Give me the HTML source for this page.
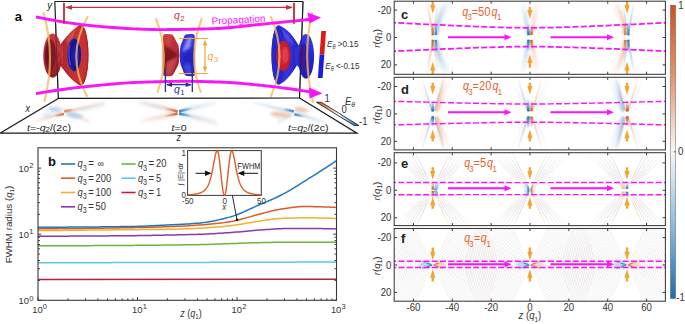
<!DOCTYPE html><html><head><meta charset="utf-8"><style>html,body{margin:0;padding:0;background:#fff;width:685px;height:324px;overflow:hidden;}svg{display:block;}</style></head><body>
<svg width="685" height="324" viewBox="0 0 685 324" font-family='"Liberation Sans", sans-serif'>
<rect width="685" height="324" fill="#fff"/>
<defs><filter id="fb0" x="-50%" y="-50%" width="200%" height="200%"><feGaussianBlur stdDeviation="0.6"/></filter><filter id="fb1" x="-50%" y="-50%" width="200%" height="200%"><feGaussianBlur stdDeviation="0.9"/></filter><filter id="fb2" x="-50%" y="-50%" width="200%" height="200%"><feGaussianBlur stdDeviation="1.6"/></filter><clipPath id="flc"><path d="M58.3,98.9 L0,133 L357,133 L299.8,98.4 Z"/></clipPath></defs>
<g clip-path="url(#flc)">
<defs><linearGradient id="fg1" gradientUnits="userSpaceOnUse" x1="174.3" y1="110.68" x2="140.3" y2="102.52"><stop offset="0" stop-color="#eeb49a" stop-opacity="0.8"/><stop offset="1" stop-color="#eeb49a" stop-opacity="0.15"/></linearGradient></defs><path d="M174.63,109.32 L140.72,100.77 L139.88,104.27 L173.97,112.04 Z" fill="url(#fg1)" filter="url(#fb2)"/>
<defs><linearGradient id="fg2" gradientUnits="userSpaceOnUse" x1="177.5" y1="111.3" x2="164.3" y2="108.18"><stop offset="0" stop-color="#d2602a" stop-opacity="1.0"/><stop offset="1" stop-color="#d2602a" stop-opacity="0.0"/></linearGradient></defs><path d="M177.82,109.94 L164.58,107.01 L164.02,109.35 L177.18,112.66 Z" fill="url(#fg2)" filter="url(#fb0)"/>
<defs><linearGradient id="fg3" gradientUnits="userSpaceOnUse" x1="174.3" y1="114.23" x2="140.3" y2="121.37"><stop offset="0" stop-color="#eeb49a" stop-opacity="0.8"/><stop offset="1" stop-color="#eeb49a" stop-opacity="0.15"/></linearGradient></defs><path d="M174.01,112.86 L139.93,119.61 L140.67,123.13 L174.59,115.6 Z" fill="url(#fg3)" filter="url(#fb2)"/>
<defs><linearGradient id="fg4" gradientUnits="userSpaceOnUse" x1="177.5" y1="113.7" x2="164.3" y2="116.43"><stop offset="0" stop-color="#d2602a" stop-opacity="1.0"/><stop offset="1" stop-color="#d2602a" stop-opacity="0.0"/></linearGradient></defs><path d="M177.22,112.33 L164.06,115.25 L164.54,117.61 L177.78,115.07 Z" fill="url(#fg4)" filter="url(#fb0)"/>
<defs><linearGradient id="fg5" gradientUnits="userSpaceOnUse" x1="182.3" y1="110.68" x2="216.3" y2="102.52"><stop offset="0" stop-color="#a6cae8" stop-opacity="0.8"/><stop offset="1" stop-color="#a6cae8" stop-opacity="0.15"/></linearGradient></defs><path d="M182.63,112.04 L216.72,104.27 L215.88,100.77 L181.97,109.32 Z" fill="url(#fg5)" filter="url(#fb2)"/>
<defs><linearGradient id="fg6" gradientUnits="userSpaceOnUse" x1="179.1" y1="111.3" x2="192.3" y2="108.18"><stop offset="0" stop-color="#2a7cc4" stop-opacity="1.0"/><stop offset="1" stop-color="#2a7cc4" stop-opacity="0.0"/></linearGradient></defs><path d="M179.42,112.66 L192.58,109.35 L192.02,107.01 L178.78,109.94 Z" fill="url(#fg6)" filter="url(#fb0)"/>
<defs><linearGradient id="fg7" gradientUnits="userSpaceOnUse" x1="182.3" y1="114.23" x2="216.3" y2="121.37"><stop offset="0" stop-color="#a6cae8" stop-opacity="0.8"/><stop offset="1" stop-color="#a6cae8" stop-opacity="0.15"/></linearGradient></defs><path d="M182.01,115.6 L215.93,123.13 L216.67,119.61 L182.59,112.86 Z" fill="url(#fg7)" filter="url(#fb2)"/>
<defs><linearGradient id="fg8" gradientUnits="userSpaceOnUse" x1="179.1" y1="113.7" x2="192.3" y2="116.43"><stop offset="0" stop-color="#2a7cc4" stop-opacity="1.0"/><stop offset="1" stop-color="#2a7cc4" stop-opacity="0.0"/></linearGradient></defs><path d="M178.82,115.07 L192.06,117.61 L192.54,115.25 L179.38,112.33 Z" fill="url(#fg8)" filter="url(#fb0)"/>
<path d="M138.07,102.47 L166.07,108.97 L166.53,107.03 L138.53,100.53 Z" fill="#a6cae8" fill-opacity="0.35" filter="url(#fb2)"/>
<path d="M218.54,123.53 L190.54,116.53 L190.06,118.47 L218.06,125.47 Z" fill="#eeb49a" fill-opacity="0.35" filter="url(#fb2)"/>
<defs><linearGradient id="fg9" gradientUnits="userSpaceOnUse" x1="61.1" y1="113.8" x2="34.1" y2="121.8"><stop offset="0" stop-color="#eeb49a" stop-opacity="0.9"/><stop offset="1" stop-color="#eeb49a" stop-opacity="0.2"/></linearGradient></defs><path d="M60.73,112.55 L33.76,120.65 L34.44,122.95 L61.47,115.05 Z" fill="url(#fg9)" filter="url(#fb1)"/>
<defs><linearGradient id="fg10" gradientUnits="userSpaceOnUse" x1="67.1" y1="111.8" x2="105.1" y2="102.3"><stop offset="0" stop-color="#eeb49a" stop-opacity="0.9"/><stop offset="1" stop-color="#eeb49a" stop-opacity="0.25"/></linearGradient></defs><path d="M67.42,113.06 L105.39,103.46 L104.81,101.14 L66.78,110.54 Z" fill="url(#fg10)" filter="url(#fb1)"/>
<defs><linearGradient id="fg11" gradientUnits="userSpaceOnUse" x1="63.8" y1="114" x2="55.1" y2="116"><stop offset="0" stop-color="#d2602a" stop-opacity="1.0"/><stop offset="1" stop-color="#d2602a" stop-opacity="0.1"/></linearGradient></defs><path d="M63.51,112.73 L54.83,114.83 L55.37,117.17 L64.09,115.27 Z" fill="url(#fg11)" filter="url(#fb0)"/>
<defs><linearGradient id="fg12" gradientUnits="userSpaceOnUse" x1="64.4" y1="111.4" x2="73.1" y2="109.4"><stop offset="0" stop-color="#d2602a" stop-opacity="1.0"/><stop offset="1" stop-color="#d2602a" stop-opacity="0.1"/></linearGradient></defs><path d="M64.69,112.67 L73.37,110.57 L72.83,108.23 L64.11,110.13 Z" fill="url(#fg12)" filter="url(#fb0)"/>
<path d="M54.63,106.8 L88.57,122.93 L89.63,120.67 L55.57,104.8 Z" fill="#eeb49a" fill-opacity="0.45" filter="url(#fb2)"/>
<ellipse cx="54.6" cy="109.6" rx="7" ry="2.4" fill="#a6cae8" fill-opacity="0.85" filter="url(#fb2)" transform="rotate(12 54.6 109.6)"/>
<ellipse cx="74.1" cy="115.3" rx="9" ry="2.6" fill="#a6cae8" fill-opacity="0.85" filter="url(#fb2)" transform="rotate(10 74.1 115.3)"/>
<ellipse cx="47.1" cy="114.8" rx="6" ry="2" fill="#a6cae8" fill-opacity="0.45" filter="url(#fb2)" transform="rotate(-10 47.1 114.8)"/>
<path d="M80.37,111.87 L104.34,105.77 L103.86,103.83 L79.83,109.73 Z" fill="#a6cae8" fill-opacity="0.45" filter="url(#fb2)"/>
<defs><linearGradient id="fg13" gradientUnits="userSpaceOnUse" x1="291.3" y1="111.8" x2="254.3" y2="102.8"><stop offset="0" stop-color="#a6cae8" stop-opacity="0.9"/><stop offset="1" stop-color="#a6cae8" stop-opacity="0.25"/></linearGradient></defs><path d="M291.61,110.54 L254.58,101.63 L254.02,103.97 L290.99,113.06 Z" fill="url(#fg13)" filter="url(#fb1)"/>
<defs><linearGradient id="fg14" gradientUnits="userSpaceOnUse" x1="297.3" y1="113.8" x2="325.3" y2="122.3"><stop offset="0" stop-color="#a6cae8" stop-opacity="0.9"/><stop offset="1" stop-color="#a6cae8" stop-opacity="0.2"/></linearGradient></defs><path d="M296.92,115.04 L324.95,123.45 L325.65,121.15 L297.68,112.56 Z" fill="url(#fg14)" filter="url(#fb1)"/>
<defs><linearGradient id="fg15" gradientUnits="userSpaceOnUse" x1="293.8" y1="111.4" x2="283.8" y2="108.9"><stop offset="0" stop-color="#2a7cc4" stop-opacity="1.0"/><stop offset="1" stop-color="#2a7cc4" stop-opacity="0.1"/></linearGradient></defs><path d="M294.12,110.14 L284.09,107.74 L283.51,110.06 L293.48,112.66 Z" fill="url(#fg15)" filter="url(#fb0)"/>
<defs><linearGradient id="fg16" gradientUnits="userSpaceOnUse" x1="294.5" y1="114.3" x2="303.3" y2="116.6"><stop offset="0" stop-color="#2a7cc4" stop-opacity="1.0"/><stop offset="1" stop-color="#2a7cc4" stop-opacity="0.1"/></linearGradient></defs><path d="M294.17,115.56 L303,117.76 L303.6,115.44 L294.83,113.04 Z" fill="url(#fg16)" filter="url(#fb0)"/>
<path d="M277.89,124.23 L300.89,109.73 L299.71,107.87 L276.71,122.37 Z" fill="#a6cae8" fill-opacity="0.4" filter="url(#fb2)"/>
<ellipse cx="280.8" cy="114.8" rx="11" ry="2.8" fill="#eeb49a" fill-opacity="0.8" filter="url(#fb2)" transform="rotate(6 280.8 114.8)"/>
<ellipse cx="301.3" cy="109.7" rx="7" ry="2.4" fill="#eeb49a" fill-opacity="0.8" filter="url(#fb2)" transform="rotate(10 301.3 109.7)"/>
</g>
<defs><linearGradient id="fcb" gradientUnits="userSpaceOnUse" x1="318" y1="102.2" x2="357" y2="125.6"><stop offset="0" stop-color="#c8501e"/><stop offset="0.22" stop-color="#e8946a"/><stop offset="0.5" stop-color="#f6f4f4"/><stop offset="0.75" stop-color="#88bce2"/><stop offset="1" stop-color="#1a6cb0"/></linearGradient></defs>
<path d="M316.4,102.2 L321.2,102.2 L359,125.6 L354.2,125.6 Z" fill="url(#fcb)" stroke="#1a1a1a" stroke-width="0.8" stroke-linejoin="round"/>
<text transform="translate(324.6,101.8) scale(1,1.18)" font-size="9.5" fill="#333" font-family='"Liberation Sans", sans-serif'>1</text>
<text transform="translate(341.4,113.4) scale(1,1.18)" font-size="9.5" fill="#333" font-family='"Liberation Sans", sans-serif'>0</text>
<text transform="translate(359,125.2) scale(1,1.18)" font-size="9.5" fill="#333" font-family='"Liberation Sans", sans-serif'>-1</text>
<text transform="translate(345,104.5) scale(1,1.18)" font-size="9.5" font-style="italic" fill="#333" font-family='"Liberation Sans", sans-serif'>E<tspan font-size="6.8" dy="2.2">θ</tspan></text>
<g stroke="#1a1a1a" stroke-width="1.2" fill="none">
<path d="M54.8,1.5 L303,1.5"/>
<path d="M54.8,1.5 L58.3,98.4 L299.5,98 L303,1.5"/>
<path d="M58.3,98.4 L0,133.2 L357,133.2 L299.5,98"/>
</g>
<defs><linearGradient id="rc" x1="0" y1="0" x2="1" y2="0"><stop offset="0" stop-color="#a8222a"/><stop offset="0.6" stop-color="#cc3838"/><stop offset="1" stop-color="#b82c2e"/></linearGradient><linearGradient id="rv" x1="0" y1="0" x2="0" y2="1"><stop offset="0" stop-color="#c83c3e"/><stop offset="0.5" stop-color="#b42a30"/><stop offset="1" stop-color="#901c24"/></linearGradient><radialGradient id="bi" cx="0.6" cy="0.5" r="0.6"><stop offset="0" stop-color="#2424c0"/><stop offset="0.7" stop-color="#121296"/><stop offset="1" stop-color="#3030b0"/></radialGradient><linearGradient id="bc" x1="0" y1="0" x2="1" y2="0"><stop offset="0" stop-color="#2a2ad8"/><stop offset="0.6" stop-color="#3434e0"/><stop offset="1" stop-color="#2020b8"/></linearGradient><linearGradient id="bv" x1="0" y1="0" x2="0" y2="1"><stop offset="0" stop-color="#3c3ce4"/><stop offset="0.5" stop-color="#2828cc"/><stop offset="1" stop-color="#1c1cb0"/></linearGradient><radialGradient id="ri" cx="0.45" cy="0.5" r="0.6"><stop offset="0" stop-color="#e02a3a"/><stop offset="0.7" stop-color="#c81c2c"/><stop offset="1" stop-color="#b0182a"/></radialGradient><linearGradient id="rm" x1="0" y1="0" x2="0.3" y2="1"><stop offset="0" stop-color="#cc4040"/><stop offset="0.5" stop-color="#b82e34"/><stop offset="1" stop-color="#a0222a"/></linearGradient><linearGradient id="bm" x1="0" y1="0" x2="-0.3" y2="1"><stop offset="0" stop-color="#3434dc"/><stop offset="0.5" stop-color="#2a2ad0"/><stop offset="1" stop-color="#2020b8"/></linearGradient><filter id="sh1" x="-50%" y="-50%" width="200%" height="200%"><feGaussianBlur stdDeviation="1.1"/></filter></defs>
<path d="M60,45 C65,38 72,29.5 80.5,24.6 A8,30.6 0 0 1 80.5,85.8 C72,81.5 65,72 60,65 Z" fill="url(#rc)"/>
<path d="M66,40 C70,34 75,29 80,26 L78,34 C74,37 70,40 67,44 Z" fill="#e87878" opacity="0.45" filter="url(#sh1)"/>
<ellipse cx="81" cy="55.2" rx="7.4" ry="30.4" fill="#b02428"/>
<ellipse cx="79.2" cy="55.2" rx="8" ry="28.6" fill="#c43234"/>
<ellipse cx="74.2" cy="55" rx="6.9" ry="16.4" fill="url(#bi)"/>
<path d="M69.5,45 Q68,55 70.5,65" stroke="#6a6ae8" stroke-width="1.3" fill="none" opacity="0.55"/>
<path d="M55,39 C58,42 60,44 63,47 L63,63 C60,66 58,68 55,71 Z" fill="#c4343a"/>
<ellipse cx="52.6" cy="55.6" rx="9.3" ry="22.2" fill="url(#rv)"/>
<ellipse cx="50.3" cy="55.2" rx="5.6" ry="15.8" fill="#7c1a2a"/>
<ellipse cx="48.6" cy="55" rx="2.4" ry="10" fill="#5a1020" opacity="0.7"/>
<path d="M57,47 L63,54 L57,63" stroke="#e85050" stroke-width="1" fill="none" opacity="0.5"/>
<path d="M55.6,24 L57.9,88" stroke="#1a1a1a" stroke-width="1" opacity="0.45"/>
<path d="M163,36.5 Q163,34 165.5,34 L171,34.3 Q172.5,34.5 173.5,36 L178,44.5 Q179.2,47 179.4,55 Q179.2,63 178,65.5 L173.5,74 Q172.5,75.8 171,75.9 L165.5,76.2 Q163,76.2 162.9,73.5 Z" fill="url(#rm)"/>
<path d="M163,44 L178.5,55 L170,60 L163,72 Z" fill="#701018" opacity="0.75" filter="url(#sh1)"/>
<path d="M166,62 L177,58 L172,74 L166,76 Z" fill="#e07070" opacity="0.45" filter="url(#sh1)"/>
<path d="M166,36 L171,36 L170,48 L166,46 Z" fill="#d85858" opacity="0.4" filter="url(#sh1)"/>
<path d="M194.8,36.5 Q194.8,34 192.3,34 L186.8,34.3 Q185.3,34.5 184.3,36 L181,44.5 Q179.9,47 179.8,55 Q179.9,63 181,65.5 L184.3,74 Q185.3,75.8 186.8,75.9 L192.3,76.2 Q194.8,76.2 194.9,73.5 Z" fill="url(#bm)"/>
<path d="M182,52 L187,39 L192,36.5 L190,48 Z" fill="#a8a8f6" opacity="0.75" filter="url(#sh1)"/>
<path d="M183,57 L194,46 L194.5,70 Z" fill="#1414a0" opacity="0.45" filter="url(#sh1)"/>
<path d="M183,66 L190,62 L192,74 L187,75 Z" fill="#6a6ae8" opacity="0.4" filter="url(#sh1)"/>
<path d="M299,46 C294,37 288,28.5 278.8,25.2 A7.2,29.8 0 0 0 278.8,84.8 C288,81 294,70 299,62 Z" fill="url(#bc)"/>
<path d="M294,44 C291,38 286,32 280,28 L282,35 C286,38 289,41 292,46 Z" fill="#7a7af0" opacity="0.4" filter="url(#sh1)"/>
<ellipse cx="278.4" cy="55" rx="7" ry="29.6" fill="#2626cc"/>
<ellipse cx="283.6" cy="56" rx="7.2" ry="15.3" fill="url(#ri)"/>
<ellipse cx="285.5" cy="55" rx="3" ry="8" fill="#f05a6a" opacity="0.45"/>
<path d="M295,48 L301,43 L301,70 L295,63 Z" fill="#3030d0"/>
<ellipse cx="306" cy="56.3" rx="8.1" ry="22.4" fill="url(#bv)"/>
<ellipse cx="303.6" cy="57" rx="4.2" ry="13.5" fill="#3a1a9c"/>
<ellipse cx="302.5" cy="57" rx="1.8" ry="8" fill="#52108a" opacity="0.6"/>
<path d="M303,1.5 L299.5,98" stroke="#1a1a1a" stroke-width="0.9" opacity="0.55"/>
<path d="M43.5,13 Q56,56 44.5,101" stroke="#f8b85a" stroke-width="2.1" stroke-opacity="0.8" fill="none" stroke-linecap="round"/>
<path d="M87.5,17 Q65.35,56 87,96" stroke="#f8b85a" stroke-width="2.1" stroke-opacity="0.8" fill="none" stroke-linecap="round"/>
<path d="M156,19 Q170.8,56 157.6,92" stroke="#f8b85a" stroke-width="2.1" stroke-opacity="0.8" fill="none" stroke-linecap="round"/>
<path d="M201.6,19 Q187.3,56 200.6,92" stroke="#f8b85a" stroke-width="2.1" stroke-opacity="0.8" fill="none" stroke-linecap="round"/>
<path d="M271,17 Q288,56 271,96" stroke="#f8b85a" stroke-width="2.1" stroke-opacity="0.8" fill="none" stroke-linecap="round"/>
<path d="M312,13 Q301.9,56 313,102" stroke="#f8b85a" stroke-width="2.1" stroke-opacity="0.8" fill="none" stroke-linecap="round"/>
<path d="M36,17 L39.49,17.69 L42.99,18.36 L46.48,19.03 L49.97,19.67 L53.47,20.3 L56.96,20.92 L60.46,21.51 L63.95,22.09 L67.44,22.64 L70.94,23.17 L74.43,23.68 L77.92,24.16 L81.42,24.61 L84.91,25.03 L88.41,25.43 L91.9,25.79 L95.39,26.12 L98.89,26.41 L102.38,26.68 L105.87,26.95 L109.37,27.21 L112.86,27.47 L116.35,27.73 L119.85,27.97 L123.34,28.21 L126.84,28.43 L130.33,28.64 L133.82,28.84 L137.32,29.01 L140.81,29.17 L144.3,29.31 L147.8,29.42 L151.29,29.51 L154.78,29.57 L158.28,29.6 L161.77,29.6 L165.27,29.59 L168.76,29.57 L172.25,29.54 L175.75,29.5 L179.24,29.45 L182.73,29.4 L186.23,29.34 L189.72,29.27 L193.22,29.19 L196.71,29.11 L200.2,29.02 L203.7,28.93 L207.19,28.83 L210.68,28.73 L214.18,28.63 L217.67,28.5 L221.16,28.31 L224.66,28.07 L228.15,27.79 L231.65,27.47 L235.14,27.12 L238.63,26.75 L242.13,26.36 L245.62,25.96 L249.11,25.56 L252.61,25.17 L256.1,24.79 L259.59,24.44 L263.09,24.1 L266.58,23.76 L270.08,23.41 L273.57,23.06 L277.06,22.71 L280.56,22.36 L284.05,22.01 L287.54,21.65 L291.04,21.3 L294.53,20.95 L298.03,20.6 L301.52,20.25 L305.01,19.9 L308.51,19.55 L312,19.2" stroke="#fa14fa" stroke-width="2.9" fill="none"/>
<path d="M36,93.6 L39.52,93.01 L43.04,92.43 L46.56,91.86 L50.08,91.3 L53.59,90.76 L57.11,90.23 L60.63,89.72 L64.15,89.24 L67.67,88.78 L71.19,88.34 L74.71,87.93 L78.23,87.54 L81.75,87.15 L85.27,86.77 L88.78,86.38 L92.3,86 L95.82,85.63 L99.34,85.27 L102.86,84.92 L106.38,84.58 L109.9,84.26 L113.42,83.95 L116.94,83.66 L120.46,83.39 L123.97,83.13 L127.49,82.91 L131.01,82.7 L134.53,82.52 L138.05,82.37 L141.57,82.25 L145.09,82.13 L148.61,82.01 L152.13,81.9 L155.65,81.79 L159.16,81.69 L162.68,81.6 L166.2,81.52 L169.72,81.45 L173.24,81.39 L176.76,81.35 L180.28,81.32 L183.8,81.3 L187.32,81.3 L190.84,81.33 L194.35,81.37 L197.87,81.43 L201.39,81.51 L204.91,81.6 L208.43,81.71 L211.95,81.82 L215.47,81.94 L218.99,82.07 L222.51,82.2 L226.03,82.34 L229.54,82.52 L233.06,82.73 L236.58,82.99 L240.1,83.27 L243.62,83.58 L247.14,83.91 L250.66,84.26 L254.18,84.61 L257.7,84.97 L261.22,85.32 L264.73,85.69 L268.25,86.09 L271.77,86.5 L275.29,86.93 L278.81,87.38 L282.33,87.84 L285.85,88.31 L289.37,88.8 L292.89,89.29 L296.41,89.79 L299.92,90.29 L303.44,90.81 L306.96,91.36 L310.48,91.92 L314,92.5" stroke="#fa14fa" stroke-width="2.9" fill="none"/>
<path d="M307.5,12.5 L321,17.6 L309.5,23.5 Z" fill="#fa14fa"/>
<path d="M309,87.5 L322.5,93.3 L309.5,98.5 Z" fill="#fa14fa"/>
<text transform="translate(238.7,23.2) scale(1,1.0) rotate(-3)" font-size="10" fill="#fa14fa" text-anchor="middle" font-family='"Liberation Sans", sans-serif'>Propagation</text>
<g stroke="#c8323c" stroke-width="1.2" fill="none">
<path d="M64,2.8 L64,23.7 M294,2.8 L294,23.7" stroke-width="1.9"/>
<path d="M66,7.4 L292,7.4"/>
</g>
<path d="M65,7.4 L72,5 L72,9.8 Z M293,7.4 L286,5 L286,9.8 Z" fill="#c8323c"/>
<text transform="translate(174,18.5) scale(1,1.0)" font-size="10.5" font-style="italic" fill="#c8323c" font-family='"Liberation Sans", sans-serif'>q<tspan font-size="7.8" dx="0.4" dy="2.6" font-style="normal">2</tspan></text>
<g stroke="#f6a53c" stroke-width="1.2" fill="none">
<path d="M178.7,38.5 L208.3,38.5 M178.7,73.5 L208.3,73.5 M205,41 L205,71"/>
</g>
<path d="M205,39.5 L202.8,45.5 L207.2,45.5 Z M205,72.5 L202.8,66.5 L207.2,66.5 Z" fill="#f6a53c"/>
<text transform="translate(207.5,59.5) scale(1,1.0)" font-size="10.5" font-style="italic" fill="#f6a53c" font-family='"Liberation Sans", sans-serif'>q<tspan font-size="7.8" dx="0.4" dy="2.6" font-style="normal">3</tspan></text>
<g stroke="#2c2c9c" stroke-width="1.3" fill="none">
<path d="M165.4,68 L165.4,92 M192.3,68 L192.3,92 M167,84.7 L190.7,84.7"/>
</g>
<path d="M166,84.7 L172,82.5 L172,86.9 Z M191.7,84.7 L185.7,82.5 L185.7,86.9 Z" fill="#2c2c9c"/>
<text transform="translate(174,92.8) scale(1,1.0)" font-size="10.5" font-style="italic" fill="#2c2c9c" font-family='"Liberation Sans", sans-serif'>q<tspan font-size="7.8" dx="0.4" dy="2.6" font-style="normal">1</tspan></text>
<path d="M321.3,31 L326,31 L324.3,54.6 L319.6,54.6 Z" fill="#e01818"/>
<path d="M319.6,54.6 L324.3,54.6 L322.6,78 L317.9,78 Z" fill="#1c1ce0"/>
<text transform="translate(327,46.5) scale(1,1.18)" font-size="8.2" fill="#333" font-family='"Liberation Sans", sans-serif'><tspan font-style="italic">E</tspan><tspan font-size="5.5" dy="2" font-style="italic">θ</tspan><tspan dy="-2"> &gt;0.15</tspan></text>
<text transform="translate(325.3,68.5) scale(1,1.18)" font-size="8.2" fill="#333" font-family='"Liberation Sans", sans-serif'><tspan font-style="italic">E</tspan><tspan font-size="5.5" dy="2" font-style="italic">θ</tspan><tspan dy="-2"> &lt;-0.15</tspan></text>
<text transform="translate(14.8,20.9) scale(1,1.0)" font-size="13" font-weight="bold" fill="#111" font-family='"Liberation Sans", sans-serif'>a</text>
<text transform="translate(47.3,8.6) scale(1,1.18)" font-size="9.5" font-style="italic" fill="#222" font-family='"Liberation Sans", sans-serif'>y</text>
<text transform="translate(25.4,111.6) scale(1,1.18)" font-size="9" font-style="italic" fill="#222" font-family='"Liberation Sans", sans-serif'>x</text>
<text transform="translate(176.5,141) scale(1,1.18)" font-size="9" font-style="italic" fill="#222" font-family='"Liberation Sans", sans-serif'>z</text>
<text transform="translate(27,130.6) scale(1,0.92)" font-size="10.6" fill="#222" font-family='"Liberation Sans", sans-serif'><tspan font-style="italic">t</tspan>=-<tspan font-style="italic">q</tspan><tspan font-size="7.8" dy="1.8">2</tspan><tspan dy="-1.8">/(2c)</tspan></text>
<text transform="translate(171.6,130.8) scale(1,0.92)" font-size="10.6" fill="#222" font-family='"Liberation Sans", sans-serif'><tspan font-style="italic">t</tspan>=0</text>
<text transform="translate(288,130.6) scale(1,0.92)" font-size="10.6" fill="#222" font-family='"Liberation Sans", sans-serif'><tspan font-style="italic">t</tspan>=<tspan font-style="italic">q</tspan><tspan font-size="7.8" dy="1.8">2</tspan><tspan dy="-1.8">/(2c)</tspan></text>
<path d="M38,279.4 L336.5,279.3" stroke="#b8203c" stroke-width="1.5" fill="none"/>
<path d="M38,262.8 L40.51,262.79 L43.02,262.79 L45.53,262.78 L48.03,262.78 L50.54,262.77 L53.05,262.77 L55.56,262.76 L58.07,262.75 L60.58,262.75 L63.08,262.74 L65.59,262.74 L68.1,262.73 L70.61,262.73 L73.12,262.72 L75.63,262.71 L78.13,262.71 L80.64,262.7 L83.15,262.7 L85.66,262.69 L88.17,262.68 L90.68,262.68 L93.18,262.67 L95.69,262.67 L98.2,262.66 L100.71,262.65 L103.22,262.65 L105.73,262.64 L108.24,262.64 L110.74,262.63 L113.25,262.62 L115.76,262.62 L118.27,262.61 L120.78,262.61 L123.29,262.6 L125.79,262.59 L128.3,262.59 L130.81,262.58 L133.32,262.57 L135.83,262.57 L138.34,262.56 L140.84,262.55 L143.35,262.55 L145.86,262.54 L148.37,262.54 L150.88,262.53 L153.39,262.52 L155.89,262.52 L158.4,262.51 L160.91,262.5 L163.42,262.5 L165.93,262.49 L168.44,262.48 L170.95,262.48 L173.45,262.47 L175.96,262.46 L178.47,262.46 L180.98,262.45 L183.49,262.44 L186,262.44 L188.5,262.43 L191.01,262.42 L193.52,262.42 L196.03,262.41 L198.54,262.4 L201.05,262.4 L203.55,262.39 L206.06,262.38 L208.57,262.38 L211.08,262.37 L213.59,262.36 L216.1,262.36 L218.61,262.35 L221.11,262.34 L223.62,262.34 L226.13,262.33 L228.64,262.32 L231.15,262.31 L233.66,262.31 L236.16,262.3 L238.67,262.29 L241.18,262.29 L243.69,262.28 L246.2,262.27 L248.71,262.26 L251.21,262.26 L253.72,262.25 L256.23,262.24 L258.74,262.24 L261.25,262.23 L263.76,262.22 L266.26,262.21 L268.77,262.21 L271.28,262.2 L273.79,262.19 L276.3,262.18 L278.81,262.18 L281.32,262.17 L283.82,262.16 L286.33,262.15 L288.84,262.15 L291.35,262.14 L293.86,262.13 L296.37,262.12 L298.87,262.12 L301.38,262.11 L303.89,262.1 L306.4,262.09 L308.91,262.09 L311.42,262.08 L313.92,262.07 L316.43,262.06 L318.94,262.05 L321.45,262.05 L323.96,262.04 L326.47,262.03 L328.97,262.02 L331.48,262.02 L333.99,262.01 L336.5,262" stroke="#5ac8ec" stroke-width="1.5" fill="none"/>
<path d="M38,245.8 L40.51,245.8 L43.02,245.8 L45.53,245.79 L48.03,245.79 L50.54,245.79 L53.05,245.78 L55.56,245.78 L58.07,245.77 L60.58,245.76 L63.08,245.75 L65.59,245.75 L68.1,245.74 L70.61,245.73 L73.12,245.72 L75.63,245.71 L78.13,245.7 L80.64,245.69 L83.15,245.67 L85.66,245.66 L88.17,245.65 L90.68,245.64 L93.18,245.62 L95.69,245.61 L98.2,245.6 L100.71,245.58 L103.22,245.57 L105.73,245.55 L108.24,245.54 L110.74,245.52 L113.25,245.51 L115.76,245.49 L118.27,245.47 L120.78,245.46 L123.29,245.44 L125.79,245.43 L128.3,245.41 L130.81,245.39 L133.32,245.38 L135.83,245.36 L138.34,245.34 L140.84,245.32 L143.35,245.31 L145.86,245.29 L148.37,245.26 L150.88,245.24 L153.39,245.22 L155.89,245.2 L158.4,245.17 L160.91,245.15 L163.42,245.12 L165.93,245.09 L168.44,245.06 L170.95,245.03 L173.45,245 L175.96,244.97 L178.47,244.94 L180.98,244.9 L183.49,244.87 L186,244.83 L188.5,244.79 L191.01,244.75 L193.52,244.71 L196.03,244.67 L198.54,244.63 L201.05,244.58 L203.55,244.52 L206.06,244.46 L208.57,244.38 L211.08,244.3 L213.59,244.21 L216.1,244.12 L218.61,244.02 L221.11,243.92 L223.62,243.83 L226.13,243.74 L228.64,243.65 L231.15,243.56 L233.66,243.47 L236.16,243.38 L238.67,243.29 L241.18,243.19 L243.69,243.1 L246.2,243 L248.71,242.91 L251.21,242.83 L253.72,242.75 L256.23,242.68 L258.74,242.63 L261.25,242.58 L263.76,242.53 L266.26,242.48 L268.77,242.43 L271.28,242.39 L273.79,242.35 L276.3,242.31 L278.81,242.28 L281.32,242.25 L283.82,242.22 L286.33,242.21 L288.84,242.2 L291.35,242.2 L293.86,242.2 L296.37,242.2 L298.87,242.2 L301.38,242.2 L303.89,242.2 L306.4,242.2 L308.91,242.2 L311.42,242.2 L313.92,242.2 L316.43,242.2 L318.94,242.2 L321.45,242.2 L323.96,242.2 L326.47,242.2 L328.97,242.2 L331.48,242.2 L333.99,242.2 L336.5,242.2" stroke="#72b43a" stroke-width="1.5" fill="none"/>
<path d="M38,236.2 L40.51,236.2 L43.02,236.2 L45.53,236.2 L48.03,236.19 L50.54,236.19 L53.05,236.18 L55.56,236.18 L58.07,236.17 L60.58,236.16 L63.08,236.15 L65.59,236.14 L68.1,236.13 L70.61,236.12 L73.12,236.11 L75.63,236.1 L78.13,236.09 L80.64,236.07 L83.15,236.06 L85.66,236.04 L88.17,236.03 L90.68,236.01 L93.18,235.99 L95.69,235.98 L98.2,235.96 L100.71,235.94 L103.22,235.92 L105.73,235.9 L108.24,235.88 L110.74,235.86 L113.25,235.84 L115.76,235.82 L118.27,235.8 L120.78,235.78 L123.29,235.76 L125.79,235.74 L128.3,235.72 L130.81,235.69 L133.32,235.67 L135.83,235.64 L138.34,235.6 L140.84,235.57 L143.35,235.53 L145.86,235.48 L148.37,235.44 L150.88,235.39 L153.39,235.34 L155.89,235.29 L158.4,235.24 L160.91,235.19 L163.42,235.14 L165.93,235.08 L168.44,235.03 L170.95,234.98 L173.45,234.93 L175.96,234.88 L178.47,234.83 L180.98,234.78 L183.49,234.73 L186,234.68 L188.5,234.62 L191.01,234.56 L193.52,234.49 L196.03,234.42 L198.54,234.35 L201.05,234.26 L203.55,234.17 L206.06,234.06 L208.57,233.94 L211.08,233.81 L213.59,233.67 L216.1,233.52 L218.61,233.36 L221.11,233.2 L223.62,233.03 L226.13,232.86 L228.64,232.69 L231.15,232.52 L233.66,232.33 L236.16,232.11 L238.67,231.89 L241.18,231.65 L243.69,231.41 L246.2,231.16 L248.71,230.92 L251.21,230.69 L253.72,230.47 L256.23,230.27 L258.74,230.08 L261.25,229.92 L263.76,229.75 L266.26,229.58 L268.77,229.41 L271.28,229.24 L273.79,229.09 L276.3,228.94 L278.81,228.8 L281.32,228.69 L283.82,228.6 L286.33,228.54 L288.84,228.5 L291.35,228.5 L293.86,228.5 L296.37,228.5 L298.87,228.5 L301.38,228.51 L303.89,228.51 L306.4,228.52 L308.91,228.53 L311.42,228.54 L313.92,228.55 L316.43,228.57 L318.94,228.6 L321.45,228.62 L323.96,228.66 L326.47,228.69 L328.97,228.74 L331.48,228.78 L333.99,228.84 L336.5,228.9" stroke="#8a3ab0" stroke-width="1.5" fill="none"/>
<path d="M38,230.6 L40.51,230.58 L43.02,230.55 L45.53,230.53 L48.03,230.5 L50.54,230.48 L53.05,230.45 L55.56,230.43 L58.07,230.41 L60.58,230.38 L63.08,230.36 L65.59,230.33 L68.1,230.31 L70.61,230.28 L73.12,230.26 L75.63,230.24 L78.13,230.21 L80.64,230.19 L83.15,230.16 L85.66,230.14 L88.17,230.11 L90.68,230.09 L93.18,230.06 L95.69,230.04 L98.2,230.01 L100.71,229.99 L103.22,229.96 L105.73,229.94 L108.24,229.92 L110.74,229.89 L113.25,229.87 L115.76,229.84 L118.27,229.82 L120.78,229.79 L123.29,229.77 L125.79,229.74 L128.3,229.72 L130.81,229.69 L133.32,229.67 L135.83,229.65 L138.34,229.63 L140.84,229.61 L143.35,229.59 L145.86,229.57 L148.37,229.54 L150.88,229.52 L153.39,229.5 L155.89,229.48 L158.4,229.45 L160.91,229.42 L163.42,229.39 L165.93,229.36 L168.44,229.32 L170.95,229.28 L173.45,229.23 L175.96,229.17 L178.47,229.1 L180.98,229.02 L183.49,228.93 L186,228.84 L188.5,228.74 L191.01,228.63 L193.52,228.51 L196.03,228.4 L198.54,228.27 L201.05,228.15 L203.55,228.01 L206.06,227.86 L208.57,227.69 L211.08,227.51 L213.59,227.32 L216.1,227.12 L218.61,226.91 L221.11,226.68 L223.62,226.45 L226.13,226.2 L228.64,225.94 L231.15,225.67 L233.66,225.36 L236.16,225 L238.67,224.61 L241.18,224.19 L243.69,223.75 L246.2,223.31 L248.71,222.86 L251.21,222.41 L253.72,221.98 L256.23,221.57 L258.74,221.18 L261.25,220.82 L263.76,220.45 L266.26,220.07 L268.77,219.7 L271.28,219.34 L273.79,219.03 L276.3,218.76 L278.81,218.57 L281.32,218.44 L283.82,218.33 L286.33,218.22 L288.84,218.13 L291.35,218.04 L293.86,217.96 L296.37,217.9 L298.87,217.85 L301.38,217.82 L303.89,217.8 L306.4,217.8 L308.91,217.81 L311.42,217.82 L313.92,217.85 L316.43,217.88 L318.94,217.92 L321.45,217.97 L323.96,218.03 L326.47,218.1 L328.97,218.18 L331.48,218.27 L333.99,218.38 L336.5,218.5" stroke="#f0b030" stroke-width="1.5" fill="none"/>
<path d="M38,228.7 L40.51,228.7 L43.02,228.7 L45.53,228.69 L48.03,228.68 L50.54,228.67 L53.05,228.66 L55.56,228.65 L58.07,228.63 L60.58,228.62 L63.08,228.6 L65.59,228.58 L68.1,228.56 L70.61,228.54 L73.12,228.51 L75.63,228.49 L78.13,228.46 L80.64,228.43 L83.15,228.4 L85.66,228.37 L88.17,228.34 L90.68,228.3 L93.18,228.27 L95.69,228.24 L98.2,228.2 L100.71,228.16 L103.22,228.13 L105.73,228.09 L108.24,228.05 L110.74,228.01 L113.25,227.97 L115.76,227.93 L118.27,227.89 L120.78,227.85 L123.29,227.81 L125.79,227.77 L128.3,227.73 L130.81,227.69 L133.32,227.64 L135.83,227.59 L138.34,227.54 L140.84,227.49 L143.35,227.43 L145.86,227.36 L148.37,227.3 L150.88,227.23 L153.39,227.15 L155.89,227.08 L158.4,227 L160.91,226.92 L163.42,226.83 L165.93,226.75 L168.44,226.66 L170.95,226.56 L173.45,226.47 L175.96,226.36 L178.47,226.25 L180.98,226.13 L183.49,226.01 L186,225.88 L188.5,225.74 L191.01,225.59 L193.52,225.44 L196.03,225.27 L198.54,225.1 L201.05,224.92 L203.55,224.73 L206.06,224.52 L208.57,224.3 L211.08,224.06 L213.59,223.81 L216.1,223.54 L218.61,223.25 L221.11,222.94 L223.62,222.62 L226.13,222.27 L228.64,221.91 L231.15,221.51 L233.66,221.05 L236.16,220.51 L238.67,219.9 L241.18,219.25 L243.69,218.56 L246.2,217.85 L248.71,217.12 L251.21,216.39 L253.72,215.67 L256.23,214.98 L258.74,214.31 L261.25,213.69 L263.76,213.05 L266.26,212.39 L268.77,211.74 L271.28,211.1 L273.79,210.51 L276.3,209.96 L278.81,209.49 L281.32,209.1 L283.82,208.7 L286.33,208.31 L288.84,207.93 L291.35,207.57 L293.86,207.25 L296.37,206.97 L298.87,206.75 L301.38,206.59 L303.89,206.51 L306.4,206.5 L308.91,206.53 L311.42,206.58 L313.92,206.64 L316.43,206.7 L318.94,206.77 L321.45,206.84 L323.96,206.91 L326.47,207 L328.97,207.09 L331.48,207.19 L333.99,207.29 L336.5,207.4" stroke="#e05a26" stroke-width="1.5" fill="none"/>
<path d="M38,227.2 L40.51,227.2 L43.02,227.2 L45.53,227.19 L48.03,227.19 L50.54,227.19 L53.05,227.18 L55.56,227.17 L58.07,227.16 L60.58,227.15 L63.08,227.14 L65.59,227.13 L68.1,227.12 L70.61,227.1 L73.12,227.09 L75.63,227.07 L78.13,227.06 L80.64,227.04 L83.15,227.02 L85.66,227 L88.17,226.98 L90.68,226.96 L93.18,226.93 L95.69,226.91 L98.2,226.88 L100.71,226.86 L103.22,226.83 L105.73,226.81 L108.24,226.78 L110.74,226.75 L113.25,226.72 L115.76,226.69 L118.27,226.66 L120.78,226.62 L123.29,226.59 L125.79,226.56 L128.3,226.52 L130.81,226.49 L133.32,226.44 L135.83,226.38 L138.34,226.32 L140.84,226.24 L143.35,226.15 L145.86,226.05 L148.37,225.95 L150.88,225.84 L153.39,225.72 L155.89,225.6 L158.4,225.48 L160.91,225.36 L163.42,225.23 L165.93,225.1 L168.44,224.98 L170.95,224.85 L173.45,224.73 L175.96,224.61 L178.47,224.48 L180.98,224.35 L183.49,224.21 L186,224.07 L188.5,223.91 L191.01,223.74 L193.52,223.56 L196.03,223.36 L198.54,223.14 L201.05,222.89 L203.55,222.6 L206.06,222.26 L208.57,221.86 L211.08,221.42 L213.59,220.94 L216.1,220.42 L218.61,219.87 L221.11,219.28 L223.62,218.66 L226.13,218.03 L228.64,217.37 L231.15,216.68 L233.66,215.89 L236.16,215.01 L238.67,214.05 L241.18,213.02 L243.69,211.93 L246.2,210.8 L248.71,209.65 L251.21,208.48 L253.72,207.32 L256.23,206.17 L258.74,205.05 L261.25,203.97 L263.76,202.91 L266.26,201.86 L268.77,200.8 L271.28,199.73 L273.79,198.63 L276.3,197.49 L278.81,196.29 L281.32,195.03 L283.82,193.71 L286.33,192.32 L288.84,190.89 L291.35,189.41 L293.86,187.9 L296.37,186.35 L298.87,184.79 L301.38,183.21 L303.89,181.63 L306.4,180.05 L308.91,178.48 L311.42,176.92 L313.92,175.35 L316.43,173.77 L318.94,172.17 L321.45,170.57 L323.96,168.95 L326.47,167.32 L328.97,165.68 L331.48,164.03 L333.99,162.37 L336.5,160.7" stroke="#1f77c4" stroke-width="1.5" fill="none"/>
<rect x="38" y="147.8" width="298.5" height="152.5" fill="none" stroke="#3a3a3a" stroke-width="1.1"/>
<path d="M38,300.3 L41.2,300.3 M336.5,300.3 L333.3,300.3 M38,280.4 L40,280.4 M336.5,280.4 L334.5,280.4 M38,268.76 L40,268.76 M336.5,268.76 L334.5,268.76 M38,260.5 L40,260.5 M336.5,260.5 L334.5,260.5 M38,254.1 L40,254.1 M336.5,254.1 L334.5,254.1 M38,248.86 L40,248.86 M336.5,248.86 L334.5,248.86 M38,244.44 L40,244.44 M336.5,244.44 L334.5,244.44 M38,240.61 L40,240.61 M336.5,240.61 L334.5,240.61 M38,237.22 L40,237.22 M336.5,237.22 L334.5,237.22 M38,234.2 L41.2,234.2 M336.5,234.2 L333.3,234.2 M38,214.3 L40,214.3 M336.5,214.3 L334.5,214.3 M38,202.66 L40,202.66 M336.5,202.66 L334.5,202.66 M38,194.4 L40,194.4 M336.5,194.4 L334.5,194.4 M38,188 L40,188 M336.5,188 L334.5,188 M38,182.76 L40,182.76 M336.5,182.76 L334.5,182.76 M38,178.34 L40,178.34 M336.5,178.34 L334.5,178.34 M38,174.51 L40,174.51 M336.5,174.51 L334.5,174.51 M38,171.12 L40,171.12 M336.5,171.12 L334.5,171.12 M38,168.1 L41.2,168.1 M336.5,168.1 L333.3,168.1 M38,300.3 L38,297.1 M67.95,300.3 L67.95,298.3 M85.47,300.3 L85.47,298.3 M97.9,300.3 L97.9,298.3 M107.55,300.3 L107.55,298.3 M115.43,300.3 L115.43,298.3 M122.09,300.3 L122.09,298.3 M127.86,300.3 L127.86,298.3 M132.95,300.3 L132.95,298.3 M137.5,300.3 L137.5,297.1 M167.45,300.3 L167.45,298.3 M184.97,300.3 L184.97,298.3 M197.4,300.3 L197.4,298.3 M207.05,300.3 L207.05,298.3 M214.93,300.3 L214.93,298.3 M221.59,300.3 L221.59,298.3 M227.36,300.3 L227.36,298.3 M232.45,300.3 L232.45,298.3 M237,300.3 L237,297.1 M266.95,300.3 L266.95,298.3 M284.47,300.3 L284.47,298.3 M296.9,300.3 L296.9,298.3 M306.55,300.3 L306.55,298.3 M314.43,300.3 L314.43,298.3 M321.09,300.3 L321.09,298.3 M326.86,300.3 L326.86,298.3 M331.95,300.3 L331.95,298.3 M336.5,300.3 L336.5,297.1" stroke="#3a3a3a" stroke-width="1" fill="none"/>
<text transform="translate(18.6,171.6) scale(1,1.06)" font-size="9.4" fill="#333" font-family='"Liberation Sans", sans-serif'>10<tspan font-size="7.6" dx="0.2" dy="-3.3">2</tspan></text>
<text transform="translate(18.6,237.8) scale(1,1.06)" font-size="9.4" fill="#333" font-family='"Liberation Sans", sans-serif'>10<tspan font-size="7.6" dx="0.2" dy="-3.3">1</tspan></text>
<text transform="translate(18.6,304) scale(1,1.06)" font-size="9.4" fill="#333" font-family='"Liberation Sans", sans-serif'>10<tspan font-size="7.6" dx="0.2" dy="-3.3">0</tspan></text>
<text transform="translate(32.2,312.9) scale(1,1.06)" font-size="9.4" fill="#333" font-family='"Liberation Sans", sans-serif'>10<tspan font-size="7.6" dx="0.2" dy="-3.3">0</tspan></text>
<text transform="translate(132,312.9) scale(1,1.06)" font-size="9.4" fill="#333" font-family='"Liberation Sans", sans-serif'>10<tspan font-size="7.6" dx="0.2" dy="-3.3">1</tspan></text>
<text transform="translate(231.6,312.9) scale(1,1.06)" font-size="9.4" fill="#333" font-family='"Liberation Sans", sans-serif'>10<tspan font-size="7.6" dx="0.2" dy="-3.3">2</tspan></text>
<text transform="translate(330.9,312.9) scale(1,1.06)" font-size="9.4" fill="#333" font-family='"Liberation Sans", sans-serif'>10<tspan font-size="7.6" dx="0.2" dy="-3.3">3</tspan></text>
<text transform="translate(180.3,316.7) scale(1,1.18)" font-size="9" fill="#333" font-family='"Liberation Sans", sans-serif'><tspan font-style="italic">z</tspan> (<tspan font-style="italic">q</tspan><tspan font-size="6" dy="2">1</tspan><tspan dy="-2">)</tspan></text>
<text transform="translate(12.3,224.5) scale(1,1.06) rotate(-90)" text-anchor="middle" font-size="9.2" fill="#333" font-family='"Liberation Sans", sans-serif'>FWHM radius (<tspan font-style="italic">q</tspan><tspan font-size="6" dy="2">1</tspan><tspan dy="-2">)</tspan></text>
<text transform="translate(47.9,165.6) scale(1,1.0)" font-size="13" font-weight="bold" fill="#111" font-family='"Liberation Sans", sans-serif'>b</text>
<path d="M61,164 L75.2,164" stroke="#1f77c4" stroke-width="1.6"/>
<text transform="translate(77.6,167.3) scale(1,1.18)" font-size="9.3" font-style="italic" fill="#333" font-family='"Liberation Sans", sans-serif'>q</text>
<text transform="translate(82.7,170.5) scale(1,1.18)" font-size="7.2" fill="#333" font-family='"Liberation Sans", sans-serif'>3</text>
<text transform="translate(88.2,167.3) scale(1,1.18)" font-size="9.6" fill="#333" font-family='"Liberation Sans", sans-serif'>=</text>
<text transform="translate(97.8,167.1) scale(1,1.18)" font-size="8.6" fill="#333" font-family='"Liberation Sans", sans-serif'>∞</text>
<path d="M61,178.2 L75.2,178.2" stroke="#e05a26" stroke-width="1.6"/>
<text transform="translate(77.6,181.5) scale(1,1.18)" font-size="9.3" font-style="italic" fill="#333" font-family='"Liberation Sans", sans-serif'>q</text>
<text transform="translate(82.7,184.7) scale(1,1.18)" font-size="7.2" fill="#333" font-family='"Liberation Sans", sans-serif'>3</text>
<text transform="translate(88.2,181.5) scale(1,1.18)" font-size="9.6" fill="#333" font-family='"Liberation Sans", sans-serif'>=</text>
<text transform="translate(95.6,181.5) scale(1,1.18)" font-size="9.3" fill="#333" font-family='"Liberation Sans", sans-serif'>200</text>
<path d="M61,192.5 L75.2,192.5" stroke="#f0b030" stroke-width="1.6"/>
<text transform="translate(77.6,195.8) scale(1,1.18)" font-size="9.3" font-style="italic" fill="#333" font-family='"Liberation Sans", sans-serif'>q</text>
<text transform="translate(82.7,199) scale(1,1.18)" font-size="7.2" fill="#333" font-family='"Liberation Sans", sans-serif'>3</text>
<text transform="translate(88.2,195.8) scale(1,1.18)" font-size="9.6" fill="#333" font-family='"Liberation Sans", sans-serif'>=</text>
<text transform="translate(95.6,195.8) scale(1,1.18)" font-size="9.3" fill="#333" font-family='"Liberation Sans", sans-serif'>100</text>
<path d="M61,206.8 L75.2,206.8" stroke="#8a3ab0" stroke-width="1.6"/>
<text transform="translate(77.6,210.1) scale(1,1.18)" font-size="9.3" font-style="italic" fill="#333" font-family='"Liberation Sans", sans-serif'>q</text>
<text transform="translate(82.7,213.3) scale(1,1.18)" font-size="7.2" fill="#333" font-family='"Liberation Sans", sans-serif'>3</text>
<text transform="translate(88.2,210.1) scale(1,1.18)" font-size="9.6" fill="#333" font-family='"Liberation Sans", sans-serif'>=</text>
<text transform="translate(95.6,210.1) scale(1,1.18)" font-size="9.3" fill="#333" font-family='"Liberation Sans", sans-serif'>50</text>
<path d="M121.4,164 L135.6,164" stroke="#72b43a" stroke-width="1.6"/>
<text transform="translate(138,167.3) scale(1,1.18)" font-size="9.3" font-style="italic" fill="#333" font-family='"Liberation Sans", sans-serif'>q</text>
<text transform="translate(143.1,170.5) scale(1,1.18)" font-size="7.2" fill="#333" font-family='"Liberation Sans", sans-serif'>3</text>
<text transform="translate(148.6,167.3) scale(1,1.18)" font-size="9.6" fill="#333" font-family='"Liberation Sans", sans-serif'>=</text>
<text transform="translate(156,167.3) scale(1,1.18)" font-size="9.3" fill="#333" font-family='"Liberation Sans", sans-serif'>20</text>
<path d="M121.4,178.2 L135.6,178.2" stroke="#5ac8ec" stroke-width="1.6"/>
<text transform="translate(138,181.5) scale(1,1.18)" font-size="9.3" font-style="italic" fill="#333" font-family='"Liberation Sans", sans-serif'>q</text>
<text transform="translate(143.1,184.7) scale(1,1.18)" font-size="7.2" fill="#333" font-family='"Liberation Sans", sans-serif'>3</text>
<text transform="translate(148.6,181.5) scale(1,1.18)" font-size="9.6" fill="#333" font-family='"Liberation Sans", sans-serif'>=</text>
<text transform="translate(156,181.5) scale(1,1.18)" font-size="9.3" fill="#333" font-family='"Liberation Sans", sans-serif'>5</text>
<path d="M121.4,192.5 L135.6,192.5" stroke="#b8203c" stroke-width="1.6"/>
<text transform="translate(138,195.8) scale(1,1.18)" font-size="9.3" font-style="italic" fill="#333" font-family='"Liberation Sans", sans-serif'>q</text>
<text transform="translate(143.1,199) scale(1,1.18)" font-size="7.2" fill="#333" font-family='"Liberation Sans", sans-serif'>3</text>
<text transform="translate(148.6,195.8) scale(1,1.18)" font-size="9.6" fill="#333" font-family='"Liberation Sans", sans-serif'>=</text>
<text transform="translate(156,195.8) scale(1,1.18)" font-size="9.3" fill="#333" font-family='"Liberation Sans", sans-serif'>1</text>
<rect x="187.6" y="150.6" width="73.70000000000002" height="44.80000000000001" fill="#fff" stroke="#3a3a3a" stroke-width="1"/>
<path d="M187.6,194.86 L187.78,194.85 L187.97,194.84 L188.15,194.83 L188.34,194.82 L188.52,194.81 L188.71,194.8 L188.89,194.78 L189.08,194.77 L189.26,194.76 L189.45,194.75 L189.63,194.74 L189.82,194.72 L190,194.71 L190.19,194.7 L190.37,194.68 L190.56,194.67 L190.74,194.66 L190.92,194.64 L191.11,194.63 L191.29,194.61 L191.48,194.59 L191.66,194.58 L191.85,194.56 L192.03,194.54 L192.22,194.53 L192.4,194.51 L192.59,194.49 L192.77,194.47 L192.96,194.45 L193.14,194.43 L193.33,194.41 L193.51,194.39 L193.7,194.37 L193.88,194.34 L194.06,194.32 L194.25,194.3 L194.43,194.27 L194.62,194.25 L194.8,194.22 L194.99,194.19 L195.17,194.16 L195.36,194.14 L195.54,194.11 L195.73,194.08 L195.91,194.04 L196.1,194.01 L196.28,193.98 L196.47,193.94 L196.65,193.91 L196.84,193.87 L197.02,193.83 L197.21,193.8 L197.39,193.76 L197.57,193.71 L197.76,193.67 L197.94,193.63 L198.13,193.58 L198.31,193.53 L198.5,193.49 L198.68,193.43 L198.87,193.38 L199.05,193.33 L199.24,193.27 L199.42,193.21 L199.61,193.15 L199.79,193.09 L199.98,193.03 L200.16,192.96 L200.35,192.89 L200.53,192.82 L200.71,192.75 L200.9,192.67 L201.08,192.59 L201.27,192.51 L201.45,192.42 L201.64,192.33 L201.82,192.24 L202.01,192.14 L202.19,192.04 L202.38,191.94 L202.56,191.83 L202.75,191.72 L202.93,191.61 L203.12,191.48 L203.3,191.36 L203.49,191.23 L203.67,191.09 L203.85,190.95 L204.04,190.8 L204.22,190.65 L204.41,190.49 L204.59,190.32 L204.78,190.15 L204.96,189.97 L205.15,189.78 L205.33,189.58 L205.52,189.37 L205.7,189.16 L205.89,188.93 L206.07,188.7 L206.26,188.46 L206.44,188.2 L206.63,187.94 L206.81,187.66 L206.99,187.37 L207.18,187.07 L207.36,186.75 L207.55,186.42 L207.73,186.07 L207.92,185.71 L208.1,185.34 L208.29,184.94 L208.47,184.53 L208.66,184.11 L208.84,183.66 L209.03,183.19 L209.21,182.7 L209.4,182.2 L209.58,181.66 L209.77,181.11 L209.95,180.54 L210.13,179.94 L210.32,179.31 L210.5,178.66 L210.69,177.99 L210.87,177.29 L211.06,176.56 L211.24,175.81 L211.43,175.03 L211.61,174.22 L211.8,173.39 L211.98,172.54 L212.17,171.66 L212.35,170.75 L212.54,169.83 L212.72,168.88 L212.91,167.92 L213.09,166.94 L213.27,165.95 L213.46,164.95 L213.64,163.94 L213.83,162.93 L214.01,161.92 L214.2,160.92 L214.38,159.93 L214.57,158.96 L214.75,158.02 L214.94,157.11 L215.12,156.23 L215.31,155.4 L215.49,154.62 L215.68,153.89 L215.86,153.23 L216.05,152.64 L216.23,152.12 L216.42,151.69 L216.6,151.33 L216.78,151.07 L216.97,150.89 L217.15,150.81 L217.34,150.83 L217.52,150.98 L217.71,151.29 L217.89,151.73 L218.08,152.31 L218.26,153.02 L218.45,153.86 L218.63,154.83 L218.82,155.92 L219,157.11 L219.19,158.41 L219.37,159.81 L219.56,161.29 L219.74,162.84 L219.92,164.46 L220.11,166.14 L220.29,167.87 L220.48,169.62 L220.66,171.4 L220.85,173.19 L221.03,174.98 L221.22,176.76 L221.4,178.51 L221.59,180.23 L221.77,181.9 L221.96,183.52 L222.14,185.07 L222.33,186.54 L222.51,187.92 L222.7,189.21 L222.88,190.4 L223.06,191.47 L223.25,192.43 L223.43,193.26 L223.62,193.96 L223.8,194.52 L223.99,194.95 L224.17,195.24 L224.36,195.38 L224.54,195.38 L224.73,195.24 L224.91,194.95 L225.1,194.52 L225.28,193.96 L225.47,193.26 L225.65,192.43 L225.84,191.47 L226.02,190.4 L226.2,189.21 L226.39,187.92 L226.57,186.54 L226.76,185.07 L226.94,183.52 L227.13,181.9 L227.31,180.23 L227.5,178.51 L227.68,176.76 L227.87,174.98 L228.05,173.19 L228.24,171.4 L228.42,169.62 L228.61,167.87 L228.79,166.14 L228.98,164.46 L229.16,162.84 L229.34,161.29 L229.53,159.81 L229.71,158.41 L229.9,157.11 L230.08,155.92 L230.27,154.83 L230.45,153.86 L230.64,153.02 L230.82,152.31 L231.01,151.73 L231.19,151.29 L231.38,150.98 L231.56,150.83 L231.75,150.81 L231.93,150.89 L232.12,151.07 L232.3,151.33 L232.48,151.69 L232.67,152.12 L232.85,152.64 L233.04,153.23 L233.22,153.89 L233.41,154.62 L233.59,155.4 L233.78,156.23 L233.96,157.11 L234.15,158.02 L234.33,158.96 L234.52,159.93 L234.7,160.92 L234.89,161.92 L235.07,162.93 L235.26,163.94 L235.44,164.95 L235.63,165.95 L235.81,166.94 L235.99,167.92 L236.18,168.88 L236.36,169.83 L236.55,170.75 L236.73,171.66 L236.92,172.54 L237.1,173.39 L237.29,174.22 L237.47,175.03 L237.66,175.81 L237.84,176.56 L238.03,177.29 L238.21,177.99 L238.4,178.66 L238.58,179.31 L238.77,179.94 L238.95,180.54 L239.13,181.11 L239.32,181.66 L239.5,182.2 L239.69,182.7 L239.87,183.19 L240.06,183.66 L240.24,184.11 L240.43,184.53 L240.61,184.94 L240.8,185.34 L240.98,185.71 L241.17,186.07 L241.35,186.42 L241.54,186.75 L241.72,187.07 L241.91,187.37 L242.09,187.66 L242.27,187.94 L242.46,188.2 L242.64,188.46 L242.83,188.7 L243.01,188.93 L243.2,189.16 L243.38,189.37 L243.57,189.58 L243.75,189.78 L243.94,189.97 L244.12,190.15 L244.31,190.32 L244.49,190.49 L244.68,190.65 L244.86,190.8 L245.05,190.95 L245.23,191.09 L245.41,191.23 L245.6,191.36 L245.78,191.48 L245.97,191.61 L246.15,191.72 L246.34,191.83 L246.52,191.94 L246.71,192.04 L246.89,192.14 L247.08,192.24 L247.26,192.33 L247.45,192.42 L247.63,192.51 L247.82,192.59 L248,192.67 L248.19,192.75 L248.37,192.82 L248.55,192.89 L248.74,192.96 L248.92,193.03 L249.11,193.09 L249.29,193.15 L249.48,193.21 L249.66,193.27 L249.85,193.33 L250.03,193.38 L250.22,193.43 L250.4,193.49 L250.59,193.53 L250.77,193.58 L250.96,193.63 L251.14,193.67 L251.33,193.71 L251.51,193.76 L251.69,193.8 L251.88,193.83 L252.06,193.87 L252.25,193.91 L252.43,193.94 L252.62,193.98 L252.8,194.01 L252.99,194.04 L253.17,194.08 L253.36,194.11 L253.54,194.14 L253.73,194.16 L253.91,194.19 L254.1,194.22 L254.28,194.25 L254.47,194.27 L254.65,194.3 L254.84,194.32 L255.02,194.34 L255.2,194.37 L255.39,194.39 L255.57,194.41 L255.76,194.43 L255.94,194.45 L256.13,194.47 L256.31,194.49 L256.5,194.51 L256.68,194.53 L256.87,194.54 L257.05,194.56 L257.24,194.58 L257.42,194.59 L257.61,194.61 L257.79,194.63 L257.98,194.64 L258.16,194.66 L258.34,194.67 L258.53,194.68 L258.71,194.7 L258.9,194.71 L259.08,194.72 L259.27,194.74 L259.45,194.75 L259.64,194.76 L259.82,194.77 L260.01,194.78 L260.19,194.8 L260.38,194.81 L260.56,194.82 L260.75,194.83 L260.93,194.84 L261.12,194.85 L261.3,194.86" stroke="#e05a26" stroke-width="1.4" fill="none"/>
<path d="M195.6,173.3 L206,173.3 M258,173.3 L243.5,173.3" stroke="#111" stroke-width="1"/>
<path d="M211.7,173.3 L205,170.6 L205,176 Z M237.6,173.3 L244.3,170.6 L244.3,176 Z" fill="#111"/>
<text transform="translate(237.6,169.3) scale(1,1.15)" font-size="7.3" fill="#222" font-family='"Liberation Sans", sans-serif'>FWHM</text>
<text transform="translate(181.5,156) scale(1,1.18)" font-size="8" fill="#333" font-family='"Liberation Sans", sans-serif'>1</text>
<text transform="translate(181.5,198) scale(1,1.18)" font-size="8" fill="#333" font-family='"Liberation Sans", sans-serif'>0</text>
<text transform="translate(182,203.5) scale(1,1.18)" font-size="8" fill="#333" font-family='"Liberation Sans", sans-serif'>-50</text>
<text transform="translate(222.5,203.5) scale(1,1.18)" font-size="8" fill="#333" font-family='"Liberation Sans", sans-serif'>0</text>
<text transform="translate(257,203.5) scale(1,1.18)" font-size="8" fill="#333" font-family='"Liberation Sans", sans-serif'>50</text>
<text transform="translate(222.3,209.5) scale(1,1.18)" font-size="8" font-style="italic" fill="#333" font-family='"Liberation Sans", sans-serif'>x</text>
<text transform="translate(183.3,174) scale(1,1.18) rotate(-90)" text-anchor="middle" font-size="6.5" fill="#333" font-family='"Liberation Sans", sans-serif'>∫ |E|²dr</text>
<path d="M232.4,195.5 L237,219.8" stroke="#111" stroke-width="0.9"/>
<circle cx="237" cy="219.8" r="1.3" fill="#111"/>
<defs><linearGradient id="uO" x1="0" y1="1" x2="0" y2="0"><stop offset="0" stop-color="#c4501c"/><stop offset="1" stop-color="#c4501c" stop-opacity="0"/></linearGradient><linearGradient id="dO" x1="0" y1="0" x2="0" y2="1"><stop offset="0" stop-color="#c4501c"/><stop offset="1" stop-color="#c4501c" stop-opacity="0"/></linearGradient><linearGradient id="UO" x1="0" y1="1" x2="0" y2="0"><stop offset="0" stop-color="#c4501c"/><stop offset="0.45" stop-color="#c4501c" stop-opacity="0.55"/><stop offset="1" stop-color="#c4501c" stop-opacity="0"/></linearGradient><linearGradient id="DO" x1="0" y1="0" x2="0" y2="1"><stop offset="0" stop-color="#c4501c"/><stop offset="0.45" stop-color="#c4501c" stop-opacity="0.55"/><stop offset="1" stop-color="#c4501c" stop-opacity="0"/></linearGradient><linearGradient id="MuO" x1="0" y1="1" x2="0" y2="0"><stop offset="0" stop-color="#c4501c" stop-opacity="0.15"/><stop offset="0.35" stop-color="#c4501c"/><stop offset="1" stop-color="#c4501c" stop-opacity="0.1"/></linearGradient><linearGradient id="MdO" x1="0" y1="0" x2="0" y2="1"><stop offset="0" stop-color="#c4501c" stop-opacity="0.15"/><stop offset="0.35" stop-color="#c4501c"/><stop offset="1" stop-color="#c4501c" stop-opacity="0.1"/></linearGradient><linearGradient id="uo" x1="0" y1="1" x2="0" y2="0"><stop offset="0" stop-color="#e58a5c"/><stop offset="1" stop-color="#e58a5c" stop-opacity="0"/></linearGradient><linearGradient id="do" x1="0" y1="0" x2="0" y2="1"><stop offset="0" stop-color="#e58a5c"/><stop offset="1" stop-color="#e58a5c" stop-opacity="0"/></linearGradient><linearGradient id="Uo" x1="0" y1="1" x2="0" y2="0"><stop offset="0" stop-color="#e58a5c"/><stop offset="0.45" stop-color="#e58a5c" stop-opacity="0.55"/><stop offset="1" stop-color="#e58a5c" stop-opacity="0"/></linearGradient><linearGradient id="Do" x1="0" y1="0" x2="0" y2="1"><stop offset="0" stop-color="#e58a5c"/><stop offset="0.45" stop-color="#e58a5c" stop-opacity="0.55"/><stop offset="1" stop-color="#e58a5c" stop-opacity="0"/></linearGradient><linearGradient id="Muo" x1="0" y1="1" x2="0" y2="0"><stop offset="0" stop-color="#e58a5c" stop-opacity="0.15"/><stop offset="0.35" stop-color="#e58a5c"/><stop offset="1" stop-color="#e58a5c" stop-opacity="0.1"/></linearGradient><linearGradient id="Mdo" x1="0" y1="0" x2="0" y2="1"><stop offset="0" stop-color="#e58a5c" stop-opacity="0.15"/><stop offset="0.35" stop-color="#e58a5c"/><stop offset="1" stop-color="#e58a5c" stop-opacity="0.1"/></linearGradient><linearGradient id="ul" x1="0" y1="1" x2="0" y2="0"><stop offset="0" stop-color="#f2bfa4"/><stop offset="1" stop-color="#f2bfa4" stop-opacity="0"/></linearGradient><linearGradient id="dl" x1="0" y1="0" x2="0" y2="1"><stop offset="0" stop-color="#f2bfa4"/><stop offset="1" stop-color="#f2bfa4" stop-opacity="0"/></linearGradient><linearGradient id="Ul" x1="0" y1="1" x2="0" y2="0"><stop offset="0" stop-color="#f2bfa4"/><stop offset="0.45" stop-color="#f2bfa4" stop-opacity="0.55"/><stop offset="1" stop-color="#f2bfa4" stop-opacity="0"/></linearGradient><linearGradient id="Dl" x1="0" y1="0" x2="0" y2="1"><stop offset="0" stop-color="#f2bfa4"/><stop offset="0.45" stop-color="#f2bfa4" stop-opacity="0.55"/><stop offset="1" stop-color="#f2bfa4" stop-opacity="0"/></linearGradient><linearGradient id="Mul" x1="0" y1="1" x2="0" y2="0"><stop offset="0" stop-color="#f2bfa4" stop-opacity="0.15"/><stop offset="0.35" stop-color="#f2bfa4"/><stop offset="1" stop-color="#f2bfa4" stop-opacity="0.1"/></linearGradient><linearGradient id="Mdl" x1="0" y1="0" x2="0" y2="1"><stop offset="0" stop-color="#f2bfa4" stop-opacity="0.15"/><stop offset="0.35" stop-color="#f2bfa4"/><stop offset="1" stop-color="#f2bfa4" stop-opacity="0.1"/></linearGradient><linearGradient id="uB" x1="0" y1="1" x2="0" y2="0"><stop offset="0" stop-color="#1c6cb0"/><stop offset="1" stop-color="#1c6cb0" stop-opacity="0"/></linearGradient><linearGradient id="dB" x1="0" y1="0" x2="0" y2="1"><stop offset="0" stop-color="#1c6cb0"/><stop offset="1" stop-color="#1c6cb0" stop-opacity="0"/></linearGradient><linearGradient id="UB" x1="0" y1="1" x2="0" y2="0"><stop offset="0" stop-color="#1c6cb0"/><stop offset="0.45" stop-color="#1c6cb0" stop-opacity="0.55"/><stop offset="1" stop-color="#1c6cb0" stop-opacity="0"/></linearGradient><linearGradient id="DB" x1="0" y1="0" x2="0" y2="1"><stop offset="0" stop-color="#1c6cb0"/><stop offset="0.45" stop-color="#1c6cb0" stop-opacity="0.55"/><stop offset="1" stop-color="#1c6cb0" stop-opacity="0"/></linearGradient><linearGradient id="MuB" x1="0" y1="1" x2="0" y2="0"><stop offset="0" stop-color="#1c6cb0" stop-opacity="0.15"/><stop offset="0.35" stop-color="#1c6cb0"/><stop offset="1" stop-color="#1c6cb0" stop-opacity="0.1"/></linearGradient><linearGradient id="MdB" x1="0" y1="0" x2="0" y2="1"><stop offset="0" stop-color="#1c6cb0" stop-opacity="0.15"/><stop offset="0.35" stop-color="#1c6cb0"/><stop offset="1" stop-color="#1c6cb0" stop-opacity="0.1"/></linearGradient><linearGradient id="ub" x1="0" y1="1" x2="0" y2="0"><stop offset="0" stop-color="#5a9ad0"/><stop offset="1" stop-color="#5a9ad0" stop-opacity="0"/></linearGradient><linearGradient id="db" x1="0" y1="0" x2="0" y2="1"><stop offset="0" stop-color="#5a9ad0"/><stop offset="1" stop-color="#5a9ad0" stop-opacity="0"/></linearGradient><linearGradient id="Ub" x1="0" y1="1" x2="0" y2="0"><stop offset="0" stop-color="#5a9ad0"/><stop offset="0.45" stop-color="#5a9ad0" stop-opacity="0.55"/><stop offset="1" stop-color="#5a9ad0" stop-opacity="0"/></linearGradient><linearGradient id="Db" x1="0" y1="0" x2="0" y2="1"><stop offset="0" stop-color="#5a9ad0"/><stop offset="0.45" stop-color="#5a9ad0" stop-opacity="0.55"/><stop offset="1" stop-color="#5a9ad0" stop-opacity="0"/></linearGradient><linearGradient id="Mub" x1="0" y1="1" x2="0" y2="0"><stop offset="0" stop-color="#5a9ad0" stop-opacity="0.15"/><stop offset="0.35" stop-color="#5a9ad0"/><stop offset="1" stop-color="#5a9ad0" stop-opacity="0.1"/></linearGradient><linearGradient id="Mdb" x1="0" y1="0" x2="0" y2="1"><stop offset="0" stop-color="#5a9ad0" stop-opacity="0.15"/><stop offset="0.35" stop-color="#5a9ad0"/><stop offset="1" stop-color="#5a9ad0" stop-opacity="0.1"/></linearGradient><linearGradient id="uk" x1="0" y1="1" x2="0" y2="0"><stop offset="0" stop-color="#a9cde9"/><stop offset="1" stop-color="#a9cde9" stop-opacity="0"/></linearGradient><linearGradient id="dk" x1="0" y1="0" x2="0" y2="1"><stop offset="0" stop-color="#a9cde9"/><stop offset="1" stop-color="#a9cde9" stop-opacity="0"/></linearGradient><linearGradient id="Uk" x1="0" y1="1" x2="0" y2="0"><stop offset="0" stop-color="#a9cde9"/><stop offset="0.45" stop-color="#a9cde9" stop-opacity="0.55"/><stop offset="1" stop-color="#a9cde9" stop-opacity="0"/></linearGradient><linearGradient id="Dk" x1="0" y1="0" x2="0" y2="1"><stop offset="0" stop-color="#a9cde9"/><stop offset="0.45" stop-color="#a9cde9" stop-opacity="0.55"/><stop offset="1" stop-color="#a9cde9" stop-opacity="0"/></linearGradient><linearGradient id="Muk" x1="0" y1="1" x2="0" y2="0"><stop offset="0" stop-color="#a9cde9" stop-opacity="0.15"/><stop offset="0.35" stop-color="#a9cde9"/><stop offset="1" stop-color="#a9cde9" stop-opacity="0.1"/></linearGradient><linearGradient id="Mdk" x1="0" y1="0" x2="0" y2="1"><stop offset="0" stop-color="#a9cde9" stop-opacity="0.15"/><stop offset="0.35" stop-color="#a9cde9"/><stop offset="1" stop-color="#a9cde9" stop-opacity="0.1"/></linearGradient><filter id="b03" x="-50%" y="-50%" width="200%" height="200%"><feGaussianBlur stdDeviation="0.35"/></filter><filter id="b05" x="-50%" y="-50%" width="200%" height="200%"><feGaussianBlur stdDeviation="0.5"/></filter><filter id="b08" x="-50%" y="-50%" width="200%" height="200%"><feGaussianBlur stdDeviation="0.8"/></filter><filter id="b12" x="-50%" y="-50%" width="200%" height="200%"><feGaussianBlur stdDeviation="1.2"/></filter><filter id="b18" x="-50%" y="-50%" width="200%" height="200%"><feGaussianBlur stdDeviation="1.8"/></filter></defs>
<clipPath id="pc0"><rect x="394.2" y="1.2" width="271.6" height="73.1"/></clipPath>
<g clip-path="url(#pc0)">
<path d="M431.41,31.5 L430.67,27.59 L429.92,23.68 L429.18,19.76 L428.44,15.85 L427.69,11.94 L426.95,8.03 L426.21,4.11 L425.46,0.2 L427.66,0.2 L428.41,4.11 L429.15,8.03 L429.89,11.94 L430.64,15.85 L431.38,19.76 L432.12,23.68 L432.87,27.59 L433.61,31.5Z" fill="url(#Ul)" fill-opacity="1" filter="url(#b05)"/><path d="M433.39,29.5 L433.87,25.84 L434.34,22.18 L434.82,18.51 L435.29,14.85 L435.77,11.19 L436.25,7.53 L436.72,3.86 L437.2,0.2 L439.2,0.2 L438.72,3.86 L438.25,7.53 L437.77,11.19 L437.29,14.85 L436.82,18.51 L436.34,22.18 L435.87,25.84 L435.39,29.5Z" fill="url(#Ul)" fill-opacity="0.7" filter="url(#b05)"/><path d="M434.53,34.9 L434.57,33.35 L434.62,31.8 L434.67,30.25 L434.71,28.7 L434.76,27.15 L434.81,25.6 L434.85,24.05 L434.9,22.5 L437.5,22.5 L437.42,24.05 L437.35,25.6 L437.27,27.15 L437.19,28.7 L437.11,30.25 L437.04,31.8 L436.96,33.35 L436.88,34.9Z" fill="url(#UB)" fill-opacity="0.95" filter="url(#b05)"/><path d="M434.79,35 L435.03,30.65 L435.5,26.3 L436.2,21.95 L437.13,17.6 L438.28,13.25 L439.66,8.9 L441.26,4.55 L443.1,0.2 L450.97,0.2 L448.06,4.55 L445.52,8.9 L443.34,13.25 L441.51,17.6 L440.05,21.95 L438.94,26.3 L438.2,30.65 L437.81,35Z" fill="url(#Ub)" fill-opacity="0.7" filter="url(#b08)"/><path d="M436.89,33.5 L437.32,29.34 L438.04,25.18 L439.06,21.01 L440.37,16.85 L441.98,12.69 L443.89,8.53 L446.08,4.36 L448.58,0.2 L456.35,0.2 L452.83,4.36 L449.72,8.53 L447.04,12.69 L444.77,16.85 L442.91,21.01 L441.47,25.18 L440.45,29.34 L439.84,33.5Z" fill="url(#Uk)" fill-opacity="0.45" filter="url(#b12)"/><path d="M431.55,35.3 L431.55,33.64 L431.55,31.98 L431.55,30.31 L431.55,28.65 L431.55,26.99 L431.55,25.32 L431.55,23.66 L431.55,22 L433.85,22 L433.85,23.66 L433.85,25.32 L433.85,26.99 L433.85,28.65 L433.85,30.31 L433.85,31.98 L433.85,33.64 L433.85,35.3Z" fill="url(#UO)" fill-opacity="1" filter="url(#b03)"/><path d="M431.41,43.5 L430.67,47.41 L429.92,51.33 L429.18,55.24 L428.44,59.15 L427.69,63.06 L426.95,66.97 L426.21,70.89 L425.46,74.8 L427.66,74.8 L428.41,70.89 L429.15,66.97 L429.89,63.06 L430.64,59.15 L431.38,55.24 L432.12,51.33 L432.87,47.41 L433.61,43.5Z" fill="url(#Dl)" fill-opacity="1" filter="url(#b05)"/><path d="M433.39,45.5 L433.87,49.16 L434.34,52.83 L434.82,56.49 L435.29,60.15 L435.77,63.81 L436.25,67.47 L436.72,71.14 L437.2,74.8 L439.2,74.8 L438.72,71.14 L438.25,67.47 L437.77,63.81 L437.29,60.15 L436.82,56.49 L436.34,52.83 L435.87,49.16 L435.39,45.5Z" fill="url(#Dl)" fill-opacity="0.7" filter="url(#b05)"/><path d="M434.53,40.1 L434.57,41.65 L434.62,43.2 L434.67,44.75 L434.71,46.3 L434.76,47.85 L434.81,49.4 L434.85,50.95 L434.9,52.5 L437.5,52.5 L437.42,50.95 L437.35,49.4 L437.27,47.85 L437.19,46.3 L437.11,44.75 L437.04,43.2 L436.96,41.65 L436.88,40.1Z" fill="url(#DB)" fill-opacity="0.95" filter="url(#b05)"/><path d="M434.79,40 L435.03,44.35 L435.5,48.7 L436.2,53.05 L437.13,57.4 L438.28,61.75 L439.66,66.1 L441.26,70.45 L443.1,74.8 L450.97,74.8 L448.06,70.45 L445.52,66.1 L443.34,61.75 L441.51,57.4 L440.05,53.05 L438.94,48.7 L438.2,44.35 L437.81,40Z" fill="url(#Db)" fill-opacity="0.7" filter="url(#b08)"/><path d="M436.89,41.5 L437.32,45.66 L438.04,49.83 L439.06,53.99 L440.37,58.15 L441.98,62.31 L443.89,66.47 L446.08,70.64 L448.58,74.8 L456.35,74.8 L452.83,70.64 L449.72,66.47 L447.04,62.31 L444.77,58.15 L442.91,53.99 L441.47,49.83 L440.45,45.66 L439.84,41.5Z" fill="url(#Dk)" fill-opacity="0.45" filter="url(#b12)"/><path d="M431.55,39.7 L431.55,41.36 L431.55,43.02 L431.55,44.69 L431.55,46.35 L431.55,48.01 L431.55,49.67 L431.55,51.34 L431.55,53 L433.85,53 L433.85,51.34 L433.85,49.67 L433.85,48.01 L433.85,46.35 L433.85,44.69 L433.85,43.02 L433.85,41.36 L433.85,39.7Z" fill="url(#DO)" fill-opacity="1" filter="url(#b03)"/>
<path d="M526.7,35 L525.83,30.65 L524.96,26.3 L524.09,21.95 L523.22,17.6 L522.35,13.25 L521.48,8.9 L520.61,4.55 L519.74,0.2 L526.34,0.2 L526.73,4.55 L527.13,8.9 L527.52,13.25 L527.91,17.6 L528.3,21.95 L528.69,26.3 L529.08,30.65 L529.48,35Z" fill="url(#Uk)" fill-opacity="0.85" filter="url(#b08)"/><path d="M530.52,35 L530.92,30.65 L531.31,26.3 L531.7,21.95 L532.09,17.6 L532.48,13.25 L532.87,8.9 L533.27,4.55 L533.66,0.2 L540.26,0.2 L539.39,4.55 L538.52,8.9 L537.65,13.25 L536.78,17.6 L535.91,21.95 L535.04,26.3 L534.17,30.65 L533.3,35Z" fill="url(#Ul)" fill-opacity="0.8" filter="url(#b08)"/><path d="M527.28,35.2 L527.21,33.74 L527.14,32.27 L527.07,30.81 L526.99,29.35 L526.92,27.89 L526.85,26.43 L526.77,24.96 L526.7,23.5 L529.52,23.5 L529.55,24.96 L529.58,26.43 L529.61,27.89 L529.64,29.35 L529.67,30.81 L529.7,32.27 L529.72,33.74 L529.75,35.2Z" fill="url(#UB)" fill-opacity="1" filter="url(#b03)"/><path d="M530.25,34.9 L530.28,33.6 L530.3,32.3 L530.33,31 L530.36,29.7 L530.38,28.4 L530.41,27.1 L530.43,25.8 L530.46,24.5 L533.05,24.5 L532.99,25.8 L532.92,27.1 L532.86,28.4 L532.79,29.7 L532.73,31 L532.66,32.3 L532.6,33.6 L532.53,34.9Z" fill="url(#UO)" fill-opacity="0.95" filter="url(#b03)"/><path d="M526.7,40 L525.83,44.35 L524.96,48.7 L524.09,53.05 L523.22,57.4 L522.35,61.75 L521.48,66.1 L520.61,70.45 L519.74,74.8 L526.34,74.8 L526.73,70.45 L527.13,66.1 L527.52,61.75 L527.91,57.4 L528.3,53.05 L528.69,48.7 L529.08,44.35 L529.48,40Z" fill="url(#Dk)" fill-opacity="0.85" filter="url(#b08)"/><path d="M530.52,40 L530.92,44.35 L531.31,48.7 L531.7,53.05 L532.09,57.4 L532.48,61.75 L532.87,66.1 L533.27,70.45 L533.66,74.8 L540.26,74.8 L539.39,70.45 L538.52,66.1 L537.65,61.75 L536.78,57.4 L535.91,53.05 L535.04,48.7 L534.17,44.35 L533.3,40Z" fill="url(#Dl)" fill-opacity="0.8" filter="url(#b08)"/><path d="M527.28,39.8 L527.21,41.26 L527.14,42.73 L527.07,44.19 L526.99,45.65 L526.92,47.11 L526.85,48.58 L526.77,50.04 L526.7,51.5 L529.52,51.5 L529.55,50.04 L529.58,48.58 L529.61,47.11 L529.64,45.65 L529.67,44.19 L529.7,42.73 L529.72,41.26 L529.75,39.8Z" fill="url(#DB)" fill-opacity="1" filter="url(#b03)"/><path d="M530.25,40.1 L530.28,41.4 L530.3,42.7 L530.33,44 L530.36,45.3 L530.38,46.6 L530.41,47.9 L530.43,49.2 L530.46,50.5 L533.05,50.5 L532.99,49.2 L532.92,47.9 L532.86,46.6 L532.79,45.3 L532.73,44 L532.66,42.7 L532.6,41.4 L532.53,40.1Z" fill="url(#DO)" fill-opacity="0.95" filter="url(#b03)"/>
<path d="M629.69,31.5 L630.43,27.59 L631.18,23.68 L631.92,19.76 L632.66,15.85 L633.41,11.94 L634.15,8.03 L634.89,4.11 L635.64,0.2 L633.44,0.2 L632.69,4.11 L631.95,8.03 L631.21,11.94 L630.46,15.85 L629.72,19.76 L628.98,23.68 L628.23,27.59 L627.49,31.5Z" fill="url(#Uk)" fill-opacity="1" filter="url(#b05)"/><path d="M627.71,29.5 L627.23,25.84 L626.76,22.18 L626.28,18.51 L625.81,14.85 L625.33,11.19 L624.85,7.53 L624.38,3.86 L623.9,0.2 L621.9,0.2 L622.38,3.86 L622.85,7.53 L623.33,11.19 L623.81,14.85 L624.28,18.51 L624.76,22.18 L625.23,25.84 L625.71,29.5Z" fill="url(#Uk)" fill-opacity="0.7" filter="url(#b05)"/><path d="M626.57,34.9 L626.53,33.35 L626.48,31.8 L626.43,30.25 L626.39,28.7 L626.34,27.15 L626.29,25.6 L626.25,24.05 L626.2,22.5 L623.6,22.5 L623.68,24.05 L623.75,25.6 L623.83,27.15 L623.91,28.7 L623.99,30.25 L624.06,31.8 L624.14,33.35 L624.22,34.9Z" fill="url(#UO)" fill-opacity="0.95" filter="url(#b05)"/><path d="M626.51,35 L626.27,30.65 L625.8,26.3 L625.1,21.95 L624.17,17.6 L623.02,13.25 L621.64,8.9 L620.04,4.55 L618.2,0.2 L611.23,0.2 L613.98,4.55 L616.39,8.9 L618.46,13.25 L620.19,17.6 L621.57,21.95 L622.62,26.3 L623.33,30.65 L623.69,35Z" fill="url(#Uo)" fill-opacity="0.75" filter="url(#b08)"/><path d="M624.31,33.5 L623.85,29.34 L623.08,25.18 L622,21.01 L620.61,16.85 L618.91,12.69 L616.89,8.53 L614.57,4.36 L611.93,0.2 L606.15,0.2 L609.37,4.36 L612.21,8.53 L614.68,12.69 L616.76,16.85 L618.46,21.01 L619.78,25.18 L620.72,29.34 L621.27,33.5Z" fill="url(#Ul)" fill-opacity="0.3" filter="url(#b12)"/><path d="M629.55,35.3 L629.55,33.64 L629.55,31.98 L629.55,30.31 L629.55,28.65 L629.55,26.99 L629.55,25.32 L629.55,23.66 L629.55,22 L627.25,22 L627.25,23.66 L627.25,25.32 L627.25,26.99 L627.25,28.65 L627.25,30.31 L627.25,31.98 L627.25,33.64 L627.25,35.3Z" fill="url(#UB)" fill-opacity="1" filter="url(#b03)"/><path d="M629.69,43.5 L630.43,47.41 L631.18,51.33 L631.92,55.24 L632.66,59.15 L633.41,63.06 L634.15,66.97 L634.89,70.89 L635.64,74.8 L633.44,74.8 L632.69,70.89 L631.95,66.97 L631.21,63.06 L630.46,59.15 L629.72,55.24 L628.98,51.33 L628.23,47.41 L627.49,43.5Z" fill="url(#Dk)" fill-opacity="1" filter="url(#b05)"/><path d="M627.71,45.5 L627.23,49.16 L626.76,52.83 L626.28,56.49 L625.81,60.15 L625.33,63.81 L624.85,67.47 L624.38,71.14 L623.9,74.8 L621.9,74.8 L622.38,71.14 L622.85,67.47 L623.33,63.81 L623.81,60.15 L624.28,56.49 L624.76,52.83 L625.23,49.16 L625.71,45.5Z" fill="url(#Dk)" fill-opacity="0.7" filter="url(#b05)"/><path d="M626.57,40.1 L626.53,41.65 L626.48,43.2 L626.43,44.75 L626.39,46.3 L626.34,47.85 L626.29,49.4 L626.25,50.95 L626.2,52.5 L623.6,52.5 L623.68,50.95 L623.75,49.4 L623.83,47.85 L623.91,46.3 L623.99,44.75 L624.06,43.2 L624.14,41.65 L624.22,40.1Z" fill="url(#DO)" fill-opacity="0.95" filter="url(#b05)"/><path d="M626.51,40 L626.27,44.35 L625.8,48.7 L625.1,53.05 L624.17,57.4 L623.02,61.75 L621.64,66.1 L620.04,70.45 L618.2,74.8 L611.23,74.8 L613.98,70.45 L616.39,66.1 L618.46,61.75 L620.19,57.4 L621.57,53.05 L622.62,48.7 L623.33,44.35 L623.69,40Z" fill="url(#Do)" fill-opacity="0.75" filter="url(#b08)"/><path d="M624.31,41.5 L623.85,45.66 L623.08,49.83 L622,53.99 L620.61,58.15 L618.91,62.31 L616.89,66.47 L614.57,70.64 L611.93,74.8 L606.15,74.8 L609.37,70.64 L612.21,66.47 L614.68,62.31 L616.76,58.15 L618.46,53.99 L619.78,49.83 L620.72,45.66 L621.27,41.5Z" fill="url(#Dl)" fill-opacity="0.3" filter="url(#b12)"/><path d="M629.55,39.7 L629.55,41.36 L629.55,43.02 L629.55,44.69 L629.55,46.35 L629.55,48.01 L629.55,49.67 L629.55,51.34 L629.55,53 L627.25,53 L627.25,51.34 L627.25,49.67 L627.25,48.01 L627.25,46.35 L627.25,44.69 L627.25,43.02 L627.25,41.36 L627.25,39.7Z" fill="url(#DB)" fill-opacity="1" filter="url(#b03)"/>
<path d="M432.75,0.2 L432.75,7.7" stroke="#f5a432" stroke-width="2.4"/>
<path d="M432.75,13.7 L430.15,4.9 L435.35,4.9 Z" fill="#f5a432"/>
<path d="M432.75,75.3 L432.75,67.8" stroke="#f5a432" stroke-width="2.4"/>
<path d="M432.75,61.8 L430.15,70.6 L435.35,70.6 Z" fill="#f5a432"/>
<path d="M529.9,7 L529.9,12.8" stroke="#f5a432" stroke-width="2.4"/>
<path d="M529.9,18.8 L527.3,10 L532.5,10 Z" fill="#f5a432"/>
<path d="M529.9,67.8 L529.9,60.3" stroke="#f5a432" stroke-width="2.4"/>
<path d="M529.9,54.3 L527.3,63.1 L532.5,63.1 Z" fill="#f5a432"/>
<path d="M627.05,0.2 L627.05,7.7" stroke="#f5a432" stroke-width="2.4"/>
<path d="M627.05,13.7 L624.45,4.9 L629.65,4.9 Z" fill="#f5a432"/>
<path d="M627.05,75.3 L627.05,67.8" stroke="#f5a432" stroke-width="2.4"/>
<path d="M627.05,61.8 L624.45,70.6 L629.65,70.6 Z" fill="#f5a432"/>
</g>
<path d="M393.99,22.7 L398.6,22.93 L403.21,23.16 L407.82,23.39 L412.43,23.62 L417.04,23.84 L421.65,24.07 L426.26,24.29 L430.87,24.51 L435.48,24.73 L440.1,24.95 L444.71,25.16 L449.32,25.37 L453.93,25.58 L458.54,25.79 L463.15,25.99 L467.76,26.18 L472.37,26.37 L476.98,26.56 L481.59,26.74 L486.2,26.9 L490.81,27.06 L495.42,27.21 L500.03,27.35 L504.64,27.47 L509.25,27.57 L513.86,27.66 L518.47,27.73 L523.08,27.77 L527.69,27.8 L532.31,27.8 L536.92,27.77 L541.53,27.73 L546.14,27.66 L550.75,27.57 L555.36,27.47 L559.97,27.35 L564.58,27.21 L569.19,27.06 L573.8,26.9 L578.41,26.74 L583.02,26.56 L587.63,26.37 L592.24,26.18 L596.85,25.99 L601.46,25.79 L606.07,25.58 L610.68,25.37 L615.29,25.16 L619.9,24.95 L624.52,24.73 L629.13,24.51 L633.74,24.29 L638.35,24.07 L642.96,23.84 L647.57,23.62 L652.18,23.39 L656.79,23.16 L661.4,22.93 L666.01,22.7" stroke="#fa14fa" stroke-width="1.75" stroke-dasharray="6,2.3" stroke-dashoffset="4" fill="none"/>
<path d="M393.99,51.2 L398.6,50.99 L403.21,50.78 L407.82,50.58 L412.43,50.37 L417.04,50.17 L421.65,49.97 L426.26,49.77 L430.87,49.57 L435.48,49.37 L440.1,49.17 L444.71,48.98 L449.32,48.79 L453.93,48.6 L458.54,48.42 L463.15,48.23 L467.76,48.06 L472.37,47.89 L476.98,47.72 L481.59,47.56 L486.2,47.41 L490.81,47.26 L495.42,47.13 L500.03,47.01 L504.64,46.9 L509.25,46.8 L513.86,46.73 L518.47,46.66 L523.08,46.62 L527.69,46.6 L532.31,46.6 L536.92,46.62 L541.53,46.66 L546.14,46.73 L550.75,46.8 L555.36,46.9 L559.97,47.01 L564.58,47.13 L569.19,47.26 L573.8,47.41 L578.41,47.56 L583.02,47.72 L587.63,47.89 L592.24,48.06 L596.85,48.23 L601.46,48.42 L606.07,48.6 L610.68,48.79 L615.29,48.98 L619.9,49.17 L624.52,49.37 L629.13,49.57 L633.74,49.77 L638.35,49.97 L642.96,50.17 L647.57,50.37 L652.18,50.58 L656.79,50.78 L661.4,50.99 L666.01,51.2" stroke="#fa14fa" stroke-width="1.75" stroke-dasharray="6,2.3" stroke-dashoffset="4" fill="none"/>
<path d="M448,37.2 L506.5,37.2" stroke="#fa14fa" stroke-width="1.9"/>
<path d="M511.5,37.2 L504.5,34.2 L504.5,40.2 Z" fill="#fa14fa"/>
<path d="M550.5,37.2 L609,37.2" stroke="#fa14fa" stroke-width="1.9"/>
<path d="M614,37.2 L607,34.2 L607,40.2 Z" fill="#fa14fa"/>
<rect x="394.2" y="1.2" width="271.2" height="73.1" fill="none" stroke="#3a3a3a" stroke-width="1.05"/>
<path d="M394.2,10.1 L397,10.1 M665.4,10.1 L662.6,10.1 M394.2,37.5 L397,37.5 M665.4,37.5 L662.6,37.5 M394.2,64.9 L397,64.9 M665.4,64.9 L662.6,64.9 M413.42,1.2 L413.42,3.8 M413.42,74.3 L413.42,71.7 M452.28,1.2 L452.28,3.8 M452.28,74.3 L452.28,71.7 M491.14,1.2 L491.14,3.8 M491.14,74.3 L491.14,71.7 M530,1.2 L530,3.8 M530,74.3 L530,71.7 M568.86,1.2 L568.86,3.8 M568.86,74.3 L568.86,71.7 M607.72,1.2 L607.72,3.8 M607.72,74.3 L607.72,71.7 M646.58,1.2 L646.58,3.8 M646.58,74.3 L646.58,71.7" stroke="#3a3a3a" stroke-width="1" fill="none"/>
<text transform="translate(391.3,13.6) scale(1,1.18)" text-anchor="end" font-size="9.6" fill="#333" font-family='"Liberation Sans", sans-serif'>-20</text>
<text transform="translate(391.3,41) scale(1,1.18)" text-anchor="end" font-size="9.6" fill="#333" font-family='"Liberation Sans", sans-serif'>0</text>
<text transform="translate(391.3,68.4) scale(1,1.18)" text-anchor="end" font-size="9.6" fill="#333" font-family='"Liberation Sans", sans-serif'>20</text>
<text transform="translate(380.4,38.3) scale(1,1.0) rotate(-90)" text-anchor="middle" font-size="9.8" fill="#333" font-family='"Liberation Sans", sans-serif'><tspan font-style="italic">r</tspan>(<tspan font-style="italic">q</tspan><tspan font-size="6.4" dy="2">1</tspan><tspan dy="-2">)</tspan></text>
<text transform="translate(401,19) scale(1,1.0)" font-size="13" font-weight="bold" fill="#222" font-family='"Liberation Sans", sans-serif'>c</text>
<text transform="translate(462.2,15.7) scale(1,1.18)" font-size="10.6" font-style="italic" fill="#e8622c" font-family='"Liberation Sans", sans-serif'>q</text>
<text transform="translate(467.6,20.1) scale(1,1.18)" font-size="7.8" fill="#e8622c" font-family='"Liberation Sans", sans-serif'>3</text>
<text transform="translate(471.8,15.7) scale(1,1.18)" font-size="10.6" fill="#e8622c" font-family='"Liberation Sans", sans-serif'>=</text>
<text transform="translate(478.1,15.7) scale(1,1.18)" font-size="11.2" fill="#e8622c" font-family='"Liberation Sans", sans-serif'>50</text>
<text transform="translate(491.4,15.7) scale(1,1.18)" font-size="10.6" font-style="italic" fill="#e8622c" font-family='"Liberation Sans", sans-serif'>q</text>
<text transform="translate(496.9,20.1) scale(1,1.18)" font-size="7.8" fill="#e8622c" font-family='"Liberation Sans", sans-serif'>1</text>

<clipPath id="pc1"><rect x="394.2" y="77.3" width="271.6" height="72.6"/></clipPath>
<g clip-path="url(#pc1)">
<path d="M431.02,110.9 L429.68,106.58 L428.34,102.25 L427,97.92 L425.66,93.6 L424.32,89.28 L422.98,84.95 L421.63,80.62 L420.29,76.3 L422.09,76.3 L423.43,80.62 L424.78,84.95 L426.12,89.28 L427.46,93.6 L428.8,97.92 L430.14,102.25 L431.48,106.58 L432.82,110.9Z" fill="url(#Uk)" fill-opacity="1" filter="url(#b05)"/><path d="M433.48,110.9 L434.82,106.58 L436.16,102.25 L437.5,97.92 L438.84,93.6 L440.18,89.28 L441.52,84.95 L442.87,80.62 L444.21,76.3 L446.01,76.3 L444.67,80.62 L443.32,84.95 L441.98,89.28 L440.64,93.6 L439.3,97.92 L437.96,102.25 L436.62,106.58 L435.28,110.9Z" fill="url(#Uk)" fill-opacity="0.9" filter="url(#b05)"/><path d="M435.18,111.4 L435.92,107.01 L436.67,102.62 L437.42,98.24 L438.17,93.85 L438.92,89.46 L439.66,85.08 L440.41,80.69 L441.16,76.3 L446.67,76.3 L445.59,80.69 L444.5,85.08 L443.41,89.46 L442.32,93.85 L441.23,98.24 L440.15,102.62 L439.06,107.01 L437.97,111.4Z" fill="url(#Uo)" fill-opacity="0.7" filter="url(#b08)"/><path d="M437.27,109.9 L438.44,105.7 L439.61,101.5 L440.78,97.3 L441.95,93.1 L443.13,88.9 L444.3,84.7 L445.47,80.5 L446.64,76.3 L453.22,76.3 L451.59,80.5 L449.97,84.7 L448.34,88.9 L446.71,93.1 L445.08,97.3 L443.46,101.5 L441.83,105.7 L440.2,109.9Z" fill="url(#Ul)" fill-opacity="0.45" filter="url(#b12)"/><path d="M427.94,108.9 L426.29,104.83 L424.65,100.75 L423.01,96.68 L421.37,92.6 L419.72,88.53 L418.08,84.45 L416.44,80.38 L414.8,76.3 L418.15,76.3 L419.6,80.38 L421.05,84.45 L422.5,88.53 L423.96,92.6 L425.41,96.68 L426.86,100.75 L428.31,104.83 L429.77,108.9Z" fill="url(#Ul)" fill-opacity="0.35" filter="url(#b08)"/><path d="M431.45,111.6 L431.45,110.16 L431.45,108.73 L431.45,107.29 L431.45,105.85 L431.45,104.41 L431.45,102.98 L431.45,101.54 L431.45,100.1 L433.95,100.1 L433.95,101.54 L433.95,102.98 L433.95,104.41 L433.95,105.85 L433.95,107.29 L433.95,108.73 L433.95,110.16 L433.95,111.6Z" fill="url(#UB)" fill-opacity="1" filter="url(#b03)"/><path d="M431.02,116.9 L429.68,121.23 L428.34,125.55 L427,129.88 L425.66,134.2 L424.32,138.53 L422.98,142.85 L421.63,147.18 L420.29,151.5 L422.09,151.5 L423.43,147.18 L424.78,142.85 L426.12,138.53 L427.46,134.2 L428.8,129.88 L430.14,125.55 L431.48,121.23 L432.82,116.9Z" fill="url(#Dk)" fill-opacity="1" filter="url(#b05)"/><path d="M433.48,116.9 L434.82,121.23 L436.16,125.55 L437.5,129.88 L438.84,134.2 L440.18,138.53 L441.52,142.85 L442.87,147.18 L444.21,151.5 L446.01,151.5 L444.67,147.18 L443.32,142.85 L441.98,138.53 L440.64,134.2 L439.3,129.88 L437.96,125.55 L436.62,121.23 L435.28,116.9Z" fill="url(#Dk)" fill-opacity="0.9" filter="url(#b05)"/><path d="M435.18,116.4 L435.92,120.79 L436.67,125.18 L437.42,129.56 L438.17,133.95 L438.92,138.34 L439.66,142.73 L440.41,147.11 L441.16,151.5 L446.67,151.5 L445.59,147.11 L444.5,142.73 L443.41,138.34 L442.32,133.95 L441.23,129.56 L440.15,125.18 L439.06,120.79 L437.97,116.4Z" fill="url(#Do)" fill-opacity="0.7" filter="url(#b08)"/><path d="M437.27,117.9 L438.44,122.1 L439.61,126.3 L440.78,130.5 L441.95,134.7 L443.13,138.9 L444.3,143.1 L445.47,147.3 L446.64,151.5 L453.22,151.5 L451.59,147.3 L449.97,143.1 L448.34,138.9 L446.71,134.7 L445.08,130.5 L443.46,126.3 L441.83,122.1 L440.2,117.9Z" fill="url(#Dl)" fill-opacity="0.45" filter="url(#b12)"/><path d="M427.94,118.9 L426.29,122.98 L424.65,127.05 L423.01,131.12 L421.37,135.2 L419.72,139.28 L418.08,143.35 L416.44,147.43 L414.8,151.5 L418.15,151.5 L419.6,147.43 L421.05,143.35 L422.5,139.28 L423.96,135.2 L425.41,131.12 L426.86,127.05 L428.31,122.98 L429.77,118.9Z" fill="url(#Dl)" fill-opacity="0.35" filter="url(#b08)"/><path d="M431.45,116.2 L431.45,117.64 L431.45,119.08 L431.45,120.51 L431.45,121.95 L431.45,123.39 L431.45,124.83 L431.45,126.26 L431.45,127.7 L433.95,127.7 L433.95,126.26 L433.95,124.83 L433.95,123.39 L433.95,121.95 L433.95,120.51 L433.95,119.08 L433.95,117.64 L433.95,116.2Z" fill="url(#DB)" fill-opacity="1" filter="url(#b03)"/>
<path d="M526.5,110.9 L525.2,106.58 L523.9,102.25 L522.61,97.92 L521.31,93.6 L520.01,89.28 L518.72,84.95 L517.42,80.62 L516.12,76.3 L518.32,76.3 L519.62,80.62 L520.91,84.95 L522.21,89.28 L523.51,93.6 L524.81,97.92 L526.11,102.25 L527.4,106.58 L528.7,110.9Z" fill="url(#Uk)" fill-opacity="0.95" filter="url(#b05)"/><path d="M531.3,110.9 L532.6,106.58 L533.89,102.25 L535.19,97.92 L536.49,93.6 L537.79,89.28 L539.09,84.95 L540.38,80.62 L541.68,76.3 L543.68,76.3 L542.38,80.62 L541.09,84.95 L539.79,89.28 L538.49,93.6 L537.19,97.92 L535.89,102.25 L534.6,106.58 L533.3,110.9Z" fill="url(#Ul)" fill-opacity="0.85" filter="url(#b05)"/><path d="M523.48,108.9 L521.82,104.83 L520.17,100.75 L518.52,96.68 L516.87,92.6 L515.22,88.53 L513.57,84.45 L511.92,80.38 L510.27,76.3 L512.9,76.3 L514.43,80.38 L515.96,84.45 L517.48,88.53 L519.01,92.6 L520.54,96.68 L522.07,100.75 L523.6,104.83 L525.12,108.9Z" fill="url(#Ul)" fill-opacity="0.4" filter="url(#b08)"/><path d="M534.88,108.9 L536.4,104.83 L537.93,100.75 L539.46,96.68 L540.99,92.6 L542.52,88.53 L544.04,84.45 L545.57,80.38 L547.1,76.3 L549.73,76.3 L548.08,80.38 L546.43,84.45 L544.78,88.53 L543.13,92.6 L541.48,96.68 L539.83,100.75 L538.18,104.83 L536.52,108.9Z" fill="url(#Uk)" fill-opacity="0.4" filter="url(#b08)"/><path d="M527.28,111.6 L527.21,110.01 L527.13,108.43 L527.05,106.84 L526.97,105.25 L526.89,103.66 L526.81,102.08 L526.73,100.49 L526.65,98.9 L529.5,98.9 L529.53,100.49 L529.56,102.08 L529.6,103.66 L529.63,105.25 L529.66,106.84 L529.69,108.43 L529.72,110.01 L529.75,111.6Z" fill="url(#UB)" fill-opacity="1" filter="url(#b03)"/><path d="M530.25,111.3 L530.28,109.88 L530.31,108.45 L530.34,107.03 L530.37,105.6 L530.39,104.18 L530.42,102.75 L530.45,101.33 L530.48,99.9 L533.1,99.9 L533.03,101.33 L532.96,102.75 L532.89,104.18 L532.82,105.6 L532.74,107.03 L532.67,108.45 L532.6,109.88 L532.53,111.3Z" fill="url(#UO)" fill-opacity="0.95" filter="url(#b03)"/><path d="M526.5,116.9 L525.2,121.23 L523.9,125.55 L522.61,129.88 L521.31,134.2 L520.01,138.53 L518.72,142.85 L517.42,147.18 L516.12,151.5 L518.32,151.5 L519.62,147.18 L520.91,142.85 L522.21,138.53 L523.51,134.2 L524.81,129.88 L526.11,125.55 L527.4,121.23 L528.7,116.9Z" fill="url(#Dk)" fill-opacity="0.95" filter="url(#b05)"/><path d="M531.3,116.9 L532.6,121.23 L533.89,125.55 L535.19,129.88 L536.49,134.2 L537.79,138.53 L539.09,142.85 L540.38,147.18 L541.68,151.5 L543.68,151.5 L542.38,147.18 L541.09,142.85 L539.79,138.53 L538.49,134.2 L537.19,129.88 L535.89,125.55 L534.6,121.23 L533.3,116.9Z" fill="url(#Dl)" fill-opacity="0.85" filter="url(#b05)"/><path d="M523.48,118.9 L521.82,122.98 L520.17,127.05 L518.52,131.12 L516.87,135.2 L515.22,139.28 L513.57,143.35 L511.92,147.43 L510.27,151.5 L512.9,151.5 L514.43,147.43 L515.96,143.35 L517.48,139.28 L519.01,135.2 L520.54,131.12 L522.07,127.05 L523.6,122.98 L525.12,118.9Z" fill="url(#Dl)" fill-opacity="0.4" filter="url(#b08)"/><path d="M534.88,118.9 L536.4,122.98 L537.93,127.05 L539.46,131.12 L540.99,135.2 L542.52,139.28 L544.04,143.35 L545.57,147.43 L547.1,151.5 L549.73,151.5 L548.08,147.43 L546.43,143.35 L544.78,139.28 L543.13,135.2 L541.48,131.12 L539.83,127.05 L538.18,122.98 L536.52,118.9Z" fill="url(#Dk)" fill-opacity="0.4" filter="url(#b08)"/><path d="M527.28,116.2 L527.21,117.79 L527.13,119.38 L527.05,120.96 L526.97,122.55 L526.89,124.14 L526.81,125.73 L526.73,127.31 L526.65,128.9 L529.5,128.9 L529.53,127.31 L529.56,125.73 L529.6,124.14 L529.63,122.55 L529.66,120.96 L529.69,119.38 L529.72,117.79 L529.75,116.2Z" fill="url(#DB)" fill-opacity="1" filter="url(#b03)"/><path d="M530.25,116.5 L530.28,117.93 L530.31,119.35 L530.34,120.78 L530.37,122.2 L530.39,123.62 L530.42,125.05 L530.45,126.48 L530.48,127.9 L533.1,127.9 L533.03,126.48 L532.96,125.05 L532.89,123.62 L532.82,122.2 L532.74,120.78 L532.67,119.35 L532.6,117.93 L532.53,116.5Z" fill="url(#DO)" fill-opacity="0.95" filter="url(#b03)"/>
<path d="M628.98,110.9 L630.32,106.58 L631.66,102.25 L633,97.92 L634.34,93.6 L635.68,89.28 L637.02,84.95 L638.37,80.62 L639.71,76.3 L637.91,76.3 L636.57,80.62 L635.22,84.95 L633.88,89.28 L632.54,93.6 L631.2,97.92 L629.86,102.25 L628.52,106.58 L627.18,110.9Z" fill="url(#Ul)" fill-opacity="1" filter="url(#b05)"/><path d="M626.52,110.9 L625.18,106.58 L623.84,102.25 L622.5,97.92 L621.16,93.6 L619.82,89.28 L618.48,84.95 L617.13,80.62 L615.79,76.3 L613.99,76.3 L615.33,80.62 L616.68,84.95 L618.02,89.28 L619.36,93.6 L620.7,97.92 L622.04,102.25 L623.38,106.58 L624.72,110.9Z" fill="url(#Ul)" fill-opacity="0.9" filter="url(#b05)"/><path d="M624.82,111.4 L624.08,107.01 L623.33,102.62 L622.58,98.24 L621.83,93.85 L621.08,89.46 L620.34,85.08 L619.59,80.69 L618.84,76.3 L613.33,76.3 L614.41,80.69 L615.5,85.08 L616.59,89.46 L617.68,93.85 L618.77,98.24 L619.85,102.62 L620.94,107.01 L622.03,111.4Z" fill="url(#Ub)" fill-opacity="0.7" filter="url(#b08)"/><path d="M622.73,109.9 L621.56,105.7 L620.39,101.5 L619.22,97.3 L618.05,93.1 L616.88,88.9 L615.7,84.7 L614.53,80.5 L613.36,76.3 L606.78,76.3 L608.41,80.5 L610.03,84.7 L611.66,88.9 L613.29,93.1 L614.92,97.3 L616.55,101.5 L618.17,105.7 L619.8,109.9Z" fill="url(#Uk)" fill-opacity="0.45" filter="url(#b12)"/><path d="M632.07,108.9 L633.71,104.83 L635.35,100.75 L636.99,96.68 L638.63,92.6 L640.28,88.53 L641.92,84.45 L643.56,80.38 L645.2,76.3 L641.85,76.3 L640.4,80.38 L638.95,84.45 L637.5,88.53 L636.04,92.6 L634.59,96.68 L633.14,100.75 L631.69,104.83 L630.23,108.9Z" fill="url(#Uk)" fill-opacity="0.35" filter="url(#b08)"/><path d="M628.55,111.6 L628.55,110.16 L628.55,108.73 L628.55,107.29 L628.55,105.85 L628.55,104.41 L628.55,102.98 L628.55,101.54 L628.55,100.1 L626.05,100.1 L626.05,101.54 L626.05,102.98 L626.05,104.41 L626.05,105.85 L626.05,107.29 L626.05,108.73 L626.05,110.16 L626.05,111.6Z" fill="url(#UO)" fill-opacity="1" filter="url(#b03)"/><path d="M628.98,116.9 L630.32,121.23 L631.66,125.55 L633,129.88 L634.34,134.2 L635.68,138.53 L637.02,142.85 L638.37,147.18 L639.71,151.5 L637.91,151.5 L636.57,147.18 L635.22,142.85 L633.88,138.53 L632.54,134.2 L631.2,129.88 L629.86,125.55 L628.52,121.23 L627.18,116.9Z" fill="url(#Dl)" fill-opacity="1" filter="url(#b05)"/><path d="M626.52,116.9 L625.18,121.23 L623.84,125.55 L622.5,129.88 L621.16,134.2 L619.82,138.53 L618.48,142.85 L617.13,147.18 L615.79,151.5 L613.99,151.5 L615.33,147.18 L616.68,142.85 L618.02,138.53 L619.36,134.2 L620.7,129.88 L622.04,125.55 L623.38,121.23 L624.72,116.9Z" fill="url(#Dl)" fill-opacity="0.9" filter="url(#b05)"/><path d="M624.82,116.4 L624.08,120.79 L623.33,125.18 L622.58,129.56 L621.83,133.95 L621.08,138.34 L620.34,142.73 L619.59,147.11 L618.84,151.5 L613.33,151.5 L614.41,147.11 L615.5,142.73 L616.59,138.34 L617.68,133.95 L618.77,129.56 L619.85,125.18 L620.94,120.79 L622.03,116.4Z" fill="url(#Db)" fill-opacity="0.7" filter="url(#b08)"/><path d="M622.73,117.9 L621.56,122.1 L620.39,126.3 L619.22,130.5 L618.05,134.7 L616.88,138.9 L615.7,143.1 L614.53,147.3 L613.36,151.5 L606.78,151.5 L608.41,147.3 L610.03,143.1 L611.66,138.9 L613.29,134.7 L614.92,130.5 L616.55,126.3 L618.17,122.1 L619.8,117.9Z" fill="url(#Dk)" fill-opacity="0.45" filter="url(#b12)"/><path d="M632.07,118.9 L633.71,122.98 L635.35,127.05 L636.99,131.12 L638.63,135.2 L640.28,139.28 L641.92,143.35 L643.56,147.43 L645.2,151.5 L641.85,151.5 L640.4,147.43 L638.95,143.35 L637.5,139.28 L636.04,135.2 L634.59,131.12 L633.14,127.05 L631.69,122.98 L630.23,118.9Z" fill="url(#Dk)" fill-opacity="0.35" filter="url(#b08)"/><path d="M628.55,116.2 L628.55,117.64 L628.55,119.08 L628.55,120.51 L628.55,121.95 L628.55,123.39 L628.55,124.83 L628.55,126.26 L628.55,127.7 L626.05,127.7 L626.05,126.26 L626.05,124.83 L626.05,123.39 L626.05,121.95 L626.05,120.51 L626.05,119.08 L626.05,117.64 L626.05,116.2Z" fill="url(#DO)" fill-opacity="1" filter="url(#b03)"/>
<path d="M432.75,82.8 L432.75,88.8" stroke="#f5a432" stroke-width="2.4"/>
<path d="M432.75,94.8 L430.15,86 L435.35,86 Z" fill="#f5a432"/>
<path d="M432.75,141.4 L432.75,135.4" stroke="#f5a432" stroke-width="2.4"/>
<path d="M432.75,129.4 L430.15,138.2 L435.35,138.2 Z" fill="#f5a432"/>
<path d="M529.9,82.8 L529.9,88.8" stroke="#f5a432" stroke-width="2.4"/>
<path d="M529.9,94.8 L527.3,86 L532.5,86 Z" fill="#f5a432"/>
<path d="M529.9,141.4 L529.9,135.4" stroke="#f5a432" stroke-width="2.4"/>
<path d="M529.9,129.4 L527.3,138.2 L532.5,138.2 Z" fill="#f5a432"/>
<path d="M627.05,82.8 L627.05,88.8" stroke="#f5a432" stroke-width="2.4"/>
<path d="M627.05,94.8 L624.45,86 L629.65,86 Z" fill="#f5a432"/>
<path d="M627.05,141.4 L627.05,135.4" stroke="#f5a432" stroke-width="2.4"/>
<path d="M627.05,129.4 L624.45,138.2 L629.65,138.2 Z" fill="#f5a432"/>
</g>
<path d="M393.99,101.3 L398.6,101.42 L403.21,101.54 L407.82,101.66 L412.43,101.78 L417.04,101.9 L421.65,102.02 L426.26,102.14 L430.87,102.26 L435.48,102.37 L440.1,102.49 L444.71,102.6 L449.32,102.72 L453.93,102.83 L458.54,102.93 L463.15,103.04 L467.76,103.14 L472.37,103.25 L476.98,103.34 L481.59,103.44 L486.2,103.53 L490.81,103.61 L495.42,103.69 L500.03,103.76 L504.64,103.82 L509.25,103.88 L513.86,103.93 L518.47,103.96 L523.08,103.99 L527.69,104 L532.31,104 L536.92,103.99 L541.53,103.96 L546.14,103.93 L550.75,103.88 L555.36,103.82 L559.97,103.76 L564.58,103.69 L569.19,103.61 L573.8,103.53 L578.41,103.44 L583.02,103.34 L587.63,103.25 L592.24,103.14 L596.85,103.04 L601.46,102.93 L606.07,102.83 L610.68,102.72 L615.29,102.6 L619.9,102.49 L624.52,102.37 L629.13,102.26 L633.74,102.14 L638.35,102.02 L642.96,101.9 L647.57,101.78 L652.18,101.66 L656.79,101.54 L661.4,101.42 L666.01,101.3" stroke="#fa14fa" stroke-width="1.45" stroke-dasharray="6,2.3" stroke-dashoffset="4" fill="none"/>
<path d="M393.99,124.9 L398.6,124.78 L403.21,124.66 L407.82,124.54 L412.43,124.42 L417.04,124.3 L421.65,124.18 L426.26,124.06 L430.87,123.94 L435.48,123.83 L440.1,123.71 L444.71,123.6 L449.32,123.48 L453.93,123.37 L458.54,123.27 L463.15,123.16 L467.76,123.06 L472.37,122.95 L476.98,122.86 L481.59,122.76 L486.2,122.67 L490.81,122.59 L495.42,122.51 L500.03,122.44 L504.64,122.38 L509.25,122.32 L513.86,122.27 L518.47,122.24 L523.08,122.21 L527.69,122.2 L532.31,122.2 L536.92,122.21 L541.53,122.24 L546.14,122.27 L550.75,122.32 L555.36,122.38 L559.97,122.44 L564.58,122.51 L569.19,122.59 L573.8,122.67 L578.41,122.76 L583.02,122.86 L587.63,122.95 L592.24,123.06 L596.85,123.16 L601.46,123.27 L606.07,123.37 L610.68,123.48 L615.29,123.6 L619.9,123.71 L624.52,123.83 L629.13,123.94 L633.74,124.06 L638.35,124.18 L642.96,124.3 L647.57,124.42 L652.18,124.54 L656.79,124.66 L661.4,124.78 L666.01,124.9" stroke="#fa14fa" stroke-width="1.45" stroke-dasharray="6,2.3" stroke-dashoffset="4" fill="none"/>
<path d="M448,112.3 L506.5,112.3" stroke="#fa14fa" stroke-width="1.9"/>
<path d="M511.5,112.3 L504.5,109.3 L504.5,115.3 Z" fill="#fa14fa"/>
<path d="M550.5,112.3 L609,112.3" stroke="#fa14fa" stroke-width="1.9"/>
<path d="M614,112.3 L607,109.3 L607,115.3 Z" fill="#fa14fa"/>
<rect x="394.2" y="77.3" width="271.2" height="72.60000000000001" fill="none" stroke="#3a3a3a" stroke-width="1.05"/>
<path d="M394.2,86.5 L397,86.5 M665.4,86.5 L662.6,86.5 M394.2,113.9 L397,113.9 M665.4,113.9 L662.6,113.9 M394.2,141.3 L397,141.3 M665.4,141.3 L662.6,141.3 M413.42,77.3 L413.42,79.9 M413.42,149.9 L413.42,147.3 M452.28,77.3 L452.28,79.9 M452.28,149.9 L452.28,147.3 M491.14,77.3 L491.14,79.9 M491.14,149.9 L491.14,147.3 M530,77.3 L530,79.9 M530,149.9 L530,147.3 M568.86,77.3 L568.86,79.9 M568.86,149.9 L568.86,147.3 M607.72,77.3 L607.72,79.9 M607.72,149.9 L607.72,147.3 M646.58,77.3 L646.58,79.9 M646.58,149.9 L646.58,147.3" stroke="#3a3a3a" stroke-width="1" fill="none"/>
<text transform="translate(391.3,90) scale(1,1.18)" text-anchor="end" font-size="9.6" fill="#333" font-family='"Liberation Sans", sans-serif'>-20</text>
<text transform="translate(391.3,117.4) scale(1,1.18)" text-anchor="end" font-size="9.6" fill="#333" font-family='"Liberation Sans", sans-serif'>0</text>
<text transform="translate(391.3,144.8) scale(1,1.18)" text-anchor="end" font-size="9.6" fill="#333" font-family='"Liberation Sans", sans-serif'>20</text>
<text transform="translate(380.4,114.7) scale(1,1.0) rotate(-90)" text-anchor="middle" font-size="9.8" fill="#333" font-family='"Liberation Sans", sans-serif'><tspan font-style="italic">r</tspan>(<tspan font-style="italic">q</tspan><tspan font-size="6.4" dy="2">1</tspan><tspan dy="-2">)</tspan></text>
<text transform="translate(401,93.6) scale(1,1.0)" font-size="13" font-weight="bold" fill="#222" font-family='"Liberation Sans", sans-serif'>d</text>
<text transform="translate(463,90.4) scale(1,1.18)" font-size="10.6" font-style="italic" fill="#e8622c" font-family='"Liberation Sans", sans-serif'>q</text>
<text transform="translate(468.3,94.8) scale(1,1.18)" font-size="7.8" fill="#e8622c" font-family='"Liberation Sans", sans-serif'>3</text>
<text transform="translate(472.4,90.4) scale(1,1.18)" font-size="10.6" fill="#e8622c" font-family='"Liberation Sans", sans-serif'>=</text>
<text transform="translate(479.1,90.4) scale(1,1.18)" font-size="11.2" fill="#e8622c" font-family='"Liberation Sans", sans-serif'>20</text>
<text transform="translate(492.4,90.4) scale(1,1.18)" font-size="10.6" font-style="italic" fill="#e8622c" font-family='"Liberation Sans", sans-serif'>q</text>
<text transform="translate(497.8,94.8) scale(1,1.18)" font-size="7.8" fill="#e8622c" font-family='"Liberation Sans", sans-serif'>1</text>

<clipPath id="pc2"><rect x="394.2" y="152.7" width="271.6" height="72.9"/></clipPath>
<g clip-path="url(#pc2)">
<path d="M430.2,187.3 L427.84,181.03 L425.24,174.77 L422.41,168.5 L419.34,162.23 L416.04,155.97 L412.5,149.7 L413.7,149.7 L417.24,155.97 L420.54,162.23 L423.61,168.5 L426.44,174.77 L429.04,181.03 L431.4,187.3Z" fill="url(#Muk)" fill-opacity="0.62" filter="url(#b05)"/>
<path d="M429.1,187.3 L426.12,181.03 L422.89,174.77 L419.43,168.5 L415.74,162.23 L411.81,155.97 L407.64,149.7 L408.84,149.7 L413.01,155.97 L416.94,162.23 L420.63,168.5 L424.09,174.77 L427.32,181.03 L430.3,187.3Z" fill="url(#Mul)" fill-opacity="0.57" filter="url(#b05)"/>
<path d="M428,187.3 L424.39,181.03 L420.54,174.77 L416.45,168.5 L412.13,162.23 L407.57,155.97 L402.78,149.7 L403.98,149.7 L408.77,155.97 L413.33,162.23 L417.65,168.5 L421.74,174.77 L425.59,181.03 L429.2,187.3Z" fill="url(#Muk)" fill-opacity="0.52" filter="url(#b05)"/>
<path d="M426.9,187.3 L422.66,181.03 L418.18,174.77 L413.47,168.5 L408.52,162.23 L403.34,155.97 L397.92,149.7 L399.12,149.7 L404.54,155.97 L409.72,162.23 L414.67,168.5 L419.38,174.77 L423.86,181.03 L428.1,187.3Z" fill="url(#Mul)" fill-opacity="0.47" filter="url(#b05)"/>
<path d="M425.8,187.3 L420.94,181.03 L415.83,174.77 L410.49,168.5 L404.92,162.23 L399.11,155.97 L393.06,149.7 L394.26,149.7 L400.31,155.97 L406.12,162.23 L411.69,168.5 L417.03,174.77 L422.14,181.03 L427,187.3Z" fill="url(#Muk)" fill-opacity="0.42" filter="url(#b05)"/>
<path d="M424.7,187.3 L419.21,181.03 L413.48,174.77 L407.51,168.5 L401.31,162.23 L394.87,155.97 L388.2,149.7 L389.4,149.7 L396.07,155.97 L402.51,162.23 L408.71,168.5 L414.68,174.77 L420.41,181.03 L425.9,187.3Z" fill="url(#Mul)" fill-opacity="0.37" filter="url(#b05)"/>
<path d="M434.3,187.3 L436.66,181.03 L439.26,174.77 L442.09,168.5 L445.16,162.23 L448.46,155.97 L452,149.7 L453.2,149.7 L449.66,155.97 L446.36,162.23 L443.29,168.5 L440.46,174.77 L437.86,181.03 L435.5,187.3Z" fill="url(#Mul)" fill-opacity="0.62" filter="url(#b05)"/>
<path d="M435.4,187.3 L438.38,181.03 L441.61,174.77 L445.07,168.5 L448.76,162.23 L452.69,155.97 L456.86,149.7 L458.06,149.7 L453.89,155.97 L449.96,162.23 L446.27,168.5 L442.81,174.77 L439.58,181.03 L436.6,187.3Z" fill="url(#Muk)" fill-opacity="0.57" filter="url(#b05)"/>
<path d="M436.5,187.3 L440.11,181.03 L443.96,174.77 L448.05,168.5 L452.37,162.23 L456.93,155.97 L461.72,149.7 L462.92,149.7 L458.13,155.97 L453.57,162.23 L449.25,168.5 L445.16,174.77 L441.31,181.03 L437.7,187.3Z" fill="url(#Mul)" fill-opacity="0.52" filter="url(#b05)"/>
<path d="M437.6,187.3 L441.84,181.03 L446.32,174.77 L451.03,168.5 L455.98,162.23 L461.16,155.97 L466.58,149.7 L467.78,149.7 L462.36,155.97 L457.18,162.23 L452.23,168.5 L447.52,174.77 L443.04,181.03 L438.8,187.3Z" fill="url(#Muk)" fill-opacity="0.47" filter="url(#b05)"/>
<path d="M438.7,187.3 L443.56,181.03 L448.67,174.77 L454.01,168.5 L459.58,162.23 L465.39,155.97 L471.44,149.7 L472.64,149.7 L466.59,155.97 L460.78,162.23 L455.21,168.5 L449.87,174.77 L444.76,181.03 L439.9,187.3Z" fill="url(#Mul)" fill-opacity="0.42" filter="url(#b05)"/>
<path d="M439.8,187.3 L445.29,181.03 L451.02,174.77 L456.99,168.5 L463.19,162.23 L469.63,155.97 L476.3,149.7 L477.5,149.7 L470.83,155.97 L464.39,162.23 L458.19,168.5 L452.22,174.77 L446.49,181.03 L441,187.3Z" fill="url(#Muk)" fill-opacity="0.37" filter="url(#b05)"/>
<path d="M430.2,193.3 L427.84,199.57 L425.24,205.83 L422.41,212.1 L419.34,218.37 L416.04,224.63 L412.5,230.9 L413.7,230.9 L417.24,224.63 L420.54,218.37 L423.61,212.1 L426.44,205.83 L429.04,199.57 L431.4,193.3Z" fill="url(#Mdk)" fill-opacity="0.62" filter="url(#b05)"/>
<path d="M429.1,193.3 L426.12,199.57 L422.89,205.83 L419.43,212.1 L415.74,218.37 L411.81,224.63 L407.64,230.9 L408.84,230.9 L413.01,224.63 L416.94,218.37 L420.63,212.1 L424.09,205.83 L427.32,199.57 L430.3,193.3Z" fill="url(#Mdl)" fill-opacity="0.57" filter="url(#b05)"/>
<path d="M428,193.3 L424.39,199.57 L420.54,205.83 L416.45,212.1 L412.13,218.37 L407.57,224.63 L402.78,230.9 L403.98,230.9 L408.77,224.63 L413.33,218.37 L417.65,212.1 L421.74,205.83 L425.59,199.57 L429.2,193.3Z" fill="url(#Mdk)" fill-opacity="0.52" filter="url(#b05)"/>
<path d="M426.9,193.3 L422.66,199.57 L418.18,205.83 L413.47,212.1 L408.52,218.37 L403.34,224.63 L397.92,230.9 L399.12,230.9 L404.54,224.63 L409.72,218.37 L414.67,212.1 L419.38,205.83 L423.86,199.57 L428.1,193.3Z" fill="url(#Mdl)" fill-opacity="0.47" filter="url(#b05)"/>
<path d="M425.8,193.3 L420.94,199.57 L415.83,205.83 L410.49,212.1 L404.92,218.37 L399.11,224.63 L393.06,230.9 L394.26,230.9 L400.31,224.63 L406.12,218.37 L411.69,212.1 L417.03,205.83 L422.14,199.57 L427,193.3Z" fill="url(#Mdk)" fill-opacity="0.42" filter="url(#b05)"/>
<path d="M424.7,193.3 L419.21,199.57 L413.48,205.83 L407.51,212.1 L401.31,218.37 L394.87,224.63 L388.2,230.9 L389.4,230.9 L396.07,224.63 L402.51,218.37 L408.71,212.1 L414.68,205.83 L420.41,199.57 L425.9,193.3Z" fill="url(#Mdl)" fill-opacity="0.37" filter="url(#b05)"/>
<path d="M434.3,193.3 L436.66,199.57 L439.26,205.83 L442.09,212.1 L445.16,218.37 L448.46,224.63 L452,230.9 L453.2,230.9 L449.66,224.63 L446.36,218.37 L443.29,212.1 L440.46,205.83 L437.86,199.57 L435.5,193.3Z" fill="url(#Mdl)" fill-opacity="0.62" filter="url(#b05)"/>
<path d="M435.4,193.3 L438.38,199.57 L441.61,205.83 L445.07,212.1 L448.76,218.37 L452.69,224.63 L456.86,230.9 L458.06,230.9 L453.89,224.63 L449.96,218.37 L446.27,212.1 L442.81,205.83 L439.58,199.57 L436.6,193.3Z" fill="url(#Mdk)" fill-opacity="0.57" filter="url(#b05)"/>
<path d="M436.5,193.3 L440.11,199.57 L443.96,205.83 L448.05,212.1 L452.37,218.37 L456.93,224.63 L461.72,230.9 L462.92,230.9 L458.13,224.63 L453.57,218.37 L449.25,212.1 L445.16,205.83 L441.31,199.57 L437.7,193.3Z" fill="url(#Mdl)" fill-opacity="0.52" filter="url(#b05)"/>
<path d="M437.6,193.3 L441.84,199.57 L446.32,205.83 L451.03,212.1 L455.98,218.37 L461.16,224.63 L466.58,230.9 L467.78,230.9 L462.36,224.63 L457.18,218.37 L452.23,212.1 L447.52,205.83 L443.04,199.57 L438.8,193.3Z" fill="url(#Mdk)" fill-opacity="0.47" filter="url(#b05)"/>
<path d="M438.7,193.3 L443.56,199.57 L448.67,205.83 L454.01,212.1 L459.58,218.37 L465.39,224.63 L471.44,230.9 L472.64,230.9 L466.59,224.63 L460.78,218.37 L455.21,212.1 L449.87,205.83 L444.76,199.57 L439.9,193.3Z" fill="url(#Mdl)" fill-opacity="0.42" filter="url(#b05)"/>
<path d="M439.8,193.3 L445.29,199.57 L451.02,205.83 L456.99,212.1 L463.19,218.37 L469.63,224.63 L476.3,230.9 L477.5,230.9 L470.83,224.63 L464.39,218.37 L458.19,212.1 L452.22,205.83 L446.49,199.57 L441,193.3Z" fill="url(#Mdk)" fill-opacity="0.37" filter="url(#b05)"/>
<path d="M433.91,190 L434.46,187.27 L435,184.53 L435.55,181.8 L440.03,181.8 L439.07,184.53 L438.11,187.27 L437.16,190Z" fill="url(#ub)" fill-opacity="0.9" filter="url(#b05)"/>
<path d="M431.55,189.7 L431.55,185.75 L431.55,181.8 L433.85,181.8 L433.85,185.75 L433.85,189.7Z" fill="url(#UO)" fill-opacity="1" filter="url(#b03)"/>
<path d="M433.91,190.6 L434.46,193.33 L435,196.07 L435.55,198.8 L440.03,198.8 L439.07,196.07 L438.11,193.33 L437.16,190.6Z" fill="url(#db)" fill-opacity="0.9" filter="url(#b05)"/>
<path d="M431.55,190.9 L431.55,194.85 L431.55,198.8 L433.85,198.8 L433.85,194.85 L433.85,190.9Z" fill="url(#DO)" fill-opacity="1" filter="url(#b03)"/>
<path d="M527.35,187.3 L524.99,181.03 L522.39,174.77 L519.56,168.5 L516.49,162.23 L513.19,155.97 L509.65,149.7 L510.85,149.7 L514.39,155.97 L517.69,162.23 L520.76,168.5 L523.59,174.77 L526.19,181.03 L528.55,187.3Z" fill="url(#Muk)" fill-opacity="0.62" filter="url(#b05)"/>
<path d="M526.25,187.3 L523.27,181.03 L520.04,174.77 L516.58,168.5 L512.89,162.23 L508.96,155.97 L504.79,149.7 L505.99,149.7 L510.16,155.97 L514.09,162.23 L517.78,168.5 L521.24,174.77 L524.47,181.03 L527.45,187.3Z" fill="url(#Mul)" fill-opacity="0.57" filter="url(#b05)"/>
<path d="M525.15,187.3 L521.54,181.03 L517.69,174.77 L513.6,168.5 L509.28,162.23 L504.72,155.97 L499.93,149.7 L501.13,149.7 L505.92,155.97 L510.48,162.23 L514.8,168.5 L518.89,174.77 L522.74,181.03 L526.35,187.3Z" fill="url(#Muk)" fill-opacity="0.52" filter="url(#b05)"/>
<path d="M524.05,187.3 L519.81,181.03 L515.33,174.77 L510.62,168.5 L505.67,162.23 L500.49,155.97 L495.07,149.7 L496.27,149.7 L501.69,155.97 L506.87,162.23 L511.82,168.5 L516.53,174.77 L521.01,181.03 L525.25,187.3Z" fill="url(#Mul)" fill-opacity="0.47" filter="url(#b05)"/>
<path d="M522.95,187.3 L518.09,181.03 L512.98,174.77 L507.64,168.5 L502.07,162.23 L496.26,155.97 L490.21,149.7 L491.41,149.7 L497.46,155.97 L503.27,162.23 L508.84,168.5 L514.18,174.77 L519.29,181.03 L524.15,187.3Z" fill="url(#Muk)" fill-opacity="0.42" filter="url(#b05)"/>
<path d="M521.85,187.3 L516.36,181.03 L510.63,174.77 L504.66,168.5 L498.46,162.23 L492.02,155.97 L485.35,149.7 L486.55,149.7 L493.22,155.97 L499.66,162.23 L505.86,168.5 L511.83,174.77 L517.56,181.03 L523.05,187.3Z" fill="url(#Mul)" fill-opacity="0.37" filter="url(#b05)"/>
<path d="M531.45,187.3 L533.81,181.03 L536.41,174.77 L539.24,168.5 L542.31,162.23 L545.61,155.97 L549.15,149.7 L550.35,149.7 L546.81,155.97 L543.51,162.23 L540.44,168.5 L537.61,174.77 L535.01,181.03 L532.65,187.3Z" fill="url(#Mul)" fill-opacity="0.62" filter="url(#b05)"/>
<path d="M532.55,187.3 L535.53,181.03 L538.76,174.77 L542.22,168.5 L545.91,162.23 L549.84,155.97 L554.01,149.7 L555.21,149.7 L551.04,155.97 L547.11,162.23 L543.42,168.5 L539.96,174.77 L536.73,181.03 L533.75,187.3Z" fill="url(#Muk)" fill-opacity="0.57" filter="url(#b05)"/>
<path d="M533.65,187.3 L537.26,181.03 L541.11,174.77 L545.2,168.5 L549.52,162.23 L554.08,155.97 L558.87,149.7 L560.07,149.7 L555.28,155.97 L550.72,162.23 L546.4,168.5 L542.31,174.77 L538.46,181.03 L534.85,187.3Z" fill="url(#Mul)" fill-opacity="0.52" filter="url(#b05)"/>
<path d="M534.75,187.3 L538.99,181.03 L543.47,174.77 L548.18,168.5 L553.13,162.23 L558.31,155.97 L563.73,149.7 L564.93,149.7 L559.51,155.97 L554.33,162.23 L549.38,168.5 L544.67,174.77 L540.19,181.03 L535.95,187.3Z" fill="url(#Muk)" fill-opacity="0.47" filter="url(#b05)"/>
<path d="M535.85,187.3 L540.71,181.03 L545.82,174.77 L551.16,168.5 L556.73,162.23 L562.54,155.97 L568.59,149.7 L569.79,149.7 L563.74,155.97 L557.93,162.23 L552.36,168.5 L547.02,174.77 L541.91,181.03 L537.05,187.3Z" fill="url(#Mul)" fill-opacity="0.42" filter="url(#b05)"/>
<path d="M536.95,187.3 L542.44,181.03 L548.17,174.77 L554.14,168.5 L560.34,162.23 L566.78,155.97 L573.45,149.7 L574.65,149.7 L567.98,155.97 L561.54,162.23 L555.34,168.5 L549.37,174.77 L543.64,181.03 L538.15,187.3Z" fill="url(#Muk)" fill-opacity="0.37" filter="url(#b05)"/>
<path d="M527.35,193.3 L524.99,199.57 L522.39,205.83 L519.56,212.1 L516.49,218.37 L513.19,224.63 L509.65,230.9 L510.85,230.9 L514.39,224.63 L517.69,218.37 L520.76,212.1 L523.59,205.83 L526.19,199.57 L528.55,193.3Z" fill="url(#Mdk)" fill-opacity="0.62" filter="url(#b05)"/>
<path d="M526.25,193.3 L523.27,199.57 L520.04,205.83 L516.58,212.1 L512.89,218.37 L508.96,224.63 L504.79,230.9 L505.99,230.9 L510.16,224.63 L514.09,218.37 L517.78,212.1 L521.24,205.83 L524.47,199.57 L527.45,193.3Z" fill="url(#Mdl)" fill-opacity="0.57" filter="url(#b05)"/>
<path d="M525.15,193.3 L521.54,199.57 L517.69,205.83 L513.6,212.1 L509.28,218.37 L504.72,224.63 L499.93,230.9 L501.13,230.9 L505.92,224.63 L510.48,218.37 L514.8,212.1 L518.89,205.83 L522.74,199.57 L526.35,193.3Z" fill="url(#Mdk)" fill-opacity="0.52" filter="url(#b05)"/>
<path d="M524.05,193.3 L519.81,199.57 L515.33,205.83 L510.62,212.1 L505.67,218.37 L500.49,224.63 L495.07,230.9 L496.27,230.9 L501.69,224.63 L506.87,218.37 L511.82,212.1 L516.53,205.83 L521.01,199.57 L525.25,193.3Z" fill="url(#Mdl)" fill-opacity="0.47" filter="url(#b05)"/>
<path d="M522.95,193.3 L518.09,199.57 L512.98,205.83 L507.64,212.1 L502.07,218.37 L496.26,224.63 L490.21,230.9 L491.41,230.9 L497.46,224.63 L503.27,218.37 L508.84,212.1 L514.18,205.83 L519.29,199.57 L524.15,193.3Z" fill="url(#Mdk)" fill-opacity="0.42" filter="url(#b05)"/>
<path d="M521.85,193.3 L516.36,199.57 L510.63,205.83 L504.66,212.1 L498.46,218.37 L492.02,224.63 L485.35,230.9 L486.55,230.9 L493.22,224.63 L499.66,218.37 L505.86,212.1 L511.83,205.83 L517.56,199.57 L523.05,193.3Z" fill="url(#Mdl)" fill-opacity="0.37" filter="url(#b05)"/>
<path d="M531.45,193.3 L533.81,199.57 L536.41,205.83 L539.24,212.1 L542.31,218.37 L545.61,224.63 L549.15,230.9 L550.35,230.9 L546.81,224.63 L543.51,218.37 L540.44,212.1 L537.61,205.83 L535.01,199.57 L532.65,193.3Z" fill="url(#Mdl)" fill-opacity="0.62" filter="url(#b05)"/>
<path d="M532.55,193.3 L535.53,199.57 L538.76,205.83 L542.22,212.1 L545.91,218.37 L549.84,224.63 L554.01,230.9 L555.21,230.9 L551.04,224.63 L547.11,218.37 L543.42,212.1 L539.96,205.83 L536.73,199.57 L533.75,193.3Z" fill="url(#Mdk)" fill-opacity="0.57" filter="url(#b05)"/>
<path d="M533.65,193.3 L537.26,199.57 L541.11,205.83 L545.2,212.1 L549.52,218.37 L554.08,224.63 L558.87,230.9 L560.07,230.9 L555.28,224.63 L550.72,218.37 L546.4,212.1 L542.31,205.83 L538.46,199.57 L534.85,193.3Z" fill="url(#Mdl)" fill-opacity="0.52" filter="url(#b05)"/>
<path d="M534.75,193.3 L538.99,199.57 L543.47,205.83 L548.18,212.1 L553.13,218.37 L558.31,224.63 L563.73,230.9 L564.93,230.9 L559.51,224.63 L554.33,218.37 L549.38,212.1 L544.67,205.83 L540.19,199.57 L535.95,193.3Z" fill="url(#Mdk)" fill-opacity="0.47" filter="url(#b05)"/>
<path d="M535.85,193.3 L540.71,199.57 L545.82,205.83 L551.16,212.1 L556.73,218.37 L562.54,224.63 L568.59,230.9 L569.79,230.9 L563.74,224.63 L557.93,218.37 L552.36,212.1 L547.02,205.83 L541.91,199.57 L537.05,193.3Z" fill="url(#Mdl)" fill-opacity="0.42" filter="url(#b05)"/>
<path d="M536.95,193.3 L542.44,199.57 L548.17,205.83 L554.14,212.1 L560.34,218.37 L566.78,224.63 L573.45,230.9 L574.65,230.9 L567.98,224.63 L561.54,218.37 L555.34,212.1 L549.37,205.83 L543.64,199.57 L538.15,193.3Z" fill="url(#Mdk)" fill-opacity="0.37" filter="url(#b05)"/>
<path d="M527.4,190.3 L527.3,188.8 L527,187.3 L526.49,185.8 L525.78,184.3 L524.87,182.8 L527.25,182.8 L528.06,184.3 L528.69,185.8 L529.14,187.3 L529.41,188.8 L529.5,190.3Z" fill="url(#UB)" fill-opacity="0.95" filter="url(#b03)"/>
<path d="M530.5,190.3 L530.59,188.8 L530.86,187.3 L531.31,185.8 L531.94,184.3 L532.75,182.8 L534.93,182.8 L534.02,184.3 L533.31,185.8 L532.8,187.3 L532.5,188.8 L532.4,190.3Z" fill="url(#UO)" fill-opacity="0.9" filter="url(#b03)"/>
<path d="M525,190.3 L524.84,188.5 L524.35,186.7 L523.54,184.9 L522.41,183.1 L520.95,181.3 L524.36,181.3 L525.67,183.1 L526.69,184.9 L527.42,186.7 L527.85,188.5 L528,190.3Z" fill="url(#Ub)" fill-opacity="0.45" filter="url(#b08)"/>
<path d="M532,190.3 L532.15,188.5 L532.58,186.7 L533.31,184.9 L534.33,183.1 L535.64,181.3 L538.55,181.3 L537.09,183.1 L535.96,184.9 L535.15,186.7 L534.66,188.5 L534.5,190.3Z" fill="url(#Uo)" fill-opacity="0.4" filter="url(#b08)"/>
<path d="M527.4,190.3 L527.3,191.8 L527,193.3 L526.49,194.8 L525.78,196.3 L524.87,197.8 L527.25,197.8 L528.06,196.3 L528.69,194.8 L529.14,193.3 L529.41,191.8 L529.5,190.3Z" fill="url(#DB)" fill-opacity="0.95" filter="url(#b03)"/>
<path d="M530.5,190.3 L530.59,191.8 L530.86,193.3 L531.31,194.8 L531.94,196.3 L532.75,197.8 L534.93,197.8 L534.02,196.3 L533.31,194.8 L532.8,193.3 L532.5,191.8 L532.4,190.3Z" fill="url(#DO)" fill-opacity="0.9" filter="url(#b03)"/>
<path d="M525,190.3 L524.84,192.1 L524.35,193.9 L523.54,195.7 L522.41,197.5 L520.95,199.3 L524.36,199.3 L525.67,197.5 L526.69,195.7 L527.42,193.9 L527.85,192.1 L528,190.3Z" fill="url(#Db)" fill-opacity="0.45" filter="url(#b08)"/>
<path d="M532,190.3 L532.15,192.1 L532.58,193.9 L533.31,195.7 L534.33,197.5 L535.64,199.3 L538.55,199.3 L537.09,197.5 L535.96,195.7 L535.15,193.9 L534.66,192.1 L534.5,190.3Z" fill="url(#Do)" fill-opacity="0.4" filter="url(#b08)"/>
<path d="M624.5,187.3 L622.14,181.03 L619.54,174.77 L616.71,168.5 L613.64,162.23 L610.34,155.97 L606.8,149.7 L608,149.7 L611.54,155.97 L614.84,162.23 L617.91,168.5 L620.74,174.77 L623.34,181.03 L625.7,187.3Z" fill="url(#Muk)" fill-opacity="0.62" filter="url(#b05)"/>
<path d="M623.4,187.3 L620.42,181.03 L617.19,174.77 L613.73,168.5 L610.04,162.23 L606.11,155.97 L601.94,149.7 L603.14,149.7 L607.31,155.97 L611.24,162.23 L614.93,168.5 L618.39,174.77 L621.62,181.03 L624.6,187.3Z" fill="url(#Mul)" fill-opacity="0.57" filter="url(#b05)"/>
<path d="M622.3,187.3 L618.69,181.03 L614.84,174.77 L610.75,168.5 L606.43,162.23 L601.87,155.97 L597.08,149.7 L598.28,149.7 L603.07,155.97 L607.63,162.23 L611.95,168.5 L616.04,174.77 L619.89,181.03 L623.5,187.3Z" fill="url(#Muk)" fill-opacity="0.52" filter="url(#b05)"/>
<path d="M621.2,187.3 L616.96,181.03 L612.48,174.77 L607.77,168.5 L602.82,162.23 L597.64,155.97 L592.22,149.7 L593.42,149.7 L598.84,155.97 L604.02,162.23 L608.97,168.5 L613.68,174.77 L618.16,181.03 L622.4,187.3Z" fill="url(#Mul)" fill-opacity="0.47" filter="url(#b05)"/>
<path d="M620.1,187.3 L615.24,181.03 L610.13,174.77 L604.79,168.5 L599.22,162.23 L593.41,155.97 L587.36,149.7 L588.56,149.7 L594.61,155.97 L600.42,162.23 L605.99,168.5 L611.33,174.77 L616.44,181.03 L621.3,187.3Z" fill="url(#Muk)" fill-opacity="0.42" filter="url(#b05)"/>
<path d="M619,187.3 L613.51,181.03 L607.78,174.77 L601.81,168.5 L595.61,162.23 L589.17,155.97 L582.5,149.7 L583.7,149.7 L590.37,155.97 L596.81,162.23 L603.01,168.5 L608.98,174.77 L614.71,181.03 L620.2,187.3Z" fill="url(#Mul)" fill-opacity="0.37" filter="url(#b05)"/>
<path d="M628.6,187.3 L630.96,181.03 L633.56,174.77 L636.39,168.5 L639.46,162.23 L642.76,155.97 L646.3,149.7 L647.5,149.7 L643.96,155.97 L640.66,162.23 L637.59,168.5 L634.76,174.77 L632.16,181.03 L629.8,187.3Z" fill="url(#Mul)" fill-opacity="0.62" filter="url(#b05)"/>
<path d="M629.7,187.3 L632.68,181.03 L635.91,174.77 L639.37,168.5 L643.06,162.23 L646.99,155.97 L651.16,149.7 L652.36,149.7 L648.19,155.97 L644.26,162.23 L640.57,168.5 L637.11,174.77 L633.88,181.03 L630.9,187.3Z" fill="url(#Muk)" fill-opacity="0.57" filter="url(#b05)"/>
<path d="M630.8,187.3 L634.41,181.03 L638.26,174.77 L642.35,168.5 L646.67,162.23 L651.23,155.97 L656.02,149.7 L657.22,149.7 L652.43,155.97 L647.87,162.23 L643.55,168.5 L639.46,174.77 L635.61,181.03 L632,187.3Z" fill="url(#Mul)" fill-opacity="0.52" filter="url(#b05)"/>
<path d="M631.9,187.3 L636.14,181.03 L640.62,174.77 L645.33,168.5 L650.28,162.23 L655.46,155.97 L660.88,149.7 L662.08,149.7 L656.66,155.97 L651.48,162.23 L646.53,168.5 L641.82,174.77 L637.34,181.03 L633.1,187.3Z" fill="url(#Muk)" fill-opacity="0.47" filter="url(#b05)"/>
<path d="M633,187.3 L637.86,181.03 L642.97,174.77 L648.31,168.5 L653.88,162.23 L659.69,155.97 L665.74,149.7 L666.94,149.7 L660.89,155.97 L655.08,162.23 L649.51,168.5 L644.17,174.77 L639.06,181.03 L634.2,187.3Z" fill="url(#Mul)" fill-opacity="0.42" filter="url(#b05)"/>
<path d="M634.1,187.3 L639.59,181.03 L645.32,174.77 L651.29,168.5 L657.49,162.23 L663.93,155.97 L670.6,149.7 L671.8,149.7 L665.13,155.97 L658.69,162.23 L652.49,168.5 L646.52,174.77 L640.79,181.03 L635.3,187.3Z" fill="url(#Muk)" fill-opacity="0.37" filter="url(#b05)"/>
<path d="M624.5,193.3 L622.14,199.57 L619.54,205.83 L616.71,212.1 L613.64,218.37 L610.34,224.63 L606.8,230.9 L608,230.9 L611.54,224.63 L614.84,218.37 L617.91,212.1 L620.74,205.83 L623.34,199.57 L625.7,193.3Z" fill="url(#Mdk)" fill-opacity="0.62" filter="url(#b05)"/>
<path d="M623.4,193.3 L620.42,199.57 L617.19,205.83 L613.73,212.1 L610.04,218.37 L606.11,224.63 L601.94,230.9 L603.14,230.9 L607.31,224.63 L611.24,218.37 L614.93,212.1 L618.39,205.83 L621.62,199.57 L624.6,193.3Z" fill="url(#Mdl)" fill-opacity="0.57" filter="url(#b05)"/>
<path d="M622.3,193.3 L618.69,199.57 L614.84,205.83 L610.75,212.1 L606.43,218.37 L601.87,224.63 L597.08,230.9 L598.28,230.9 L603.07,224.63 L607.63,218.37 L611.95,212.1 L616.04,205.83 L619.89,199.57 L623.5,193.3Z" fill="url(#Mdk)" fill-opacity="0.52" filter="url(#b05)"/>
<path d="M621.2,193.3 L616.96,199.57 L612.48,205.83 L607.77,212.1 L602.82,218.37 L597.64,224.63 L592.22,230.9 L593.42,230.9 L598.84,224.63 L604.02,218.37 L608.97,212.1 L613.68,205.83 L618.16,199.57 L622.4,193.3Z" fill="url(#Mdl)" fill-opacity="0.47" filter="url(#b05)"/>
<path d="M620.1,193.3 L615.24,199.57 L610.13,205.83 L604.79,212.1 L599.22,218.37 L593.41,224.63 L587.36,230.9 L588.56,230.9 L594.61,224.63 L600.42,218.37 L605.99,212.1 L611.33,205.83 L616.44,199.57 L621.3,193.3Z" fill="url(#Mdk)" fill-opacity="0.42" filter="url(#b05)"/>
<path d="M619,193.3 L613.51,199.57 L607.78,205.83 L601.81,212.1 L595.61,218.37 L589.17,224.63 L582.5,230.9 L583.7,230.9 L590.37,224.63 L596.81,218.37 L603.01,212.1 L608.98,205.83 L614.71,199.57 L620.2,193.3Z" fill="url(#Mdl)" fill-opacity="0.37" filter="url(#b05)"/>
<path d="M628.6,193.3 L630.96,199.57 L633.56,205.83 L636.39,212.1 L639.46,218.37 L642.76,224.63 L646.3,230.9 L647.5,230.9 L643.96,224.63 L640.66,218.37 L637.59,212.1 L634.76,205.83 L632.16,199.57 L629.8,193.3Z" fill="url(#Mdl)" fill-opacity="0.62" filter="url(#b05)"/>
<path d="M629.7,193.3 L632.68,199.57 L635.91,205.83 L639.37,212.1 L643.06,218.37 L646.99,224.63 L651.16,230.9 L652.36,230.9 L648.19,224.63 L644.26,218.37 L640.57,212.1 L637.11,205.83 L633.88,199.57 L630.9,193.3Z" fill="url(#Mdk)" fill-opacity="0.57" filter="url(#b05)"/>
<path d="M630.8,193.3 L634.41,199.57 L638.26,205.83 L642.35,212.1 L646.67,218.37 L651.23,224.63 L656.02,230.9 L657.22,230.9 L652.43,224.63 L647.87,218.37 L643.55,212.1 L639.46,205.83 L635.61,199.57 L632,193.3Z" fill="url(#Mdl)" fill-opacity="0.52" filter="url(#b05)"/>
<path d="M631.9,193.3 L636.14,199.57 L640.62,205.83 L645.33,212.1 L650.28,218.37 L655.46,224.63 L660.88,230.9 L662.08,230.9 L656.66,224.63 L651.48,218.37 L646.53,212.1 L641.82,205.83 L637.34,199.57 L633.1,193.3Z" fill="url(#Mdk)" fill-opacity="0.47" filter="url(#b05)"/>
<path d="M633,193.3 L637.86,199.57 L642.97,205.83 L648.31,212.1 L653.88,218.37 L659.69,224.63 L665.74,230.9 L666.94,230.9 L660.89,224.63 L655.08,218.37 L649.51,212.1 L644.17,205.83 L639.06,199.57 L634.2,193.3Z" fill="url(#Mdl)" fill-opacity="0.42" filter="url(#b05)"/>
<path d="M634.1,193.3 L639.59,199.57 L645.32,205.83 L651.29,212.1 L657.49,218.37 L663.93,224.63 L670.6,230.9 L671.8,230.9 L665.13,224.63 L658.69,218.37 L652.49,212.1 L646.52,205.83 L640.79,199.57 L635.3,193.3Z" fill="url(#Mdk)" fill-opacity="0.37" filter="url(#b05)"/>
<path d="M622.05,189.1 L620.75,186.5 L619.45,183.9 L618.15,181.3 L624.35,181.3 L624.87,183.9 L625.39,186.5 L625.91,189.1Z" fill="url(#uo)" fill-opacity="0.6" filter="url(#b05)"/>
<path d="M626.05,188.8 L626.05,185.8 L626.05,182.8 L628.35,182.8 L628.35,185.8 L628.35,188.8Z" fill="url(#UB)" fill-opacity="1" filter="url(#b03)"/>
<path d="M622.05,191.5 L620.75,194.1 L619.45,196.7 L618.15,199.3 L624.35,199.3 L624.87,196.7 L625.39,194.1 L625.91,191.5Z" fill="url(#do)" fill-opacity="0.6" filter="url(#b05)"/>
<path d="M626.05,191.8 L626.05,194.8 L626.05,197.8 L628.35,197.8 L628.35,194.8 L628.35,191.8Z" fill="url(#DB)" fill-opacity="1" filter="url(#b03)"/>
<path d="M432.75,167.3 L432.75,173.8" stroke="#f5a432" stroke-width="2.4"/>
<path d="M432.75,179.8 L430.15,171 L435.35,171 Z" fill="#f5a432"/>
<path d="M432.75,208.8 L432.75,202.8" stroke="#f5a432" stroke-width="2.4"/>
<path d="M432.75,196.8 L430.15,205.6 L435.35,205.6 Z" fill="#f5a432"/>
<path d="M529.9,167.3 L529.9,173.8" stroke="#f5a432" stroke-width="2.4"/>
<path d="M529.9,179.8 L527.3,171 L532.5,171 Z" fill="#f5a432"/>
<path d="M529.9,208.8 L529.9,202.8" stroke="#f5a432" stroke-width="2.4"/>
<path d="M529.9,196.8 L527.3,205.6 L532.5,205.6 Z" fill="#f5a432"/>
<path d="M627.05,167.3 L627.05,173.8" stroke="#f5a432" stroke-width="2.4"/>
<path d="M627.05,179.8 L624.45,171 L629.65,171 Z" fill="#f5a432"/>
<path d="M627.05,208.8 L627.05,202.8" stroke="#f5a432" stroke-width="2.4"/>
<path d="M627.05,196.8 L624.45,205.6 L629.65,205.6 Z" fill="#f5a432"/>
</g>
<path d="M393.99,182.5 L398.6,182.5 L403.21,182.51 L407.82,182.51 L412.43,182.52 L417.04,182.52 L421.65,182.53 L426.26,182.53 L430.87,182.54 L435.48,182.54 L440.1,182.54 L444.71,182.55 L449.32,182.55 L453.93,182.56 L458.54,182.56 L463.15,182.56 L467.76,182.57 L472.37,182.57 L476.98,182.58 L481.59,182.58 L486.2,182.58 L490.81,182.59 L495.42,182.59 L500.03,182.59 L504.64,182.59 L509.25,182.6 L513.86,182.6 L518.47,182.6 L523.08,182.6 L527.69,182.6 L532.31,182.6 L536.92,182.6 L541.53,182.6 L546.14,182.6 L550.75,182.6 L555.36,182.59 L559.97,182.59 L564.58,182.59 L569.19,182.59 L573.8,182.58 L578.41,182.58 L583.02,182.58 L587.63,182.57 L592.24,182.57 L596.85,182.56 L601.46,182.56 L606.07,182.56 L610.68,182.55 L615.29,182.55 L619.9,182.54 L624.52,182.54 L629.13,182.54 L633.74,182.53 L638.35,182.53 L642.96,182.52 L647.57,182.52 L652.18,182.51 L656.79,182.51 L661.4,182.5 L666.01,182.5" stroke="#fa14fa" stroke-width="1.45" stroke-dasharray="6,2.3" stroke-dashoffset="4" fill="none"/>
<path d="M393.99,194.7 L398.6,194.7 L403.21,194.69 L407.82,194.69 L412.43,194.68 L417.04,194.68 L421.65,194.67 L426.26,194.67 L430.87,194.66 L435.48,194.66 L440.1,194.66 L444.71,194.65 L449.32,194.65 L453.93,194.64 L458.54,194.64 L463.15,194.64 L467.76,194.63 L472.37,194.63 L476.98,194.62 L481.59,194.62 L486.2,194.62 L490.81,194.61 L495.42,194.61 L500.03,194.61 L504.64,194.61 L509.25,194.6 L513.86,194.6 L518.47,194.6 L523.08,194.6 L527.69,194.6 L532.31,194.6 L536.92,194.6 L541.53,194.6 L546.14,194.6 L550.75,194.6 L555.36,194.61 L559.97,194.61 L564.58,194.61 L569.19,194.61 L573.8,194.62 L578.41,194.62 L583.02,194.62 L587.63,194.63 L592.24,194.63 L596.85,194.64 L601.46,194.64 L606.07,194.64 L610.68,194.65 L615.29,194.65 L619.9,194.66 L624.52,194.66 L629.13,194.66 L633.74,194.67 L638.35,194.67 L642.96,194.68 L647.57,194.68 L652.18,194.69 L656.79,194.69 L661.4,194.7 L666.01,194.7" stroke="#fa14fa" stroke-width="1.45" stroke-dasharray="6,2.3" stroke-dashoffset="4" fill="none"/>
<path d="M448,188.3 L506.5,188.3" stroke="#fa14fa" stroke-width="1.9"/>
<path d="M511.5,188.3 L504.5,185.3 L504.5,191.3 Z" fill="#fa14fa"/>
<path d="M550.5,188.3 L609,188.3" stroke="#fa14fa" stroke-width="1.9"/>
<path d="M614,188.3 L607,185.3 L607,191.3 Z" fill="#fa14fa"/>
<rect x="394.2" y="152.7" width="271.2" height="72.9" fill="none" stroke="#3a3a3a" stroke-width="1.05"/>
<path d="M394.2,162.9 L397,162.9 M665.4,162.9 L662.6,162.9 M394.2,190.3 L397,190.3 M665.4,190.3 L662.6,190.3 M394.2,217.7 L397,217.7 M665.4,217.7 L662.6,217.7 M413.42,152.7 L413.42,155.3 M413.42,225.6 L413.42,223 M452.28,152.7 L452.28,155.3 M452.28,225.6 L452.28,223 M491.14,152.7 L491.14,155.3 M491.14,225.6 L491.14,223 M530,152.7 L530,155.3 M530,225.6 L530,223 M568.86,152.7 L568.86,155.3 M568.86,225.6 L568.86,223 M607.72,152.7 L607.72,155.3 M607.72,225.6 L607.72,223 M646.58,152.7 L646.58,155.3 M646.58,225.6 L646.58,223" stroke="#3a3a3a" stroke-width="1" fill="none"/>
<text transform="translate(391.3,166.4) scale(1,1.18)" text-anchor="end" font-size="9.6" fill="#333" font-family='"Liberation Sans", sans-serif'>-20</text>
<text transform="translate(391.3,193.8) scale(1,1.18)" text-anchor="end" font-size="9.6" fill="#333" font-family='"Liberation Sans", sans-serif'>0</text>
<text transform="translate(391.3,221.2) scale(1,1.18)" text-anchor="end" font-size="9.6" fill="#333" font-family='"Liberation Sans", sans-serif'>20</text>
<text transform="translate(380.4,191.1) scale(1,1.0) rotate(-90)" text-anchor="middle" font-size="9.8" fill="#333" font-family='"Liberation Sans", sans-serif'><tspan font-style="italic">r</tspan>(<tspan font-style="italic">q</tspan><tspan font-size="6.4" dy="2">1</tspan><tspan dy="-2">)</tspan></text>
<text transform="translate(401,168.4) scale(1,1.0)" font-size="13" font-weight="bold" fill="#222" font-family='"Liberation Sans", sans-serif'>e</text>
<text transform="translate(464.3,167.4) scale(1,1.18)" font-size="10.6" font-style="italic" fill="#e8622c" font-family='"Liberation Sans", sans-serif'>q</text>
<text transform="translate(469.2,171.8) scale(1,1.18)" font-size="7.8" fill="#e8622c" font-family='"Liberation Sans", sans-serif'>3</text>
<text transform="translate(473.4,167.4) scale(1,1.18)" font-size="10.6" fill="#e8622c" font-family='"Liberation Sans", sans-serif'>=</text>
<text transform="translate(480.1,167.4) scale(1,1.18)" font-size="11.2" fill="#e8622c" font-family='"Liberation Sans", sans-serif'>5</text>
<text transform="translate(487.1,167.4) scale(1,1.18)" font-size="10.6" font-style="italic" fill="#e8622c" font-family='"Liberation Sans", sans-serif'>q</text>
<text transform="translate(492.5,171.8) scale(1,1.18)" font-size="7.8" fill="#e8622c" font-family='"Liberation Sans", sans-serif'>1</text>

<clipPath id="pc3"><rect x="394.2" y="228.5" width="271.6" height="72.7"/></clipPath>
<g clip-path="url(#pc3)">
<path d="M431.22,268.65 A4,4 0 0 1 431.22,261.35" stroke="#a9cde9" stroke-opacity="0.36" stroke-width="0.9" fill="none"/>
<path d="M434.48,261.35 A4,4 0 0 1 434.48,268.65" stroke="#f2bfa4" stroke-opacity="0.36" stroke-width="0.9" fill="none"/>
<path d="M430.29,270.76 A6.3,6.3 0 0 1 430.29,259.24" stroke="#f2bfa4" stroke-opacity="0.36" stroke-width="0.9" fill="none"/>
<path d="M435.41,259.24 A6.3,6.3 0 0 1 435.41,270.76" stroke="#a9cde9" stroke-opacity="0.36" stroke-width="0.9" fill="none"/>
<path d="M429.35,272.86 A8.6,8.6 0 0 1 429.35,257.14" stroke="#a9cde9" stroke-opacity="0.36" stroke-width="0.9" fill="none"/>
<path d="M436.35,257.14 A8.6,8.6 0 0 1 436.35,272.86" stroke="#f2bfa4" stroke-opacity="0.36" stroke-width="0.9" fill="none"/>
<path d="M428.42,274.96 A10.9,10.9 0 0 1 428.42,255.04" stroke="#f2bfa4" stroke-opacity="0.36" stroke-width="0.9" fill="none"/>
<path d="M437.28,255.04 A10.9,10.9 0 0 1 437.28,274.96" stroke="#a9cde9" stroke-opacity="0.36" stroke-width="0.9" fill="none"/>
<path d="M427.48,277.06 A13.2,13.2 0 0 1 427.48,252.94" stroke="#a9cde9" stroke-opacity="0.36" stroke-width="0.9" fill="none"/>
<path d="M438.22,252.94 A13.2,13.2 0 0 1 438.22,277.06" stroke="#f2bfa4" stroke-opacity="0.36" stroke-width="0.9" fill="none"/>
<path d="M426.55,279.16 A15.5,15.5 0 0 1 426.55,250.84" stroke="#f2bfa4" stroke-opacity="0.36" stroke-width="0.9" fill="none"/>
<path d="M439.15,250.84 A15.5,15.5 0 0 1 439.15,279.16" stroke="#a9cde9" stroke-opacity="0.36" stroke-width="0.9" fill="none"/>
<path d="M425.61,281.26 A17.8,17.8 0 0 1 425.61,248.74" stroke="#a9cde9" stroke-opacity="0.36" stroke-width="0.9" fill="none"/>
<path d="M440.09,248.74 A17.8,17.8 0 0 1 440.09,281.26" stroke="#f2bfa4" stroke-opacity="0.36" stroke-width="0.9" fill="none"/>
<path d="M424.67,283.36 A20.1,20.1 0 0 1 424.67,246.64" stroke="#f2bfa4" stroke-opacity="0.36" stroke-width="0.9" fill="none"/>
<path d="M441.03,246.64 A20.1,20.1 0 0 1 441.03,283.36" stroke="#a9cde9" stroke-opacity="0.36" stroke-width="0.9" fill="none"/>
<path d="M423.74,285.46 A22.4,22.4 0 0 1 423.74,244.54" stroke="#a9cde9" stroke-opacity="0.36" stroke-width="0.9" fill="none"/>
<path d="M441.96,244.54 A22.4,22.4 0 0 1 441.96,285.46" stroke="#f2bfa4" stroke-opacity="0.36" stroke-width="0.9" fill="none"/>
<path d="M422.8,287.56 A24.7,24.7 0 0 1 422.8,242.44" stroke="#f2bfa4" stroke-opacity="0.36" stroke-width="0.9" fill="none"/>
<path d="M442.9,242.44 A24.7,24.7 0 0 1 442.9,287.56" stroke="#a9cde9" stroke-opacity="0.36" stroke-width="0.9" fill="none"/>
<path d="M421.87,289.67 A27,27 0 0 1 421.87,240.33" stroke="#a9cde9" stroke-opacity="0.36" stroke-width="0.9" fill="none"/>
<path d="M443.83,240.33 A27,27 0 0 1 443.83,289.67" stroke="#f2bfa4" stroke-opacity="0.36" stroke-width="0.9" fill="none"/>
<path d="M420.93,291.77 A29.3,29.3 0 0 1 420.93,238.23" stroke="#f2bfa4" stroke-opacity="0.36" stroke-width="0.9" fill="none"/>
<path d="M444.77,238.23 A29.3,29.3 0 0 1 444.77,291.77" stroke="#a9cde9" stroke-opacity="0.36" stroke-width="0.9" fill="none"/>
<path d="M420,293.87 A31.6,31.6 0 0 1 420,236.13" stroke="#a9cde9" stroke-opacity="0.35" stroke-width="0.9" fill="none"/>
<path d="M445.7,236.13 A31.6,31.6 0 0 1 445.7,293.87" stroke="#f2bfa4" stroke-opacity="0.35" stroke-width="0.9" fill="none"/>
<path d="M419.06,295.97 A33.9,33.9 0 0 1 419.06,234.03" stroke="#f2bfa4" stroke-opacity="0.34" stroke-width="0.9" fill="none"/>
<path d="M446.64,234.03 A33.9,33.9 0 0 1 446.64,295.97" stroke="#a9cde9" stroke-opacity="0.34" stroke-width="0.9" fill="none"/>
<path d="M418.13,298.07 A36.2,36.2 0 0 1 418.13,231.93" stroke="#a9cde9" stroke-opacity="0.34" stroke-width="0.9" fill="none"/>
<path d="M447.57,231.93 A36.2,36.2 0 0 1 447.57,298.07" stroke="#f2bfa4" stroke-opacity="0.34" stroke-width="0.9" fill="none"/>
<path d="M417.19,300.17 A38.5,38.5 0 0 1 417.19,229.83" stroke="#f2bfa4" stroke-opacity="0.33" stroke-width="0.9" fill="none"/>
<path d="M448.51,229.83 A38.5,38.5 0 0 1 448.51,300.17" stroke="#a9cde9" stroke-opacity="0.33" stroke-width="0.9" fill="none"/>
<path d="M416.26,302.27 A40.8,40.8 0 0 1 416.26,227.73" stroke="#a9cde9" stroke-opacity="0.32" stroke-width="0.9" fill="none"/>
<path d="M449.44,227.73 A40.8,40.8 0 0 1 449.44,302.27" stroke="#f2bfa4" stroke-opacity="0.32" stroke-width="0.9" fill="none"/>
<path d="M415.32,304.37 A43.1,43.1 0 0 1 415.32,225.63" stroke="#f2bfa4" stroke-opacity="0.31" stroke-width="0.9" fill="none"/>
<path d="M450.38,225.63 A43.1,43.1 0 0 1 450.38,304.37" stroke="#a9cde9" stroke-opacity="0.31" stroke-width="0.9" fill="none"/>
<path d="M414.38,306.47 A45.4,45.4 0 0 1 414.38,223.53" stroke="#a9cde9" stroke-opacity="0.3" stroke-width="0.9" fill="none"/>
<path d="M451.32,223.53 A45.4,45.4 0 0 1 451.32,306.47" stroke="#f2bfa4" stroke-opacity="0.3" stroke-width="0.9" fill="none"/>
<path d="M413.45,308.58 A47.7,47.7 0 0 1 413.45,221.42" stroke="#f2bfa4" stroke-opacity="0.29" stroke-width="0.9" fill="none"/>
<path d="M452.25,221.42 A47.7,47.7 0 0 1 452.25,308.58" stroke="#a9cde9" stroke-opacity="0.29" stroke-width="0.9" fill="none"/>
<path d="M412.51,310.68 A50,50 0 0 1 412.51,219.32" stroke="#a9cde9" stroke-opacity="0.28" stroke-width="0.9" fill="none"/>
<path d="M453.19,219.32 A50,50 0 0 1 453.19,310.68" stroke="#f2bfa4" stroke-opacity="0.28" stroke-width="0.9" fill="none"/>
<path d="M411.58,312.78 A52.3,52.3 0 0 1 411.58,217.22" stroke="#f2bfa4" stroke-opacity="0.27" stroke-width="0.9" fill="none"/>
<path d="M454.12,217.22 A52.3,52.3 0 0 1 454.12,312.78" stroke="#a9cde9" stroke-opacity="0.27" stroke-width="0.9" fill="none"/>
<path d="M410.64,314.88 A54.6,54.6 0 0 1 410.64,215.12" stroke="#a9cde9" stroke-opacity="0.26" stroke-width="0.9" fill="none"/>
<path d="M455.06,215.12 A54.6,54.6 0 0 1 455.06,314.88" stroke="#f2bfa4" stroke-opacity="0.26" stroke-width="0.9" fill="none"/>
<path d="M409.71,316.98 A56.9,56.9 0 0 1 409.71,213.02" stroke="#f2bfa4" stroke-opacity="0.25" stroke-width="0.9" fill="none"/>
<path d="M455.99,213.02 A56.9,56.9 0 0 1 455.99,316.98" stroke="#a9cde9" stroke-opacity="0.25" stroke-width="0.9" fill="none"/>
<path d="M408.77,319.08 A59.2,59.2 0 0 1 408.77,210.92" stroke="#a9cde9" stroke-opacity="0.24" stroke-width="0.9" fill="none"/>
<path d="M456.93,210.92 A59.2,59.2 0 0 1 456.93,319.08" stroke="#f2bfa4" stroke-opacity="0.24" stroke-width="0.9" fill="none"/>
<path d="M407.84,321.18 A61.5,61.5 0 0 1 407.84,208.82" stroke="#f2bfa4" stroke-opacity="0.23" stroke-width="0.9" fill="none"/>
<path d="M457.86,208.82 A61.5,61.5 0 0 1 457.86,321.18" stroke="#a9cde9" stroke-opacity="0.23" stroke-width="0.9" fill="none"/>
<path d="M406.9,323.28 A63.8,63.8 0 0 1 406.9,206.72" stroke="#a9cde9" stroke-opacity="0.22" stroke-width="0.9" fill="none"/>
<path d="M458.8,206.72 A63.8,63.8 0 0 1 458.8,323.28" stroke="#f2bfa4" stroke-opacity="0.22" stroke-width="0.9" fill="none"/>
<path d="M528.37,268.65 A4,4 0 0 1 528.37,261.35" stroke="#a9cde9" stroke-opacity="0.36" stroke-width="0.9" fill="none"/>
<path d="M531.63,261.35 A4,4 0 0 1 531.63,268.65" stroke="#f2bfa4" stroke-opacity="0.36" stroke-width="0.9" fill="none"/>
<path d="M527.44,270.76 A6.3,6.3 0 0 1 527.44,259.24" stroke="#f2bfa4" stroke-opacity="0.36" stroke-width="0.9" fill="none"/>
<path d="M532.56,259.24 A6.3,6.3 0 0 1 532.56,270.76" stroke="#a9cde9" stroke-opacity="0.36" stroke-width="0.9" fill="none"/>
<path d="M526.5,272.86 A8.6,8.6 0 0 1 526.5,257.14" stroke="#a9cde9" stroke-opacity="0.36" stroke-width="0.9" fill="none"/>
<path d="M533.5,257.14 A8.6,8.6 0 0 1 533.5,272.86" stroke="#f2bfa4" stroke-opacity="0.36" stroke-width="0.9" fill="none"/>
<path d="M525.57,274.96 A10.9,10.9 0 0 1 525.57,255.04" stroke="#f2bfa4" stroke-opacity="0.36" stroke-width="0.9" fill="none"/>
<path d="M534.43,255.04 A10.9,10.9 0 0 1 534.43,274.96" stroke="#a9cde9" stroke-opacity="0.36" stroke-width="0.9" fill="none"/>
<path d="M524.63,277.06 A13.2,13.2 0 0 1 524.63,252.94" stroke="#a9cde9" stroke-opacity="0.36" stroke-width="0.9" fill="none"/>
<path d="M535.37,252.94 A13.2,13.2 0 0 1 535.37,277.06" stroke="#f2bfa4" stroke-opacity="0.36" stroke-width="0.9" fill="none"/>
<path d="M523.7,279.16 A15.5,15.5 0 0 1 523.7,250.84" stroke="#f2bfa4" stroke-opacity="0.36" stroke-width="0.9" fill="none"/>
<path d="M536.3,250.84 A15.5,15.5 0 0 1 536.3,279.16" stroke="#a9cde9" stroke-opacity="0.36" stroke-width="0.9" fill="none"/>
<path d="M522.76,281.26 A17.8,17.8 0 0 1 522.76,248.74" stroke="#a9cde9" stroke-opacity="0.36" stroke-width="0.9" fill="none"/>
<path d="M537.24,248.74 A17.8,17.8 0 0 1 537.24,281.26" stroke="#f2bfa4" stroke-opacity="0.36" stroke-width="0.9" fill="none"/>
<path d="M521.82,283.36 A20.1,20.1 0 0 1 521.82,246.64" stroke="#f2bfa4" stroke-opacity="0.36" stroke-width="0.9" fill="none"/>
<path d="M538.18,246.64 A20.1,20.1 0 0 1 538.18,283.36" stroke="#a9cde9" stroke-opacity="0.36" stroke-width="0.9" fill="none"/>
<path d="M520.89,285.46 A22.4,22.4 0 0 1 520.89,244.54" stroke="#a9cde9" stroke-opacity="0.36" stroke-width="0.9" fill="none"/>
<path d="M539.11,244.54 A22.4,22.4 0 0 1 539.11,285.46" stroke="#f2bfa4" stroke-opacity="0.36" stroke-width="0.9" fill="none"/>
<path d="M519.95,287.56 A24.7,24.7 0 0 1 519.95,242.44" stroke="#f2bfa4" stroke-opacity="0.36" stroke-width="0.9" fill="none"/>
<path d="M540.05,242.44 A24.7,24.7 0 0 1 540.05,287.56" stroke="#a9cde9" stroke-opacity="0.36" stroke-width="0.9" fill="none"/>
<path d="M519.02,289.67 A27,27 0 0 1 519.02,240.33" stroke="#a9cde9" stroke-opacity="0.36" stroke-width="0.9" fill="none"/>
<path d="M540.98,240.33 A27,27 0 0 1 540.98,289.67" stroke="#f2bfa4" stroke-opacity="0.36" stroke-width="0.9" fill="none"/>
<path d="M518.08,291.77 A29.3,29.3 0 0 1 518.08,238.23" stroke="#f2bfa4" stroke-opacity="0.36" stroke-width="0.9" fill="none"/>
<path d="M541.92,238.23 A29.3,29.3 0 0 1 541.92,291.77" stroke="#a9cde9" stroke-opacity="0.36" stroke-width="0.9" fill="none"/>
<path d="M517.15,293.87 A31.6,31.6 0 0 1 517.15,236.13" stroke="#a9cde9" stroke-opacity="0.35" stroke-width="0.9" fill="none"/>
<path d="M542.85,236.13 A31.6,31.6 0 0 1 542.85,293.87" stroke="#f2bfa4" stroke-opacity="0.35" stroke-width="0.9" fill="none"/>
<path d="M516.21,295.97 A33.9,33.9 0 0 1 516.21,234.03" stroke="#f2bfa4" stroke-opacity="0.34" stroke-width="0.9" fill="none"/>
<path d="M543.79,234.03 A33.9,33.9 0 0 1 543.79,295.97" stroke="#a9cde9" stroke-opacity="0.34" stroke-width="0.9" fill="none"/>
<path d="M515.28,298.07 A36.2,36.2 0 0 1 515.28,231.93" stroke="#a9cde9" stroke-opacity="0.34" stroke-width="0.9" fill="none"/>
<path d="M544.72,231.93 A36.2,36.2 0 0 1 544.72,298.07" stroke="#f2bfa4" stroke-opacity="0.34" stroke-width="0.9" fill="none"/>
<path d="M514.34,300.17 A38.5,38.5 0 0 1 514.34,229.83" stroke="#f2bfa4" stroke-opacity="0.33" stroke-width="0.9" fill="none"/>
<path d="M545.66,229.83 A38.5,38.5 0 0 1 545.66,300.17" stroke="#a9cde9" stroke-opacity="0.33" stroke-width="0.9" fill="none"/>
<path d="M513.41,302.27 A40.8,40.8 0 0 1 513.41,227.73" stroke="#a9cde9" stroke-opacity="0.32" stroke-width="0.9" fill="none"/>
<path d="M546.59,227.73 A40.8,40.8 0 0 1 546.59,302.27" stroke="#f2bfa4" stroke-opacity="0.32" stroke-width="0.9" fill="none"/>
<path d="M512.47,304.37 A43.1,43.1 0 0 1 512.47,225.63" stroke="#f2bfa4" stroke-opacity="0.31" stroke-width="0.9" fill="none"/>
<path d="M547.53,225.63 A43.1,43.1 0 0 1 547.53,304.37" stroke="#a9cde9" stroke-opacity="0.31" stroke-width="0.9" fill="none"/>
<path d="M511.53,306.47 A45.4,45.4 0 0 1 511.53,223.53" stroke="#a9cde9" stroke-opacity="0.3" stroke-width="0.9" fill="none"/>
<path d="M548.47,223.53 A45.4,45.4 0 0 1 548.47,306.47" stroke="#f2bfa4" stroke-opacity="0.3" stroke-width="0.9" fill="none"/>
<path d="M510.6,308.58 A47.7,47.7 0 0 1 510.6,221.42" stroke="#f2bfa4" stroke-opacity="0.29" stroke-width="0.9" fill="none"/>
<path d="M549.4,221.42 A47.7,47.7 0 0 1 549.4,308.58" stroke="#a9cde9" stroke-opacity="0.29" stroke-width="0.9" fill="none"/>
<path d="M509.66,310.68 A50,50 0 0 1 509.66,219.32" stroke="#a9cde9" stroke-opacity="0.28" stroke-width="0.9" fill="none"/>
<path d="M550.34,219.32 A50,50 0 0 1 550.34,310.68" stroke="#f2bfa4" stroke-opacity="0.28" stroke-width="0.9" fill="none"/>
<path d="M508.73,312.78 A52.3,52.3 0 0 1 508.73,217.22" stroke="#f2bfa4" stroke-opacity="0.27" stroke-width="0.9" fill="none"/>
<path d="M551.27,217.22 A52.3,52.3 0 0 1 551.27,312.78" stroke="#a9cde9" stroke-opacity="0.27" stroke-width="0.9" fill="none"/>
<path d="M507.79,314.88 A54.6,54.6 0 0 1 507.79,215.12" stroke="#a9cde9" stroke-opacity="0.26" stroke-width="0.9" fill="none"/>
<path d="M552.21,215.12 A54.6,54.6 0 0 1 552.21,314.88" stroke="#f2bfa4" stroke-opacity="0.26" stroke-width="0.9" fill="none"/>
<path d="M506.86,316.98 A56.9,56.9 0 0 1 506.86,213.02" stroke="#f2bfa4" stroke-opacity="0.25" stroke-width="0.9" fill="none"/>
<path d="M553.14,213.02 A56.9,56.9 0 0 1 553.14,316.98" stroke="#a9cde9" stroke-opacity="0.25" stroke-width="0.9" fill="none"/>
<path d="M505.92,319.08 A59.2,59.2 0 0 1 505.92,210.92" stroke="#a9cde9" stroke-opacity="0.24" stroke-width="0.9" fill="none"/>
<path d="M554.08,210.92 A59.2,59.2 0 0 1 554.08,319.08" stroke="#f2bfa4" stroke-opacity="0.24" stroke-width="0.9" fill="none"/>
<path d="M504.99,321.18 A61.5,61.5 0 0 1 504.99,208.82" stroke="#f2bfa4" stroke-opacity="0.23" stroke-width="0.9" fill="none"/>
<path d="M555.01,208.82 A61.5,61.5 0 0 1 555.01,321.18" stroke="#a9cde9" stroke-opacity="0.23" stroke-width="0.9" fill="none"/>
<path d="M504.05,323.28 A63.8,63.8 0 0 1 504.05,206.72" stroke="#a9cde9" stroke-opacity="0.22" stroke-width="0.9" fill="none"/>
<path d="M555.95,206.72 A63.8,63.8 0 0 1 555.95,323.28" stroke="#f2bfa4" stroke-opacity="0.22" stroke-width="0.9" fill="none"/>
<path d="M625.52,268.65 A4,4 0 0 1 625.52,261.35" stroke="#a9cde9" stroke-opacity="0.36" stroke-width="0.9" fill="none"/>
<path d="M628.78,261.35 A4,4 0 0 1 628.78,268.65" stroke="#f2bfa4" stroke-opacity="0.36" stroke-width="0.9" fill="none"/>
<path d="M624.59,270.76 A6.3,6.3 0 0 1 624.59,259.24" stroke="#f2bfa4" stroke-opacity="0.36" stroke-width="0.9" fill="none"/>
<path d="M629.71,259.24 A6.3,6.3 0 0 1 629.71,270.76" stroke="#a9cde9" stroke-opacity="0.36" stroke-width="0.9" fill="none"/>
<path d="M623.65,272.86 A8.6,8.6 0 0 1 623.65,257.14" stroke="#a9cde9" stroke-opacity="0.36" stroke-width="0.9" fill="none"/>
<path d="M630.65,257.14 A8.6,8.6 0 0 1 630.65,272.86" stroke="#f2bfa4" stroke-opacity="0.36" stroke-width="0.9" fill="none"/>
<path d="M622.72,274.96 A10.9,10.9 0 0 1 622.72,255.04" stroke="#f2bfa4" stroke-opacity="0.36" stroke-width="0.9" fill="none"/>
<path d="M631.58,255.04 A10.9,10.9 0 0 1 631.58,274.96" stroke="#a9cde9" stroke-opacity="0.36" stroke-width="0.9" fill="none"/>
<path d="M621.78,277.06 A13.2,13.2 0 0 1 621.78,252.94" stroke="#a9cde9" stroke-opacity="0.36" stroke-width="0.9" fill="none"/>
<path d="M632.52,252.94 A13.2,13.2 0 0 1 632.52,277.06" stroke="#f2bfa4" stroke-opacity="0.36" stroke-width="0.9" fill="none"/>
<path d="M620.85,279.16 A15.5,15.5 0 0 1 620.85,250.84" stroke="#f2bfa4" stroke-opacity="0.36" stroke-width="0.9" fill="none"/>
<path d="M633.45,250.84 A15.5,15.5 0 0 1 633.45,279.16" stroke="#a9cde9" stroke-opacity="0.36" stroke-width="0.9" fill="none"/>
<path d="M619.91,281.26 A17.8,17.8 0 0 1 619.91,248.74" stroke="#a9cde9" stroke-opacity="0.36" stroke-width="0.9" fill="none"/>
<path d="M634.39,248.74 A17.8,17.8 0 0 1 634.39,281.26" stroke="#f2bfa4" stroke-opacity="0.36" stroke-width="0.9" fill="none"/>
<path d="M618.97,283.36 A20.1,20.1 0 0 1 618.97,246.64" stroke="#f2bfa4" stroke-opacity="0.36" stroke-width="0.9" fill="none"/>
<path d="M635.33,246.64 A20.1,20.1 0 0 1 635.33,283.36" stroke="#a9cde9" stroke-opacity="0.36" stroke-width="0.9" fill="none"/>
<path d="M618.04,285.46 A22.4,22.4 0 0 1 618.04,244.54" stroke="#a9cde9" stroke-opacity="0.36" stroke-width="0.9" fill="none"/>
<path d="M636.26,244.54 A22.4,22.4 0 0 1 636.26,285.46" stroke="#f2bfa4" stroke-opacity="0.36" stroke-width="0.9" fill="none"/>
<path d="M617.1,287.56 A24.7,24.7 0 0 1 617.1,242.44" stroke="#f2bfa4" stroke-opacity="0.36" stroke-width="0.9" fill="none"/>
<path d="M637.2,242.44 A24.7,24.7 0 0 1 637.2,287.56" stroke="#a9cde9" stroke-opacity="0.36" stroke-width="0.9" fill="none"/>
<path d="M616.17,289.67 A27,27 0 0 1 616.17,240.33" stroke="#a9cde9" stroke-opacity="0.36" stroke-width="0.9" fill="none"/>
<path d="M638.13,240.33 A27,27 0 0 1 638.13,289.67" stroke="#f2bfa4" stroke-opacity="0.36" stroke-width="0.9" fill="none"/>
<path d="M615.23,291.77 A29.3,29.3 0 0 1 615.23,238.23" stroke="#f2bfa4" stroke-opacity="0.36" stroke-width="0.9" fill="none"/>
<path d="M639.07,238.23 A29.3,29.3 0 0 1 639.07,291.77" stroke="#a9cde9" stroke-opacity="0.36" stroke-width="0.9" fill="none"/>
<path d="M614.3,293.87 A31.6,31.6 0 0 1 614.3,236.13" stroke="#a9cde9" stroke-opacity="0.35" stroke-width="0.9" fill="none"/>
<path d="M640,236.13 A31.6,31.6 0 0 1 640,293.87" stroke="#f2bfa4" stroke-opacity="0.35" stroke-width="0.9" fill="none"/>
<path d="M613.36,295.97 A33.9,33.9 0 0 1 613.36,234.03" stroke="#f2bfa4" stroke-opacity="0.34" stroke-width="0.9" fill="none"/>
<path d="M640.94,234.03 A33.9,33.9 0 0 1 640.94,295.97" stroke="#a9cde9" stroke-opacity="0.34" stroke-width="0.9" fill="none"/>
<path d="M612.43,298.07 A36.2,36.2 0 0 1 612.43,231.93" stroke="#a9cde9" stroke-opacity="0.34" stroke-width="0.9" fill="none"/>
<path d="M641.87,231.93 A36.2,36.2 0 0 1 641.87,298.07" stroke="#f2bfa4" stroke-opacity="0.34" stroke-width="0.9" fill="none"/>
<path d="M611.49,300.17 A38.5,38.5 0 0 1 611.49,229.83" stroke="#f2bfa4" stroke-opacity="0.33" stroke-width="0.9" fill="none"/>
<path d="M642.81,229.83 A38.5,38.5 0 0 1 642.81,300.17" stroke="#a9cde9" stroke-opacity="0.33" stroke-width="0.9" fill="none"/>
<path d="M610.56,302.27 A40.8,40.8 0 0 1 610.56,227.73" stroke="#a9cde9" stroke-opacity="0.32" stroke-width="0.9" fill="none"/>
<path d="M643.74,227.73 A40.8,40.8 0 0 1 643.74,302.27" stroke="#f2bfa4" stroke-opacity="0.32" stroke-width="0.9" fill="none"/>
<path d="M609.62,304.37 A43.1,43.1 0 0 1 609.62,225.63" stroke="#f2bfa4" stroke-opacity="0.31" stroke-width="0.9" fill="none"/>
<path d="M644.68,225.63 A43.1,43.1 0 0 1 644.68,304.37" stroke="#a9cde9" stroke-opacity="0.31" stroke-width="0.9" fill="none"/>
<path d="M608.68,306.47 A45.4,45.4 0 0 1 608.68,223.53" stroke="#a9cde9" stroke-opacity="0.3" stroke-width="0.9" fill="none"/>
<path d="M645.62,223.53 A45.4,45.4 0 0 1 645.62,306.47" stroke="#f2bfa4" stroke-opacity="0.3" stroke-width="0.9" fill="none"/>
<path d="M607.75,308.58 A47.7,47.7 0 0 1 607.75,221.42" stroke="#f2bfa4" stroke-opacity="0.29" stroke-width="0.9" fill="none"/>
<path d="M646.55,221.42 A47.7,47.7 0 0 1 646.55,308.58" stroke="#a9cde9" stroke-opacity="0.29" stroke-width="0.9" fill="none"/>
<path d="M606.81,310.68 A50,50 0 0 1 606.81,219.32" stroke="#a9cde9" stroke-opacity="0.28" stroke-width="0.9" fill="none"/>
<path d="M647.49,219.32 A50,50 0 0 1 647.49,310.68" stroke="#f2bfa4" stroke-opacity="0.28" stroke-width="0.9" fill="none"/>
<path d="M605.88,312.78 A52.3,52.3 0 0 1 605.88,217.22" stroke="#f2bfa4" stroke-opacity="0.27" stroke-width="0.9" fill="none"/>
<path d="M648.42,217.22 A52.3,52.3 0 0 1 648.42,312.78" stroke="#a9cde9" stroke-opacity="0.27" stroke-width="0.9" fill="none"/>
<path d="M604.94,314.88 A54.6,54.6 0 0 1 604.94,215.12" stroke="#a9cde9" stroke-opacity="0.26" stroke-width="0.9" fill="none"/>
<path d="M649.36,215.12 A54.6,54.6 0 0 1 649.36,314.88" stroke="#f2bfa4" stroke-opacity="0.26" stroke-width="0.9" fill="none"/>
<path d="M604.01,316.98 A56.9,56.9 0 0 1 604.01,213.02" stroke="#f2bfa4" stroke-opacity="0.25" stroke-width="0.9" fill="none"/>
<path d="M650.29,213.02 A56.9,56.9 0 0 1 650.29,316.98" stroke="#a9cde9" stroke-opacity="0.25" stroke-width="0.9" fill="none"/>
<path d="M603.07,319.08 A59.2,59.2 0 0 1 603.07,210.92" stroke="#a9cde9" stroke-opacity="0.24" stroke-width="0.9" fill="none"/>
<path d="M651.23,210.92 A59.2,59.2 0 0 1 651.23,319.08" stroke="#f2bfa4" stroke-opacity="0.24" stroke-width="0.9" fill="none"/>
<path d="M602.14,321.18 A61.5,61.5 0 0 1 602.14,208.82" stroke="#f2bfa4" stroke-opacity="0.23" stroke-width="0.9" fill="none"/>
<path d="M652.16,208.82 A61.5,61.5 0 0 1 652.16,321.18" stroke="#a9cde9" stroke-opacity="0.23" stroke-width="0.9" fill="none"/>
<path d="M601.2,323.28 A63.8,63.8 0 0 1 601.2,206.72" stroke="#a9cde9" stroke-opacity="0.22" stroke-width="0.9" fill="none"/>
<path d="M653.1,206.72 A63.8,63.8 0 0 1 653.1,323.28" stroke="#f2bfa4" stroke-opacity="0.22" stroke-width="0.9" fill="none"/>
<path d="M432.35,264.6 L426.85,262.44 L426.85,264.04 L431.35,264.9 Z" fill="#1c6cb0" fill-opacity="0.95" filter="url(#b05)"/>
<path d="M433.35,264.6 L438.35,262.62 L438.35,264.12 L434.35,264.9 Z" fill="#c4501c" fill-opacity="0.85" filter="url(#b05)"/>
<path d="M432.35,264.6 L421.85,260.64 L421.85,262.24 L431.35,264.9 Z" fill="#5a9ad0" fill-opacity="0.5" filter="url(#b05)"/>
<path d="M433.35,264.6 L442.85,261 L442.85,262.5 L434.35,264.9 Z" fill="#e58a5c" fill-opacity="0.45" filter="url(#b05)"/>
<path d="M432.35,265.4 L426.85,267.56 L426.85,265.96 L431.35,265.1 Z" fill="#1c6cb0" fill-opacity="0.95" filter="url(#b05)"/>
<path d="M433.35,265.4 L438.35,267.38 L438.35,265.88 L434.35,265.1 Z" fill="#c4501c" fill-opacity="0.85" filter="url(#b05)"/>
<path d="M432.35,265.4 L421.85,269.36 L421.85,267.76 L431.35,265.1 Z" fill="#5a9ad0" fill-opacity="0.5" filter="url(#b05)"/>
<path d="M433.35,265.4 L442.85,269 L442.85,267.5 L434.35,265.1 Z" fill="#e58a5c" fill-opacity="0.45" filter="url(#b05)"/>
<ellipse cx="425.85" cy="265" rx="7" ry="3.4" fill="#5a9ad0" fill-opacity="0.35" filter="url(#b12)"/>
<ellipse cx="439.85" cy="265" rx="6" ry="3.4" fill="#e58a5c" fill-opacity="0.3" filter="url(#b12)"/>
<path d="M529.5,264.6 L524,262.44 L524,264.04 L528.5,264.9 Z" fill="#1c6cb0" fill-opacity="0.95" filter="url(#b05)"/>
<path d="M530.5,264.6 L535.5,262.62 L535.5,264.12 L531.5,264.9 Z" fill="#c4501c" fill-opacity="0.85" filter="url(#b05)"/>
<path d="M529.5,264.6 L519,260.64 L519,262.24 L528.5,264.9 Z" fill="#5a9ad0" fill-opacity="0.5" filter="url(#b05)"/>
<path d="M530.5,264.6 L540,261 L540,262.5 L531.5,264.9 Z" fill="#e58a5c" fill-opacity="0.45" filter="url(#b05)"/>
<path d="M529.5,265.4 L524,267.56 L524,265.96 L528.5,265.1 Z" fill="#1c6cb0" fill-opacity="0.95" filter="url(#b05)"/>
<path d="M530.5,265.4 L535.5,267.38 L535.5,265.88 L531.5,265.1 Z" fill="#c4501c" fill-opacity="0.85" filter="url(#b05)"/>
<path d="M529.5,265.4 L519,269.36 L519,267.76 L528.5,265.1 Z" fill="#5a9ad0" fill-opacity="0.5" filter="url(#b05)"/>
<path d="M530.5,265.4 L540,269 L540,267.5 L531.5,265.1 Z" fill="#e58a5c" fill-opacity="0.45" filter="url(#b05)"/>
<ellipse cx="523" cy="265" rx="7" ry="3.4" fill="#5a9ad0" fill-opacity="0.35" filter="url(#b12)"/>
<ellipse cx="537" cy="265" rx="6" ry="3.4" fill="#e58a5c" fill-opacity="0.3" filter="url(#b12)"/>
<path d="M626.65,264.6 L621.15,262.44 L621.15,264.04 L625.65,264.9 Z" fill="#1c6cb0" fill-opacity="0.95" filter="url(#b05)"/>
<path d="M627.65,264.6 L632.65,262.62 L632.65,264.12 L628.65,264.9 Z" fill="#c4501c" fill-opacity="0.85" filter="url(#b05)"/>
<path d="M626.65,264.6 L616.15,260.64 L616.15,262.24 L625.65,264.9 Z" fill="#5a9ad0" fill-opacity="0.5" filter="url(#b05)"/>
<path d="M627.65,264.6 L637.15,261 L637.15,262.5 L628.65,264.9 Z" fill="#e58a5c" fill-opacity="0.45" filter="url(#b05)"/>
<path d="M626.65,265.4 L621.15,267.56 L621.15,265.96 L625.65,265.1 Z" fill="#1c6cb0" fill-opacity="0.95" filter="url(#b05)"/>
<path d="M627.65,265.4 L632.65,267.38 L632.65,265.88 L628.65,265.1 Z" fill="#c4501c" fill-opacity="0.85" filter="url(#b05)"/>
<path d="M626.65,265.4 L616.15,269.36 L616.15,267.76 L625.65,265.1 Z" fill="#5a9ad0" fill-opacity="0.5" filter="url(#b05)"/>
<path d="M627.65,265.4 L637.15,269 L637.15,267.5 L628.65,265.1 Z" fill="#e58a5c" fill-opacity="0.45" filter="url(#b05)"/>
<ellipse cx="620.15" cy="265" rx="7" ry="3.4" fill="#5a9ad0" fill-opacity="0.35" filter="url(#b12)"/>
<ellipse cx="634.15" cy="265" rx="6" ry="3.4" fill="#e58a5c" fill-opacity="0.3" filter="url(#b12)"/>
<path d="M432.75,247.5 L432.75,254.5" stroke="#f5a432" stroke-width="2.4"/>
<path d="M432.75,260.5 L430.15,251.7 L435.35,251.7 Z" fill="#f5a432"/>
<path d="M432.75,281.5 L432.75,275" stroke="#f5a432" stroke-width="2.4"/>
<path d="M432.75,269 L430.15,277.8 L435.35,277.8 Z" fill="#f5a432"/>
<path d="M529.9,247.5 L529.9,254.5" stroke="#f5a432" stroke-width="2.4"/>
<path d="M529.9,260.5 L527.3,251.7 L532.5,251.7 Z" fill="#f5a432"/>
<path d="M529.9,281.5 L529.9,275" stroke="#f5a432" stroke-width="2.4"/>
<path d="M529.9,269 L527.3,277.8 L532.5,277.8 Z" fill="#f5a432"/>
<path d="M627.05,247.5 L627.05,254.5" stroke="#f5a432" stroke-width="2.4"/>
<path d="M627.05,260.5 L624.45,251.7 L629.65,251.7 Z" fill="#f5a432"/>
<path d="M627.05,281.5 L627.05,275" stroke="#f5a432" stroke-width="2.4"/>
<path d="M627.05,269 L624.45,277.8 L629.65,277.8 Z" fill="#f5a432"/>
</g>
<path d="M394.2,261.3 L665.4,261.3" stroke="#fa14fa" stroke-width="1.45" stroke-dasharray="6,2.3" stroke-dashoffset="4" fill="none"/>
<path d="M394.2,267.4 L665.4,267.4" stroke="#fa14fa" stroke-width="1.45" stroke-dasharray="6,2.3" stroke-dashoffset="4" fill="none"/>
<path d="M448,264.3 L506.5,264.3" stroke="#fa14fa" stroke-width="1.9"/>
<path d="M511.5,264.3 L504.5,261.3 L504.5,267.3 Z" fill="#fa14fa"/>
<path d="M550.5,264.3 L609,264.3" stroke="#fa14fa" stroke-width="1.9"/>
<path d="M614,264.3 L607,261.3 L607,267.3 Z" fill="#fa14fa"/>
<rect x="394.2" y="228.5" width="271.2" height="72.69999999999999" fill="none" stroke="#3a3a3a" stroke-width="1.05"/>
<path d="M394.2,237.6 L397,237.6 M665.4,237.6 L662.6,237.6 M394.2,265 L397,265 M665.4,265 L662.6,265 M394.2,292.4 L397,292.4 M665.4,292.4 L662.6,292.4 M413.42,228.5 L413.42,231.1 M413.42,301.2 L413.42,298.6 M452.28,228.5 L452.28,231.1 M452.28,301.2 L452.28,298.6 M491.14,228.5 L491.14,231.1 M491.14,301.2 L491.14,298.6 M530,228.5 L530,231.1 M530,301.2 L530,298.6 M568.86,228.5 L568.86,231.1 M568.86,301.2 L568.86,298.6 M607.72,228.5 L607.72,231.1 M607.72,301.2 L607.72,298.6 M646.58,228.5 L646.58,231.1 M646.58,301.2 L646.58,298.6" stroke="#3a3a3a" stroke-width="1" fill="none"/>
<text transform="translate(391.3,241.1) scale(1,1.18)" text-anchor="end" font-size="9.6" fill="#333" font-family='"Liberation Sans", sans-serif'>-20</text>
<text transform="translate(391.3,268.5) scale(1,1.18)" text-anchor="end" font-size="9.6" fill="#333" font-family='"Liberation Sans", sans-serif'>0</text>
<text transform="translate(391.3,295.9) scale(1,1.18)" text-anchor="end" font-size="9.6" fill="#333" font-family='"Liberation Sans", sans-serif'>20</text>
<text transform="translate(380.4,265.8) scale(1,1.0) rotate(-90)" text-anchor="middle" font-size="9.8" fill="#333" font-family='"Liberation Sans", sans-serif'><tspan font-style="italic">r</tspan>(<tspan font-style="italic">q</tspan><tspan font-size="6.4" dy="2">1</tspan><tspan dy="-2">)</tspan></text>
<text transform="translate(401,242.6) scale(1,1.0)" font-size="13" font-weight="bold" fill="#222" font-family='"Liberation Sans", sans-serif'>f</text>
<text transform="translate(464.3,242.4) scale(1,1.18)" font-size="10.6" font-style="italic" fill="#e8622c" font-family='"Liberation Sans", sans-serif'>q</text>
<text transform="translate(469.2,246.8) scale(1,1.18)" font-size="7.8" fill="#e8622c" font-family='"Liberation Sans", sans-serif'>3</text>
<text transform="translate(474,242.4) scale(1,1.18)" font-size="10.6" fill="#e8622c" font-family='"Liberation Sans", sans-serif'>=</text>
<text transform="translate(480.7,242.4) scale(1,1.18)" font-size="10.6" font-style="italic" fill="#e8622c" font-family='"Liberation Sans", sans-serif'>q</text>
<text transform="translate(486.5,246.8) scale(1,1.18)" font-size="7.8" fill="#e8622c" font-family='"Liberation Sans", sans-serif'>1</text>
<text transform="translate(413.42,310.6) scale(1,1.18)" text-anchor="middle" font-size="9.6" fill="#333" font-family='"Liberation Sans", sans-serif'>-60</text>
<text transform="translate(452.28,310.6) scale(1,1.18)" text-anchor="middle" font-size="9.6" fill="#333" font-family='"Liberation Sans", sans-serif'>-40</text>
<text transform="translate(491.14,310.6) scale(1,1.18)" text-anchor="middle" font-size="9.6" fill="#333" font-family='"Liberation Sans", sans-serif'>-20</text>
<text transform="translate(530,310.6) scale(1,1.18)" text-anchor="middle" font-size="9.6" fill="#333" font-family='"Liberation Sans", sans-serif'>0</text>
<text transform="translate(568.86,310.6) scale(1,1.18)" text-anchor="middle" font-size="9.6" fill="#333" font-family='"Liberation Sans", sans-serif'>20</text>
<text transform="translate(607.72,310.6) scale(1,1.18)" text-anchor="middle" font-size="9.6" fill="#333" font-family='"Liberation Sans", sans-serif'>40</text>
<text transform="translate(646.58,310.6) scale(1,1.18)" text-anchor="middle" font-size="9.6" fill="#333" font-family='"Liberation Sans", sans-serif'>60</text>
<text transform="translate(518.5,319.2) scale(1,1.18)" font-size="9.6" fill="#333" font-family='"Liberation Sans", sans-serif'><tspan font-style="italic">z</tspan> (<tspan font-style="italic">q</tspan><tspan font-size="6.4" dy="2">1</tspan><tspan dy="-2">)</tspan></text>
<defs><linearGradient id="cb" x1="0" y1="0" x2="0" y2="1"><stop offset="0" stop-color="#d0501a"/><stop offset="0.25" stop-color="#e89670"/><stop offset="0.5" stop-color="#f7f7f7"/><stop offset="0.75" stop-color="#8cbcdf"/><stop offset="1" stop-color="#1c6db2"/></linearGradient></defs>
<rect x="670.4" y="5.2" width="5.2" height="293.3" fill="url(#cb)" stroke="#666" stroke-width="0.5"/>
<path d="M675.6,151.8 L673.6,151.8" stroke="#333" stroke-width="0.8"/>
<text transform="translate(678.3,9) scale(1,1.18)" font-size="9.6" fill="#333" font-family='"Liberation Sans", sans-serif'>1</text>
<text transform="translate(678,155) scale(1,1.18)" font-size="9.6" fill="#333" font-family='"Liberation Sans", sans-serif'>0</text>
<text transform="translate(676.3,300.5) scale(1,1.18)" font-size="9.6" fill="#333" font-family='"Liberation Sans", sans-serif'>-1</text>
</svg></body></html>
